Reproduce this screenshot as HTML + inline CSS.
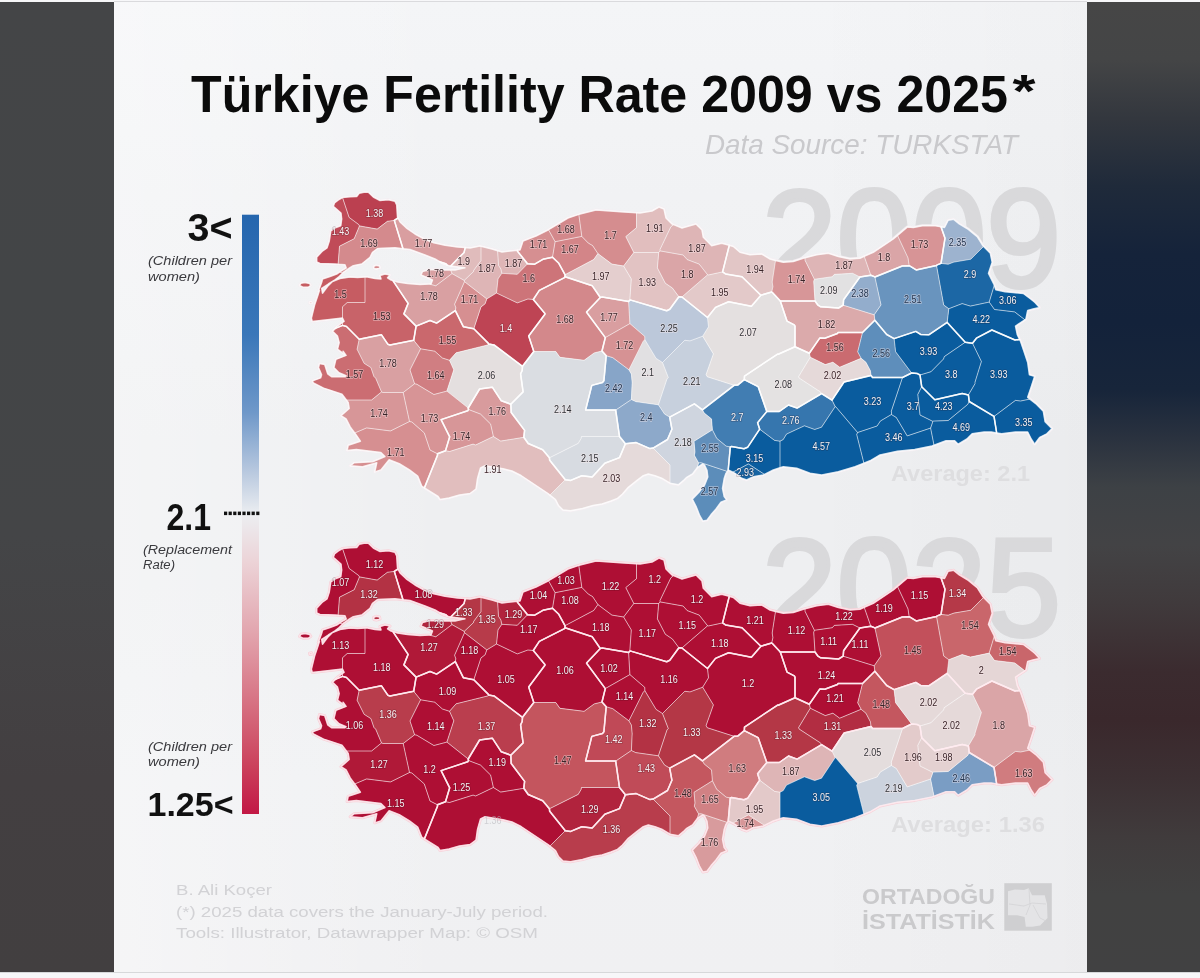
<!DOCTYPE html>
<html lang="en"><head><meta charset="utf-8">
<title>Türkiye Fertility Rate 2009 vs 2025</title>
<style>
html,body{margin:0;padding:0}
body{width:1200px;height:978px;position:relative;overflow:hidden;background:#f7f7f9;font-family:"Liberation Sans",Arial,sans-serif}
#left{position:absolute;left:0;top:2px;width:114px;height:970px;background:linear-gradient(to bottom,#444547 0%,#434547 30%,#444547 55%,#433f41 80%,#423f40 100%)}
#right{position:absolute;left:1087px;top:2px;width:113px;height:970px;background:linear-gradient(to bottom,#464646 0%,#444546 6%,#33373e 12%,#1f2a3a 19%,#15233a 26%,#13223a 33%,#17253a 40%,#2a323f 45%,#3d4145 50%,#434345 56%,#403a3c 62%,#3b2b2f 69%,#3a282c 74%,#3c3033 80%,#403b3c 86%,#414141 92%,#414142 100%)}
#panel{position:absolute;left:114px;top:2px;width:973px;height:970px;background:linear-gradient(to bottom,#f4f5f7 0%,#f1f2f4 20%,#eeeff1 45%,#eeeff1 60%,#f0f1f3 80%,#f0f0f2 100%)}
#shade{position:absolute;left:114px;top:2px;width:973px;height:970px;background:linear-gradient(to right,rgba(255,255,255,0.35) 0%,rgba(255,255,255,0) 35%,rgba(0,0,0,0) 70%,rgba(0,0,0,0.015) 100%)}
#tl{position:absolute;left:114px;top:1px;width:973px;height:1px;background:#dadadd}
#bl{position:absolute;left:0;top:972px;width:1200px;height:1px;background:#d7d8da}
svg{position:absolute;left:0;top:0}
.lb{font-family:"Liberation Sans",Arial,sans-serif;font-size:10.6px;text-anchor:middle;stroke-width:1.7px;paint-order:stroke;stroke-linejoin:round}
.t{position:absolute;white-space:nowrap;line-height:1}
</style></head><body>
<div id="left"></div><div id="right"></div><div id="panel"></div><div id="shade"></div><div id="tl"></div><div id="bl"></div>
<svg width="1200" height="978" viewBox="0 0 1200 978">
<defs>
<linearGradient id="lg" x1="0" y1="0" x2="0" y2="1">
<stop offset="0.000" stop-color="#2566ae"/>
<stop offset="0.200" stop-color="#3a77b9"/>
<stop offset="0.330" stop-color="#6f98c9"/>
<stop offset="0.430" stop-color="#b9c9df"/>
<stop offset="0.500" stop-color="#eceef1"/>
<stop offset="0.580" stop-color="#ecd3d7"/>
<stop offset="0.700" stop-color="#e2a4ad"/>
<stop offset="0.820" stop-color="#d66f80"/>
<stop offset="0.920" stop-color="#cb415c"/>
<stop offset="1.000" stop-color="#c21845"/>
</linearGradient>
</defs>
<!-- watermark years -->
<text id="w1" x="1061" y="286.5" text-anchor="end" font-family="Liberation Sans, Arial, sans-serif" font-size="140" fill="#d9d9db" stroke="#d9d9db" stroke-width="4" textLength="299" lengthAdjust="spacingAndGlyphs">2009</text>
<text id="w2" x="1061" y="635.5" text-anchor="end" font-family="Liberation Sans, Arial, sans-serif" font-size="140" fill="#d9d9db" stroke="#d9d9db" stroke-width="4" textLength="299" lengthAdjust="spacingAndGlyphs">2025</text>
<text x="891" y="481" font-family="Liberation Sans, Arial, sans-serif" font-weight="bold" font-size="22" fill="#dedee0" textLength="139" lengthAdjust="spacingAndGlyphs">Average: 2.1</text>
<text x="891" y="832" font-family="Liberation Sans, Arial, sans-serif" font-weight="bold" font-size="22" fill="#dedee0" textLength="154" lengthAdjust="spacingAndGlyphs">Average: 1.36</text>
<g id="m2009">
<path d="M376.5 269.0 380.0 268.0 379.5 266.0 376.0 265.3 373.5 266.5 374.0 268.5ZM308.5 287.0 310.8 285.3 309.5 283.4 305.0 282.6 301.0 283.2 299.5 285.5 303.0 287.2ZM312.0 303.2 311.5 301.8 309.5 302.3 310.0 303.6ZM314.6 305.0 311.4 318.1 312.2 321.4 327.7 319.7 342.4 318.1 344.1 321.4 337.5 326.3 332.6 331.2 337.5 336.1 339.2 342.6 337.5 349.2 344.1 354.1 343.1 351.3 346.1 355.4 335.9 359.4 333.9 367.6 339.0 372.7 346.1 375.8 345.1 376.8 331.8 376.8 327.7 373.8 324.7 364.6 319.5 363.5 318.5 367.6 321.6 374.8 320.6 377.9 312.4 380.9 313.4 383.0 323.6 388.1 329.8 390.1 342.0 394.2 348.2 402.4 349.2 408.5 341.0 415.7 346.1 418.8 350.2 426.9 356.3 435.1 360.4 441.2 348.2 445.3 347.1 450.5 356.3 449.4 380.9 452.5 385.0 456.6 372.7 461.7 354.3 462.7 350.2 465.8 362.5 466.8 376.8 462.7 374.8 471.9 380.9 469.9 389.1 459.7 399.3 463.7 409.5 469.9 417.7 476.0 421.8 486.2 430.0 491.4 438.1 496.5 440.0 499.5 449.0 498.0 459.5 495.0 470.0 493.5 476.0 489.0 477.5 478.5 480.5 468.0 485.0 465.7 494.0 467.3 503.0 468.7 512.0 471.0 521.0 475.5 530.0 481.5 539.0 487.5 548.0 493.5 555.5 499.5 558.5 505.5 563.0 510.0 570.5 510.7 582.5 508.5 593.0 505.5 602.0 504.0 611.0 501.0 617.5 498.4 622.5 494.0 628.3 487.3 636.7 480.7 643.3 475.7 648.3 474.0 655.0 475.7 661.7 478.2 670.0 483.2 678.3 484.8 683.3 480.7 686.7 477.3 692.5 474.0 697.5 467.3 702.5 464.0 704.5 465.0 707.0 470.4 707.8 477.0 704.5 485.2 698.8 492.5 692.3 499.1 696.4 507.2 699.6 515.4 702.9 521.1 707.0 520.3 711.1 514.6 716.0 508.9 720.9 502.3 726.6 499.9 724.2 496.6 722.5 488.4 724.2 478.6 725.8 473.7 728.3 470.0 735.0 473.3 741.7 478.3 746.7 480.0 753.3 476.7 763.3 475.0 773.3 470.0 783.3 466.7 796.7 468.3 810.0 473.3 821.7 475.0 838.3 471.7 855.0 466.7 870.0 460.8 880.0 455.0 897.4 451.2 914.7 449.4 932.1 445.9 946.0 440.7 954.7 440.7 958.2 444.2 966.9 439.0 972.1 433.8 984.2 432.0 991.2 432.0 1001.6 433.8 1015.5 432.0 1027.7 432.0 1031.2 439.0 1034.6 444.2 1039.8 437.3 1046.8 433.8 1052.0 428.6 1045.1 421.6 1043.3 411.2 1036.4 404.2 1027.7 397.3 1031.2 386.9 1034.6 376.4 1029.4 374.7 1027.7 362.5 1024.2 352.1 1020.7 341.7 1017.3 334.7 1015.5 326.1 1025.9 319.1 1027.7 310.4 1033.0 309.0 1039.5 307.5 1035.0 302.5 1030.7 299.0 1023.3 293.5 1005.0 291.7 995.8 289.8 994.0 284.3 988.5 273.3 992.2 262.3 990.3 253.2 983.0 245.8 977.5 237.0 968.3 229.3 959.2 223.8 953.7 219.3 948.2 220.2 944.5 227.5 935.3 225.7 922.5 225.7 913.3 227.5 907.5 227.0 893.3 239.0 883.3 245.7 873.3 252.3 860.0 258.2 850.0 259.0 838.3 256.5 828.3 253.2 816.7 254.8 803.3 258.2 793.3 261.5 783.3 262.3 770.0 259.0 761.7 254.0 750.0 254.8 740.0 252.3 733.3 246.5 721.7 243.2 711.7 245.7 703.3 237.3 702.0 230.0 696.0 224.0 682.0 228.0 672.0 224.0 666.0 218.0 664.0 209.0 659.0 207.0 652.0 211.0 640.0 213.0 624.0 212.0 610.0 211.0 596.0 210.0 580.0 214.0 568.0 218.0 558.0 224.0 548.0 230.0 536.0 236.0 523.0 241.0 520.0 250.0 502.0 252.0 492.0 249.0 480.0 246.0 470.0 248.0 457.5 247.0 445.0 245.2 433.8 242.8 425.0 239.5 415.0 234.0 406.2 227.8 400.0 222.0 397.5 217.0 396.7 204.8 395.0 201.3 388.3 199.8 380.0 200.5 373.3 197.0 368.3 192.3 364.0 192.3 359.2 193.2 356.7 196.5 350.0 196.8 342.5 197.5 339.0 199.5 334.5 203.0 333.3 206.3 337.0 209.5 341.0 213.0 341.7 219.0 340.8 225.7 336.0 227.5 330.8 231.0 329.3 241.0 327.0 248.0 322.0 251.5 316.7 257.3 316.7 262.0 320.0 263.5 335.0 264.0 345.0 264.8 346.2 268.0 341.7 270.7 336.7 274.0 330.0 276.5 322.5 279.0 321.7 282.3 319.2 289.0 318.3 291.5 319.5 290.3 317.9 295.2ZM335.0 279.8 339.2 276.5 343.3 272.3 349.2 268.2 353.3 265.7 361.7 264.0 370.0 257.3 372.5 252.3 377.5 248.5 395.0 247.8 410.0 249.5 425.0 255.0 435.0 259.0 442.5 263.5 450.0 266.0 465.0 267.8 455.0 270.0 442.5 270.0 430.0 269.5 422.5 271.5 421.0 275.0 427.5 277.8 432.5 280.0 431.0 284.0 420.0 284.5 407.5 283.5 397.5 282.0 391.0 280.0 387.5 277.8 390.0 275.0 385.0 274.0 380.0 275.5 381.0 279.0 375.0 278.5 367.5 277.0 357.5 277.5 350.0 277.0 340.0 278.5 332.5 281.5 327.5 286.5 322.5 293.2 321.7 288.4 328.3 284.0Z" fill="none" stroke="#f4eef2" stroke-width="3" stroke-linejoin="round"/>
<path d="M339.5 246.2 354.2 238.7 359.5 225.9 358.7 224.5 349.1 217.4 342.5 197.5 339.0 199.5 334.5 203.0 333.3 206.3 337.0 209.5 341.0 213.0 341.7 219.0 340.8 225.7 336.0 227.5 330.8 231.0 329.3 241.0 327.0 248.0 322.0 251.5 316.7 257.3 316.7 262.0 320.0 263.5 335.0 264.0 338.1 264.3Z" fill="#c04b58"/>
<path d="M398.0 218.0 397.5 217.0 396.7 204.8 395.0 201.3 388.3 199.8 380.0 200.5 373.3 197.0 368.3 192.3 364.0 192.3 359.2 193.2 356.7 196.5 350.0 196.8 342.5 197.5 349.1 217.4 358.7 224.5 359.5 225.9 377.2 229.1 387.4 221.3 394.3 220.4Z" fill="#bb4050"/>
<path d="M359.5 225.9 354.2 238.7 339.5 246.2 338.1 264.3 345.0 264.8 346.2 268.0 341.7 270.7 339.6 272.1 342.7 273.0 343.3 272.3 349.2 268.2 353.3 265.7 361.7 264.0 370.0 257.3 372.5 252.3 377.5 248.5 395.0 247.8 403.0 248.7 394.3 220.4 387.4 221.3 377.2 229.1ZM378.7 268.4 380.0 268.0 379.5 266.0 376.0 265.3 373.5 266.5 374.0 268.5 375.3 268.8Z" fill="#d48a8d"/>
<path d="M394.3 220.4 403.0 248.7 410.0 249.5 425.0 255.0 435.0 259.0 439.6 261.7 445.7 263.6 447.2 265.1 450.0 266.0 450.7 266.1 464.1 252.4 465.2 247.6 457.5 247.0 445.0 245.2 433.8 242.8 425.0 239.5 415.0 234.0 406.2 227.8 400.0 222.0 398.0 218.0Z" fill="#d99ea0"/>
<path d="M450.7 266.1 465.0 267.8 455.0 270.0 450.6 270.0 452.0 273.6 464.2 280.4 473.4 271.7 473.8 270.2 481.0 260.6 481.0 246.2 480.0 246.0 470.0 248.0 465.2 247.6 464.1 252.4Z" fill="#e0bcbc"/>
<path d="M481.0 260.6 473.8 270.2 473.4 271.7 464.2 280.4 464.5 281.7 486.8 298.9 496.5 293.0 498.0 278.9 501.8 273.3 500.9 269.0 498.5 265.3 497.6 250.7 492.0 249.0 481.0 246.2Z" fill="#deb5b6"/>
<path d="M498.5 265.3 500.9 269.0 501.8 273.3 517.3 274.3 527.5 263.8 517.5 251.2 517.3 250.3 502.0 252.0 497.6 250.7Z" fill="#deb5b6"/>
<path d="M517.5 251.2 527.5 263.8 534.7 264.2 542.9 259.3 552.5 257.2 555.1 241.7 548.5 229.7 548.0 230.0 536.0 236.0 523.0 241.0 520.0 250.0 517.3 250.3Z" fill="#d68f91"/>
<path d="M555.1 241.7 581.8 236.4 578.8 214.4 568.0 218.0 558.0 224.0 548.5 229.7Z" fill="#d3888b"/>
<path d="M558.8 263.3 565.0 274.7 593.7 259.5 597.9 253.6 597.9 253.6 592.6 245.6 588.3 243.1 581.8 236.4 555.1 241.7 552.5 257.2Z" fill="#d38588"/>
<path d="M588.3 243.1 592.6 245.6 597.9 253.6 597.9 253.6 611.9 264.1 623.6 266.0 633.8 252.5 625.8 236.6 636.5 227.7 636.5 212.8 624.0 212.0 610.0 211.0 596.0 210.0 580.0 214.0 578.8 214.4 581.8 236.4Z" fill="#d58d8f"/>
<path d="M636.5 227.7 625.8 236.6 633.8 252.5 658.7 252.5 660.0 250.9 660.0 249.5 670.8 226.9 673.6 224.6 672.0 224.0 666.0 218.0 664.0 209.0 659.0 207.0 652.0 211.0 640.0 213.0 636.5 212.8Z" fill="#e1bebe"/>
<path d="M670.8 226.9 660.0 249.5 660.0 250.9 683.1 255.0 687.2 259.6 699.2 264.1 707.6 274.8 708.3 275.0 722.6 271.9 729.3 245.3 721.7 243.2 711.7 245.7 703.3 237.3 702.0 230.0 696.0 224.0 682.0 228.0 673.6 224.6Z" fill="#deb5b6"/>
<path d="M722.6 271.9 725.5 273.9 742.0 276.8 760.9 295.2 771.7 292.0 772.9 286.7 772.2 282.0 775.5 260.4 770.0 259.0 761.7 254.0 750.0 254.8 740.0 252.3 733.3 246.5 729.3 245.3Z" fill="#e2c6c6"/>
<path d="M771.7 292.0 772.4 292.5 780.3 301.0 815.0 301.0 813.7 281.3 814.4 279.3 805.0 260.3 805.0 257.8 803.3 258.2 793.3 261.5 783.3 262.3 775.5 260.4 772.2 282.0 772.9 286.7Z" fill="#d79698"/>
<path d="M805.0 260.3 814.4 279.3 832.3 276.7 834.3 274.4 852.5 273.3 859.9 277.0 870.8 275.2 864.2 256.3 860.0 258.2 850.0 259.0 838.3 256.5 828.3 253.2 816.7 254.8 805.0 257.8Z" fill="#deb5b6"/>
<path d="M870.8 275.2 874.3 276.6 874.9 277.0 902.3 266.0 909.2 265.7 908.0 257.9 897.5 235.5 893.3 239.0 883.3 245.7 873.3 252.3 864.2 256.3Z" fill="#daa5a7"/>
<path d="M908.0 257.9 909.2 265.7 916.2 269.9 936.5 265.4 937.2 264.9 941.0 263.4 945.0 238.2 941.0 226.8 935.3 225.7 922.5 225.7 913.3 227.5 907.5 227.0 897.5 235.5Z" fill="#d79496"/>
<path d="M945.0 238.2 941.0 263.4 948.2 264.2 953.9 262.1 970.8 259.2 983.6 246.4 983.0 245.8 977.5 237.0 968.3 229.3 959.2 223.8 953.7 219.3 948.2 220.2 944.5 227.5 941.0 226.8Z" fill="#9db3cf"/>
<path d="M953.9 262.1 948.2 264.2 941.0 263.4 937.2 264.9 936.5 265.4 943.7 305.0 948.8 308.7 962.2 303.6 970.4 306.1 989.2 302.1 994.3 285.1 994.0 284.3 988.5 273.3 992.2 262.3 990.3 253.2 983.6 246.4 970.8 259.2Z" fill="#1c67a5"/>
<path d="M989.2 302.1 994.5 309.5 1014.7 311.9 1024.9 319.8 1025.9 319.1 1027.7 310.4 1033.0 309.0 1039.5 307.5 1035.0 302.5 1030.7 299.0 1023.3 293.5 1005.0 291.7 995.8 289.8 994.3 285.1Z" fill="#0a5c9e"/>
<path d="M1015.0 340.0 1019.6 339.4 1017.3 334.7 1015.5 326.1 1024.9 319.8 1014.7 311.9 994.5 309.5 989.2 302.1 970.4 306.1 962.2 303.6 948.8 308.7 947.2 322.4 965.2 342.3 972.5 343.3 976.4 338.2 991.9 330.0Z" fill="#0a5c9e"/>
<path d="M916.2 269.9 909.2 265.7 902.3 266.0 874.9 277.0 881.0 304.9 874.2 314.8 874.8 320.2 886.7 334.5 894.1 338.6 915.8 331.4 920.6 334.4 929.1 334.7 947.2 322.4 948.8 308.7 943.7 305.0 936.5 265.4Z" fill="#6994be"/>
<path d="M843.2 305.2 874.2 314.8 881.0 304.9 874.9 277.0 874.3 276.6 870.8 275.2 859.9 277.0 843.6 299.8Z" fill="#93adcc"/>
<path d="M852.5 273.3 834.3 274.4 832.3 276.7 814.4 279.3 813.7 281.3 815.0 301.0 818.0 305.2 820.7 306.8 838.6 308.0 843.2 305.2 843.6 299.8 859.9 277.0Z" fill="#e2e1e2"/>
<path d="M795.0 326.1 795.0 346.7 809.3 353.2 819.9 337.9 824.8 338.2 837.4 333.5 838.1 332.5 862.5 332.5 874.8 320.2 874.2 314.8 843.2 305.2 838.6 308.0 820.7 306.8 818.0 305.2 815.0 301.0 780.3 301.0 787.0 321.1 794.3 324.9Z" fill="#dbaaab"/>
<path d="M838.1 332.5 837.4 333.5 824.8 338.2 819.9 337.9 809.3 353.2 810.3 357.2 825.3 364.6 832.9 362.2 839.7 367.2 861.1 358.3 857.7 351.8 862.5 332.5Z" fill="#ca6b70"/>
<path d="M857.7 351.8 861.1 358.3 865.9 362.2 870.4 370.8 871.0 375.4 872.5 377.5 902.5 377.5 911.6 373.0 895.6 351.7 894.1 338.6 886.7 334.5 874.8 320.2 862.5 332.5Z" fill="#5e8ebb"/>
<path d="M947.2 322.4 929.1 334.7 920.6 334.4 915.8 331.4 894.1 338.6 895.6 351.7 911.6 373.0 917.4 373.6 920.0 375.0 931.0 371.7 943.5 359.0 944.3 356.6 965.2 342.3Z" fill="#0a5c9e"/>
<path d="M931.0 371.7 920.0 375.0 921.7 386.7 934.8 399.8 962.2 393.4 968.4 394.9 975.0 383.7 975.0 382.2 981.4 361.5 972.5 343.3 965.2 342.3 944.3 356.6 943.5 359.0Z" fill="#0a5c9e"/>
<path d="M975.0 382.2 975.0 383.7 968.4 394.9 969.2 401.5 994.0 416.4 1015.4 400.4 1020.6 401.0 1029.9 399.1 1027.7 397.3 1031.2 386.9 1034.6 376.4 1029.4 374.7 1027.7 362.5 1024.2 352.1 1020.7 341.7 1019.6 339.4 1015.0 340.0 991.9 330.0 976.4 338.2 972.5 343.3 981.4 361.5Z" fill="#0a5c9e"/>
<path d="M1020.6 401.0 1015.4 400.4 994.0 416.4 996.7 433.0 1001.6 433.8 1015.5 432.0 1027.7 432.0 1031.2 439.0 1034.6 444.2 1039.8 437.3 1046.8 433.8 1052.0 428.6 1045.1 421.6 1043.3 411.2 1036.4 404.2 1029.9 399.1Z" fill="#0a5c9e"/>
<path d="M933.3 421.1 932.9 421.4 930.6 428.1 934.0 445.2 946.0 440.7 954.7 440.7 958.2 444.2 966.9 439.0 972.1 433.8 984.2 432.0 991.2 432.0 996.7 433.0 994.0 416.4 969.2 401.5 967.7 404.4 948.2 420.5Z" fill="#0a5c9e"/>
<path d="M920.0 415.0 932.9 421.4 933.3 421.1 948.2 420.5 967.7 404.4 969.2 401.5 968.4 394.9 962.2 393.4 934.8 399.8 921.7 386.7 917.8 394.4Z" fill="#0a5c9e"/>
<path d="M891.3 411.2 891.6 413.0 891.4 414.5 896.3 417.5 907.2 435.9 930.6 428.1 932.9 421.4 920.0 415.0 917.8 394.4 921.7 386.7 920.0 375.0 917.4 373.6 911.6 373.0 902.5 377.5Z" fill="#0a5c9e"/>
<path d="M891.4 414.5 880.4 421.0 877.1 426.0 857.6 432.5 856.7 434.5 863.9 463.2 870.0 460.8 880.0 455.0 897.4 451.2 914.7 449.4 932.1 445.9 934.0 445.2 930.6 428.1 907.2 435.9 896.3 417.5Z" fill="#0a5c9e"/>
<path d="M857.6 432.5 877.1 426.0 880.4 421.0 891.4 414.5 891.6 413.0 891.3 411.2 902.5 377.5 872.5 377.5 871.0 375.4 844.0 382.1 832.0 400.1 835.2 406.6 835.8 406.8Z" fill="#0a5c9e"/>
<path d="M870.4 370.8 865.9 362.2 861.1 358.3 839.7 367.2 832.9 362.2 825.3 364.6 810.3 357.2 798.6 376.6 799.2 378.1 820.6 392.0 821.6 393.7 832.0 400.1 844.0 382.1 871.0 375.4Z" fill="#e5d9d9"/>
<path d="M809.3 353.2 795.0 346.7 778.2 354.3 777.6 354.1 744.5 376.1 744.3 379.7 758.1 386.6 766.8 411.5 779.3 411.5 788.5 405.0 797.1 408.1 821.6 393.7 820.6 392.0 799.2 378.1 798.6 376.6 810.3 357.2Z" fill="#e4e2e2"/>
<path d="M821.5 427.2 835.2 406.6 832.0 400.1 821.6 393.7 797.1 408.1 788.5 405.0 779.3 411.5 766.8 411.5 757.6 422.7 759.7 429.2 774.6 440.4 780.0 441.2 783.2 439.6 786.5 434.1 804.4 425.8 814.7 429.5Z" fill="#3676ae"/>
<path d="M835.8 406.8 835.2 406.6 821.5 427.2 814.7 429.5 804.4 425.8 786.5 434.1 783.2 439.6 780.0 441.2 780.0 467.8 783.3 466.7 796.7 468.3 810.0 473.3 821.7 475.0 838.3 471.7 855.0 466.7 863.9 463.2 856.7 434.5 857.6 432.5Z" fill="#0a5c9e"/>
<path d="M747.6 447.3 744.0 448.8 731.5 446.5 730.3 447.0 728.2 470.2 728.3 470.0 732.8 472.2 748.4 463.9 764.5 474.4 773.3 470.0 780.0 467.8 780.0 441.2 774.6 440.4 759.7 429.2Z" fill="#0a5c9e"/>
<path d="M748.4 463.9 732.8 472.2 735.0 473.3 741.7 478.3 746.7 480.0 753.3 476.7 763.3 475.0 764.5 474.4Z" fill="#1764a3"/>
<path d="M701.0 462.7 698.6 462.9 697.2 467.7 697.5 467.3 702.5 464.0 704.5 465.0 707.0 470.4 707.8 477.0 704.5 485.2 698.8 492.5 692.3 499.1 696.4 507.2 699.6 515.4 702.9 521.1 707.0 520.3 711.1 514.6 716.0 508.9 720.9 502.3 726.6 499.9 724.2 496.6 722.5 488.4 724.2 478.6 725.8 473.7 727.3 471.4Z" fill="#5c8dba"/>
<path d="M694.3 455.2 698.6 462.9 701.0 462.7 727.3 471.4 728.2 470.2 730.3 447.0 726.1 446.1 716.7 438.3 712.4 429.8 694.0 441.3 695.0 452.0Z" fill="#618fbb"/>
<path d="M758.1 386.6 744.3 379.7 737.7 385.1 734.1 385.3 702.4 409.8 704.1 412.9 711.5 418.9 712.4 429.8 716.7 438.3 726.1 446.1 730.3 447.0 731.5 446.5 744.0 448.8 747.6 447.3 759.7 429.2 757.6 422.7 766.8 411.5Z" fill="#417db2"/>
<path d="M711.5 418.9 704.1 412.9 702.4 409.8 694.4 403.8 669.7 417.1 671.9 429.2 667.5 439.5 653.1 448.1 670.0 465.0 670.0 483.2 678.3 484.8 683.3 480.7 686.7 477.3 692.5 474.0 697.2 467.7 698.6 462.9 694.3 455.2 695.0 452.0 694.0 441.3 712.4 429.8Z" fill="#cfd5df"/>
<path d="M670.0 465.0 653.1 448.1 650.0 448.6 636.2 442.6 625.4 443.8 619.5 457.6 604.8 463.2 592.2 477.0 581.8 475.7 570.7 480.4 565.3 479.7 549.9 495.1 555.5 499.5 558.5 505.5 563.0 510.0 570.5 510.7 582.5 508.5 593.0 505.5 602.0 504.0 611.0 501.0 617.5 498.4 622.5 494.0 628.3 487.3 636.7 480.7 643.3 475.7 648.3 474.0 655.0 475.7 661.7 478.2 670.0 483.2Z" fill="#e5dada"/>
<path d="M625.4 443.8 619.5 436.5 581.5 436.5 581.1 438.5 578.2 443.4 549.4 457.8 549.7 460.3 565.3 479.7 570.7 480.4 581.8 475.7 592.2 477.0 604.8 463.2 619.5 457.6Z" fill="#d7dbe1"/>
<path d="M635.7 401.6 631.4 399.5 615.7 410.1 619.5 436.5 625.4 443.8 636.2 442.6 650.0 448.6 653.1 448.1 667.5 439.5 671.9 429.2 669.7 417.1 664.6 414.1 658.4 404.8Z" fill="#8da9ca"/>
<path d="M602.5 382.5 591.8 385.4 585.6 410.0 615.5 410.0 615.7 410.1 631.4 399.5 632.1 383.5 632.2 383.2 631.4 374.1 628.9 369.8 612.8 357.7 606.2 355.7 603.9 380.7Z" fill="#87a5c8"/>
<path d="M632.2 383.2 632.1 383.5 631.4 399.5 635.7 401.6 658.4 404.8 667.0 378.9 668.3 377.6 662.5 362.5 656.1 358.4 644.8 339.6 643.1 341.4 628.9 369.8 631.4 374.1Z" fill="#e1e0e2"/>
<path d="M684.5 340.5 662.5 362.5 668.3 377.6 667.0 378.9 658.4 404.8 664.6 414.1 669.7 417.1 694.4 403.8 702.4 409.8 734.1 385.3 707.2 376.7 706.1 374.5 713.4 353.9 702.7 336.2 690.0 340.9 685.0 340.3Z" fill="#c7d0dd"/>
<path d="M772.4 292.5 771.7 292.0 760.9 295.2 751.4 306.3 728.6 301.7 715.5 307.4 707.5 317.5 708.5 326.8 702.7 336.2 713.4 353.9 706.1 374.5 707.2 376.7 734.1 385.3 737.7 385.1 744.3 379.7 744.5 376.1 777.6 354.1 778.2 354.3 795.0 346.7 795.0 326.1 794.3 324.9 787.0 321.1 780.3 301.0Z" fill="#e4e0e0"/>
<path d="M751.4 306.3 760.9 295.2 742.0 276.8 725.5 273.9 722.6 271.9 708.3 275.0 707.6 274.8 681.9 297.0 707.5 317.5 715.5 307.4 728.6 301.7Z" fill="#e3c9c9"/>
<path d="M657.4 267.9 665.3 283.2 672.4 288.0 678.9 296.8 681.9 297.0 707.6 274.8 699.2 264.1 687.2 259.6 683.1 255.0 660.0 250.9 658.7 252.5Z" fill="#daa5a7"/>
<path d="M631.3 278.9 629.8 300.2 630.8 300.1 666.7 310.7 669.8 309.2 678.9 296.8 672.4 288.0 665.3 283.2 657.4 267.9 658.7 252.5 633.8 252.5 623.6 266.0Z" fill="#e2c3c3"/>
<path d="M644.8 336.4 644.8 339.6 656.1 358.4 662.5 362.5 684.5 340.5 685.0 340.3 690.0 340.9 702.7 336.2 708.5 326.8 707.5 317.5 681.9 297.0 678.9 296.8 669.8 309.2 666.7 310.7 630.8 300.1 629.8 300.2 628.6 301.4 629.9 323.6Z" fill="#bcc8da"/>
<path d="M612.8 357.7 628.9 369.8 643.1 341.4 644.8 339.6 644.8 336.4 629.9 323.6 605.3 337.6 602.0 351.0 606.2 355.7Z" fill="#d69294"/>
<path d="M586.6 312.2 605.3 337.6 629.9 323.6 628.6 301.4 602.2 297.1 600.3 297.5 586.6 312.0Z" fill="#d99ea0"/>
<path d="M592.3 285.8 600.3 297.5 602.2 297.1 628.6 301.4 629.8 300.2 631.3 278.9 623.6 266.0 611.9 264.1 597.9 253.6 593.7 259.5 565.0 274.7 565.0 276.7Z" fill="#e4cece"/>
<path d="M533.3 299.5 544.9 313.4 544.9 314.2 528.7 336.0 533.8 351.5 555.8 351.5 559.9 357.3 584.1 360.3 594.2 352.9 602.0 351.0 605.3 337.6 586.6 312.2 586.6 312.0 600.3 297.5 592.3 285.8 565.0 276.7 564.5 277.7 539.3 290.4Z" fill="#d3888b"/>
<path d="M522.5 366.3 522.2 370.5 520.6 373.9 523.1 391.9 510.8 404.2 511.2 412.5 524.6 430.4 523.8 437.3 528.2 443.5 542.7 449.7 549.4 457.8 578.2 443.4 581.1 438.5 581.5 436.5 619.5 436.5 615.7 410.1 615.5 410.0 585.6 410.0 591.8 385.4 602.5 382.5 603.9 380.7 606.2 355.7 602.0 351.0 594.2 352.9 584.1 360.3 559.9 357.3 555.8 351.5 533.8 351.5Z" fill="#dadde2"/>
<path d="M527.5 263.8 517.3 274.3 501.8 273.3 498.0 278.9 496.5 293.0 517.3 302.9 527.9 299.0 533.3 299.5 539.3 290.4 564.5 277.7 565.0 276.7 565.0 274.7 558.8 263.3 552.5 257.2 542.9 259.3 534.7 264.2Z" fill="#cd7479"/>
<path d="M481.0 306.9 473.8 328.8 488.4 343.4 488.6 344.0 494.0 344.9 522.5 366.3 533.8 351.5 528.7 336.0 544.9 314.2 544.9 313.4 533.3 299.5 527.9 299.0 517.3 302.9 496.5 293.0 486.8 298.9 485.1 303.8Z" fill="#be4454"/>
<path d="M455.3 310.6 463.3 326.7 473.8 328.8 481.0 306.9 485.1 303.8 486.8 298.9 464.5 281.7 454.6 304.2 455.8 307.7Z" fill="#d68f91"/>
<path d="M408.1 303.4 403.9 313.9 416.1 326.1 430.0 320.5 436.6 323.1 455.3 310.6 455.8 307.7 454.6 304.2 464.5 281.7 464.2 280.4 452.0 273.6 435.8 285.8 429.5 284.1 420.0 284.5 407.5 283.5 397.5 282.0 392.9 280.6Z" fill="#d9a0a2"/>
<path d="M435.8 285.8 452.0 273.6 450.6 270.0 442.5 270.0 430.0 269.5 422.5 271.5 421.0 275.0 427.5 277.8 432.5 280.0 431.0 284.0 429.5 284.1ZM445.7 263.6 439.6 261.7 442.5 263.5 447.2 265.1Z" fill="#d9a0a2"/>
<path d="M347.2 302.5 342.5 306.8 342.5 318.2 344.1 321.4 342.5 322.5 342.5 325.4 346.5 326.5 359.2 339.2 381.4 334.7 381.5 334.8 387.8 344.2 390.0 345.0 413.7 340.3 416.1 326.1 403.9 313.9 408.1 303.4 392.9 280.6 391.0 280.0 387.5 277.8 390.0 275.0 385.0 274.0 380.0 275.5 381.0 279.0 375.0 278.5 367.5 277.0 365.0 277.1 365.0 302.5ZM375.3 268.8 376.5 269.0 378.7 268.4Z" fill="#c86369"/>
<path d="M339.6 272.1 336.7 274.0 330.0 276.5 322.5 279.0 321.7 282.3 319.2 289.0 318.3 291.5 319.5 290.3 317.9 295.2 314.6 305.0 311.4 318.1 312.2 321.4 327.7 319.7 342.4 318.1 342.5 318.2 342.5 306.8 347.2 302.5 365.0 302.5 365.0 277.1 357.5 277.5 350.0 277.0 340.0 278.5 332.5 281.5 327.5 286.5 322.5 293.2 321.7 288.4 328.3 284.0 335.0 279.8 339.2 276.5 342.7 273.0ZM342.5 325.4 342.5 322.5 337.5 326.3 335.4 328.4ZM310.8 285.3 309.5 283.4 305.0 282.6 301.0 283.2 299.5 285.5 303.0 287.2 308.5 287.0ZM311.5 301.8 309.5 302.3 310.0 303.6 312.0 303.2Z" fill="#c65c62"/>
<path d="M436.6 323.1 430.0 320.5 416.1 326.1 413.7 340.3 420.6 348.8 434.8 351.2 442.4 358.0 449.5 360.3 456.1 352.8 487.9 344.9 488.6 344.0 488.4 343.4 473.8 328.8 463.3 326.7 455.3 310.6Z" fill="#ca686d"/>
<path d="M373.9 376.4 375.7 378.2 381.5 391.9 382.9 392.5 403.2 392.5 414.6 383.8 410.0 370.0 420.6 348.8 413.7 340.3 390.0 345.0 387.8 344.2 381.5 334.8 381.4 334.7 359.2 339.2 357.1 349.3 364.1 363.3 370.9 367.6Z" fill="#d9a0a2"/>
<path d="M359.2 339.2 346.5 326.5 342.5 325.4 335.4 328.4 332.6 331.2 337.5 336.1 339.2 342.6 337.5 349.2 344.1 354.1 343.1 351.3 346.1 355.4 335.9 359.4 333.9 367.6 339.0 372.7 346.1 375.8 345.1 376.8 331.8 376.8 327.7 373.8 324.7 364.6 319.5 363.5 318.5 367.6 321.6 374.8 320.6 377.9 312.4 380.9 313.4 383.0 323.6 388.1 329.8 390.1 342.0 394.2 346.4 400.0 371.6 400.0 381.5 391.9 375.7 378.2 373.9 376.4 370.9 367.6 364.1 363.3 357.1 349.3Z" fill="#cb6d72"/>
<path d="M416.8 384.2 433.9 394.5 446.9 391.1 453.8 369.8 449.5 360.3 442.4 358.0 434.8 351.2 420.6 348.8 410.0 370.0 414.6 383.8Z" fill="#d07e82"/>
<path d="M446.9 391.1 468.2 408.0 479.6 389.0 492.3 387.2 501.3 400.8 510.8 404.2 523.1 391.9 520.6 373.9 522.2 370.5 522.5 366.3 494.0 344.9 488.6 344.0 487.9 344.9 456.1 352.8 449.5 360.3 453.8 369.8Z" fill="#e4dfdf"/>
<path d="M391.0 430.7 409.5 421.5 403.2 392.5 382.9 392.5 381.5 391.9 371.6 400.0 346.4 400.0 348.2 402.4 349.2 408.5 341.0 415.7 346.1 418.8 350.2 426.9 354.7 433.0 366.6 427.9 390.9 431.0Z" fill="#d79698"/>
<path d="M424.3 432.9 430.0 450.0 437.5 453.8 445.5 450.7 449.7 436.8 441.1 419.6 467.7 410.8 468.5 409.5 468.2 408.0 446.9 391.1 433.9 394.5 416.8 384.2 414.6 383.8 403.2 392.5 409.5 421.5 411.9 422.0Z" fill="#d79496"/>
<path d="M480.5 414.1 490.6 424.1 493.4 436.5 500.7 441.1 523.8 437.3 524.6 430.4 511.2 412.5 510.8 404.2 501.3 400.8 492.3 387.2 479.6 389.0 468.2 408.0 468.5 409.5Z" fill="#d89b9d"/>
<path d="M445.5 450.7 449.5 451.5 473.1 444.1 475.6 445.0 493.4 436.5 490.6 424.1 480.5 414.1 468.5 409.5 467.7 410.8 441.1 419.6 449.7 436.8Z" fill="#d79698"/>
<path d="M354.7 433.0 356.3 435.1 360.4 441.2 348.2 445.3 347.1 450.5 356.3 449.4 380.9 452.5 385.0 456.6 372.7 461.7 354.3 462.7 350.2 465.8 362.5 466.8 376.8 462.7 374.8 471.9 380.9 469.9 389.1 459.7 399.3 463.7 409.5 469.9 417.7 476.0 421.8 486.2 424.4 487.9 437.5 455.2 437.5 453.8 430.0 450.0 424.3 432.9 411.9 422.0 409.5 421.5 391.0 430.7 390.9 431.0 366.6 427.9Z" fill="#d68f91"/>
<path d="M542.7 449.7 528.2 443.5 523.8 437.3 500.7 441.1 493.4 436.5 475.6 445.0 473.1 444.1 449.5 451.5 445.5 450.7 437.5 453.8 437.5 455.2 424.4 487.9 430.0 491.4 438.1 496.5 440.0 499.5 449.0 498.0 459.5 495.0 470.0 493.5 476.0 489.0 477.5 478.5 480.5 468.0 485.0 465.7 494.0 467.3 503.0 468.7 512.0 471.0 521.0 475.5 530.0 481.5 539.0 487.5 548.0 493.5 549.9 495.1 565.3 479.7 549.7 460.3 549.4 457.8Z" fill="#e1bebe"/>
<path d="M339.5 246.2 354.2 238.7 359.5 225.9 358.7 224.5 349.1 217.4 342.5 197.5 339.0 199.5 334.5 203.0 333.3 206.3 337.0 209.5 341.0 213.0 341.7 219.0 340.8 225.7 336.0 227.5 330.8 231.0 329.3 241.0 327.0 248.0 322.0 251.5 316.7 257.3 316.7 262.0 320.0 263.5 335.0 264.0 338.1 264.3Z" fill="none" stroke="rgba(255,255,255,0.45)" stroke-width="0.7" stroke-linejoin="round"/>
<path d="M398.0 218.0 397.5 217.0 396.7 204.8 395.0 201.3 388.3 199.8 380.0 200.5 373.3 197.0 368.3 192.3 364.0 192.3 359.2 193.2 356.7 196.5 350.0 196.8 342.5 197.5 349.1 217.4 358.7 224.5 359.5 225.9 377.2 229.1 387.4 221.3 394.3 220.4Z" fill="none" stroke="rgba(255,255,255,0.45)" stroke-width="0.7" stroke-linejoin="round"/>
<path d="M359.5 225.9 354.2 238.7 339.5 246.2 338.1 264.3 345.0 264.8 346.2 268.0 341.7 270.7 339.6 272.1 342.7 273.0 343.3 272.3 349.2 268.2 353.3 265.7 361.7 264.0 370.0 257.3 372.5 252.3 377.5 248.5 395.0 247.8 403.0 248.7 394.3 220.4 387.4 221.3 377.2 229.1ZM378.7 268.4 380.0 268.0 379.5 266.0 376.0 265.3 373.5 266.5 374.0 268.5 375.3 268.8Z" fill="none" stroke="rgba(255,255,255,0.45)" stroke-width="0.7" stroke-linejoin="round"/>
<path d="M394.3 220.4 403.0 248.7 410.0 249.5 425.0 255.0 435.0 259.0 439.6 261.7 445.7 263.6 447.2 265.1 450.0 266.0 450.7 266.1 464.1 252.4 465.2 247.6 457.5 247.0 445.0 245.2 433.8 242.8 425.0 239.5 415.0 234.0 406.2 227.8 400.0 222.0 398.0 218.0Z" fill="none" stroke="rgba(255,255,255,0.45)" stroke-width="0.7" stroke-linejoin="round"/>
<path d="M450.7 266.1 465.0 267.8 455.0 270.0 450.6 270.0 452.0 273.6 464.2 280.4 473.4 271.7 473.8 270.2 481.0 260.6 481.0 246.2 480.0 246.0 470.0 248.0 465.2 247.6 464.1 252.4Z" fill="none" stroke="rgba(255,255,255,0.45)" stroke-width="0.7" stroke-linejoin="round"/>
<path d="M481.0 260.6 473.8 270.2 473.4 271.7 464.2 280.4 464.5 281.7 486.8 298.9 496.5 293.0 498.0 278.9 501.8 273.3 500.9 269.0 498.5 265.3 497.6 250.7 492.0 249.0 481.0 246.2Z" fill="none" stroke="rgba(255,255,255,0.45)" stroke-width="0.7" stroke-linejoin="round"/>
<path d="M498.5 265.3 500.9 269.0 501.8 273.3 517.3 274.3 527.5 263.8 517.5 251.2 517.3 250.3 502.0 252.0 497.6 250.7Z" fill="none" stroke="rgba(255,255,255,0.45)" stroke-width="0.7" stroke-linejoin="round"/>
<path d="M517.5 251.2 527.5 263.8 534.7 264.2 542.9 259.3 552.5 257.2 555.1 241.7 548.5 229.7 548.0 230.0 536.0 236.0 523.0 241.0 520.0 250.0 517.3 250.3Z" fill="none" stroke="rgba(255,255,255,0.45)" stroke-width="0.7" stroke-linejoin="round"/>
<path d="M555.1 241.7 581.8 236.4 578.8 214.4 568.0 218.0 558.0 224.0 548.5 229.7Z" fill="none" stroke="rgba(255,255,255,0.45)" stroke-width="0.7" stroke-linejoin="round"/>
<path d="M558.8 263.3 565.0 274.7 593.7 259.5 597.9 253.6 597.9 253.6 592.6 245.6 588.3 243.1 581.8 236.4 555.1 241.7 552.5 257.2Z" fill="none" stroke="rgba(255,255,255,0.45)" stroke-width="0.7" stroke-linejoin="round"/>
<path d="M588.3 243.1 592.6 245.6 597.9 253.6 597.9 253.6 611.9 264.1 623.6 266.0 633.8 252.5 625.8 236.6 636.5 227.7 636.5 212.8 624.0 212.0 610.0 211.0 596.0 210.0 580.0 214.0 578.8 214.4 581.8 236.4Z" fill="none" stroke="rgba(255,255,255,0.45)" stroke-width="0.7" stroke-linejoin="round"/>
<path d="M636.5 227.7 625.8 236.6 633.8 252.5 658.7 252.5 660.0 250.9 660.0 249.5 670.8 226.9 673.6 224.6 672.0 224.0 666.0 218.0 664.0 209.0 659.0 207.0 652.0 211.0 640.0 213.0 636.5 212.8Z" fill="none" stroke="rgba(255,255,255,0.45)" stroke-width="0.7" stroke-linejoin="round"/>
<path d="M670.8 226.9 660.0 249.5 660.0 250.9 683.1 255.0 687.2 259.6 699.2 264.1 707.6 274.8 708.3 275.0 722.6 271.9 729.3 245.3 721.7 243.2 711.7 245.7 703.3 237.3 702.0 230.0 696.0 224.0 682.0 228.0 673.6 224.6Z" fill="none" stroke="rgba(255,255,255,0.45)" stroke-width="0.7" stroke-linejoin="round"/>
<path d="M722.6 271.9 725.5 273.9 742.0 276.8 760.9 295.2 771.7 292.0 772.9 286.7 772.2 282.0 775.5 260.4 770.0 259.0 761.7 254.0 750.0 254.8 740.0 252.3 733.3 246.5 729.3 245.3Z" fill="none" stroke="rgba(255,255,255,0.45)" stroke-width="0.7" stroke-linejoin="round"/>
<path d="M771.7 292.0 772.4 292.5 780.3 301.0 815.0 301.0 813.7 281.3 814.4 279.3 805.0 260.3 805.0 257.8 803.3 258.2 793.3 261.5 783.3 262.3 775.5 260.4 772.2 282.0 772.9 286.7Z" fill="none" stroke="rgba(255,255,255,0.45)" stroke-width="0.7" stroke-linejoin="round"/>
<path d="M805.0 260.3 814.4 279.3 832.3 276.7 834.3 274.4 852.5 273.3 859.9 277.0 870.8 275.2 864.2 256.3 860.0 258.2 850.0 259.0 838.3 256.5 828.3 253.2 816.7 254.8 805.0 257.8Z" fill="none" stroke="rgba(255,255,255,0.45)" stroke-width="0.7" stroke-linejoin="round"/>
<path d="M870.8 275.2 874.3 276.6 874.9 277.0 902.3 266.0 909.2 265.7 908.0 257.9 897.5 235.5 893.3 239.0 883.3 245.7 873.3 252.3 864.2 256.3Z" fill="none" stroke="rgba(255,255,255,0.45)" stroke-width="0.7" stroke-linejoin="round"/>
<path d="M908.0 257.9 909.2 265.7 916.2 269.9 936.5 265.4 937.2 264.9 941.0 263.4 945.0 238.2 941.0 226.8 935.3 225.7 922.5 225.7 913.3 227.5 907.5 227.0 897.5 235.5Z" fill="none" stroke="rgba(255,255,255,0.45)" stroke-width="0.7" stroke-linejoin="round"/>
<path d="M945.0 238.2 941.0 263.4 948.2 264.2 953.9 262.1 970.8 259.2 983.6 246.4 983.0 245.8 977.5 237.0 968.3 229.3 959.2 223.8 953.7 219.3 948.2 220.2 944.5 227.5 941.0 226.8Z" fill="none" stroke="rgba(255,255,255,0.45)" stroke-width="0.7" stroke-linejoin="round"/>
<path d="M953.9 262.1 948.2 264.2 941.0 263.4 937.2 264.9 936.5 265.4 943.7 305.0 948.8 308.7 962.2 303.6 970.4 306.1 989.2 302.1 994.3 285.1 994.0 284.3 988.5 273.3 992.2 262.3 990.3 253.2 983.6 246.4 970.8 259.2Z" fill="none" stroke="rgba(255,255,255,0.45)" stroke-width="0.7" stroke-linejoin="round"/>
<path d="M989.2 302.1 994.5 309.5 1014.7 311.9 1024.9 319.8 1025.9 319.1 1027.7 310.4 1033.0 309.0 1039.5 307.5 1035.0 302.5 1030.7 299.0 1023.3 293.5 1005.0 291.7 995.8 289.8 994.3 285.1Z" fill="none" stroke="rgba(255,255,255,0.45)" stroke-width="0.7" stroke-linejoin="round"/>
<path d="M1015.0 340.0 1019.6 339.4 1017.3 334.7 1015.5 326.1 1024.9 319.8 1014.7 311.9 994.5 309.5 989.2 302.1 970.4 306.1 962.2 303.6 948.8 308.7 947.2 322.4 965.2 342.3 972.5 343.3 976.4 338.2 991.9 330.0Z" fill="none" stroke="rgba(255,255,255,0.45)" stroke-width="0.7" stroke-linejoin="round"/>
<path d="M916.2 269.9 909.2 265.7 902.3 266.0 874.9 277.0 881.0 304.9 874.2 314.8 874.8 320.2 886.7 334.5 894.1 338.6 915.8 331.4 920.6 334.4 929.1 334.7 947.2 322.4 948.8 308.7 943.7 305.0 936.5 265.4Z" fill="none" stroke="rgba(255,255,255,0.45)" stroke-width="0.7" stroke-linejoin="round"/>
<path d="M843.2 305.2 874.2 314.8 881.0 304.9 874.9 277.0 874.3 276.6 870.8 275.2 859.9 277.0 843.6 299.8Z" fill="none" stroke="rgba(255,255,255,0.45)" stroke-width="0.7" stroke-linejoin="round"/>
<path d="M852.5 273.3 834.3 274.4 832.3 276.7 814.4 279.3 813.7 281.3 815.0 301.0 818.0 305.2 820.7 306.8 838.6 308.0 843.2 305.2 843.6 299.8 859.9 277.0Z" fill="none" stroke="rgba(255,255,255,0.45)" stroke-width="0.7" stroke-linejoin="round"/>
<path d="M795.0 326.1 795.0 346.7 809.3 353.2 819.9 337.9 824.8 338.2 837.4 333.5 838.1 332.5 862.5 332.5 874.8 320.2 874.2 314.8 843.2 305.2 838.6 308.0 820.7 306.8 818.0 305.2 815.0 301.0 780.3 301.0 787.0 321.1 794.3 324.9Z" fill="none" stroke="rgba(255,255,255,0.45)" stroke-width="0.7" stroke-linejoin="round"/>
<path d="M838.1 332.5 837.4 333.5 824.8 338.2 819.9 337.9 809.3 353.2 810.3 357.2 825.3 364.6 832.9 362.2 839.7 367.2 861.1 358.3 857.7 351.8 862.5 332.5Z" fill="none" stroke="rgba(255,255,255,0.45)" stroke-width="0.7" stroke-linejoin="round"/>
<path d="M857.7 351.8 861.1 358.3 865.9 362.2 870.4 370.8 871.0 375.4 872.5 377.5 902.5 377.5 911.6 373.0 895.6 351.7 894.1 338.6 886.7 334.5 874.8 320.2 862.5 332.5Z" fill="none" stroke="rgba(255,255,255,0.45)" stroke-width="0.7" stroke-linejoin="round"/>
<path d="M947.2 322.4 929.1 334.7 920.6 334.4 915.8 331.4 894.1 338.6 895.6 351.7 911.6 373.0 917.4 373.6 920.0 375.0 931.0 371.7 943.5 359.0 944.3 356.6 965.2 342.3Z" fill="none" stroke="rgba(255,255,255,0.45)" stroke-width="0.7" stroke-linejoin="round"/>
<path d="M931.0 371.7 920.0 375.0 921.7 386.7 934.8 399.8 962.2 393.4 968.4 394.9 975.0 383.7 975.0 382.2 981.4 361.5 972.5 343.3 965.2 342.3 944.3 356.6 943.5 359.0Z" fill="none" stroke="rgba(255,255,255,0.45)" stroke-width="0.7" stroke-linejoin="round"/>
<path d="M975.0 382.2 975.0 383.7 968.4 394.9 969.2 401.5 994.0 416.4 1015.4 400.4 1020.6 401.0 1029.9 399.1 1027.7 397.3 1031.2 386.9 1034.6 376.4 1029.4 374.7 1027.7 362.5 1024.2 352.1 1020.7 341.7 1019.6 339.4 1015.0 340.0 991.9 330.0 976.4 338.2 972.5 343.3 981.4 361.5Z" fill="none" stroke="rgba(255,255,255,0.45)" stroke-width="0.7" stroke-linejoin="round"/>
<path d="M1020.6 401.0 1015.4 400.4 994.0 416.4 996.7 433.0 1001.6 433.8 1015.5 432.0 1027.7 432.0 1031.2 439.0 1034.6 444.2 1039.8 437.3 1046.8 433.8 1052.0 428.6 1045.1 421.6 1043.3 411.2 1036.4 404.2 1029.9 399.1Z" fill="none" stroke="rgba(255,255,255,0.45)" stroke-width="0.7" stroke-linejoin="round"/>
<path d="M933.3 421.1 932.9 421.4 930.6 428.1 934.0 445.2 946.0 440.7 954.7 440.7 958.2 444.2 966.9 439.0 972.1 433.8 984.2 432.0 991.2 432.0 996.7 433.0 994.0 416.4 969.2 401.5 967.7 404.4 948.2 420.5Z" fill="none" stroke="rgba(255,255,255,0.45)" stroke-width="0.7" stroke-linejoin="round"/>
<path d="M920.0 415.0 932.9 421.4 933.3 421.1 948.2 420.5 967.7 404.4 969.2 401.5 968.4 394.9 962.2 393.4 934.8 399.8 921.7 386.7 917.8 394.4Z" fill="none" stroke="rgba(255,255,255,0.45)" stroke-width="0.7" stroke-linejoin="round"/>
<path d="M891.3 411.2 891.6 413.0 891.4 414.5 896.3 417.5 907.2 435.9 930.6 428.1 932.9 421.4 920.0 415.0 917.8 394.4 921.7 386.7 920.0 375.0 917.4 373.6 911.6 373.0 902.5 377.5Z" fill="none" stroke="rgba(255,255,255,0.45)" stroke-width="0.7" stroke-linejoin="round"/>
<path d="M891.4 414.5 880.4 421.0 877.1 426.0 857.6 432.5 856.7 434.5 863.9 463.2 870.0 460.8 880.0 455.0 897.4 451.2 914.7 449.4 932.1 445.9 934.0 445.2 930.6 428.1 907.2 435.9 896.3 417.5Z" fill="none" stroke="rgba(255,255,255,0.45)" stroke-width="0.7" stroke-linejoin="round"/>
<path d="M857.6 432.5 877.1 426.0 880.4 421.0 891.4 414.5 891.6 413.0 891.3 411.2 902.5 377.5 872.5 377.5 871.0 375.4 844.0 382.1 832.0 400.1 835.2 406.6 835.8 406.8Z" fill="none" stroke="rgba(255,255,255,0.45)" stroke-width="0.7" stroke-linejoin="round"/>
<path d="M870.4 370.8 865.9 362.2 861.1 358.3 839.7 367.2 832.9 362.2 825.3 364.6 810.3 357.2 798.6 376.6 799.2 378.1 820.6 392.0 821.6 393.7 832.0 400.1 844.0 382.1 871.0 375.4Z" fill="none" stroke="rgba(255,255,255,0.45)" stroke-width="0.7" stroke-linejoin="round"/>
<path d="M809.3 353.2 795.0 346.7 778.2 354.3 777.6 354.1 744.5 376.1 744.3 379.7 758.1 386.6 766.8 411.5 779.3 411.5 788.5 405.0 797.1 408.1 821.6 393.7 820.6 392.0 799.2 378.1 798.6 376.6 810.3 357.2Z" fill="none" stroke="rgba(255,255,255,0.45)" stroke-width="0.7" stroke-linejoin="round"/>
<path d="M821.5 427.2 835.2 406.6 832.0 400.1 821.6 393.7 797.1 408.1 788.5 405.0 779.3 411.5 766.8 411.5 757.6 422.7 759.7 429.2 774.6 440.4 780.0 441.2 783.2 439.6 786.5 434.1 804.4 425.8 814.7 429.5Z" fill="none" stroke="rgba(255,255,255,0.45)" stroke-width="0.7" stroke-linejoin="round"/>
<path d="M835.8 406.8 835.2 406.6 821.5 427.2 814.7 429.5 804.4 425.8 786.5 434.1 783.2 439.6 780.0 441.2 780.0 467.8 783.3 466.7 796.7 468.3 810.0 473.3 821.7 475.0 838.3 471.7 855.0 466.7 863.9 463.2 856.7 434.5 857.6 432.5Z" fill="none" stroke="rgba(255,255,255,0.45)" stroke-width="0.7" stroke-linejoin="round"/>
<path d="M747.6 447.3 744.0 448.8 731.5 446.5 730.3 447.0 728.2 470.2 728.3 470.0 732.8 472.2 748.4 463.9 764.5 474.4 773.3 470.0 780.0 467.8 780.0 441.2 774.6 440.4 759.7 429.2Z" fill="none" stroke="rgba(255,255,255,0.45)" stroke-width="0.7" stroke-linejoin="round"/>
<path d="M748.4 463.9 732.8 472.2 735.0 473.3 741.7 478.3 746.7 480.0 753.3 476.7 763.3 475.0 764.5 474.4Z" fill="none" stroke="rgba(255,255,255,0.45)" stroke-width="0.7" stroke-linejoin="round"/>
<path d="M701.0 462.7 698.6 462.9 697.2 467.7 697.5 467.3 702.5 464.0 704.5 465.0 707.0 470.4 707.8 477.0 704.5 485.2 698.8 492.5 692.3 499.1 696.4 507.2 699.6 515.4 702.9 521.1 707.0 520.3 711.1 514.6 716.0 508.9 720.9 502.3 726.6 499.9 724.2 496.6 722.5 488.4 724.2 478.6 725.8 473.7 727.3 471.4Z" fill="none" stroke="rgba(255,255,255,0.45)" stroke-width="0.7" stroke-linejoin="round"/>
<path d="M694.3 455.2 698.6 462.9 701.0 462.7 727.3 471.4 728.2 470.2 730.3 447.0 726.1 446.1 716.7 438.3 712.4 429.8 694.0 441.3 695.0 452.0Z" fill="none" stroke="rgba(255,255,255,0.45)" stroke-width="0.7" stroke-linejoin="round"/>
<path d="M758.1 386.6 744.3 379.7 737.7 385.1 734.1 385.3 702.4 409.8 704.1 412.9 711.5 418.9 712.4 429.8 716.7 438.3 726.1 446.1 730.3 447.0 731.5 446.5 744.0 448.8 747.6 447.3 759.7 429.2 757.6 422.7 766.8 411.5Z" fill="none" stroke="rgba(255,255,255,0.45)" stroke-width="0.7" stroke-linejoin="round"/>
<path d="M711.5 418.9 704.1 412.9 702.4 409.8 694.4 403.8 669.7 417.1 671.9 429.2 667.5 439.5 653.1 448.1 670.0 465.0 670.0 483.2 678.3 484.8 683.3 480.7 686.7 477.3 692.5 474.0 697.2 467.7 698.6 462.9 694.3 455.2 695.0 452.0 694.0 441.3 712.4 429.8Z" fill="none" stroke="rgba(255,255,255,0.45)" stroke-width="0.7" stroke-linejoin="round"/>
<path d="M670.0 465.0 653.1 448.1 650.0 448.6 636.2 442.6 625.4 443.8 619.5 457.6 604.8 463.2 592.2 477.0 581.8 475.7 570.7 480.4 565.3 479.7 549.9 495.1 555.5 499.5 558.5 505.5 563.0 510.0 570.5 510.7 582.5 508.5 593.0 505.5 602.0 504.0 611.0 501.0 617.5 498.4 622.5 494.0 628.3 487.3 636.7 480.7 643.3 475.7 648.3 474.0 655.0 475.7 661.7 478.2 670.0 483.2Z" fill="none" stroke="rgba(255,255,255,0.45)" stroke-width="0.7" stroke-linejoin="round"/>
<path d="M625.4 443.8 619.5 436.5 581.5 436.5 581.1 438.5 578.2 443.4 549.4 457.8 549.7 460.3 565.3 479.7 570.7 480.4 581.8 475.7 592.2 477.0 604.8 463.2 619.5 457.6Z" fill="none" stroke="rgba(255,255,255,0.45)" stroke-width="0.7" stroke-linejoin="round"/>
<path d="M635.7 401.6 631.4 399.5 615.7 410.1 619.5 436.5 625.4 443.8 636.2 442.6 650.0 448.6 653.1 448.1 667.5 439.5 671.9 429.2 669.7 417.1 664.6 414.1 658.4 404.8Z" fill="none" stroke="rgba(255,255,255,0.45)" stroke-width="0.7" stroke-linejoin="round"/>
<path d="M602.5 382.5 591.8 385.4 585.6 410.0 615.5 410.0 615.7 410.1 631.4 399.5 632.1 383.5 632.2 383.2 631.4 374.1 628.9 369.8 612.8 357.7 606.2 355.7 603.9 380.7Z" fill="none" stroke="rgba(255,255,255,0.45)" stroke-width="0.7" stroke-linejoin="round"/>
<path d="M632.2 383.2 632.1 383.5 631.4 399.5 635.7 401.6 658.4 404.8 667.0 378.9 668.3 377.6 662.5 362.5 656.1 358.4 644.8 339.6 643.1 341.4 628.9 369.8 631.4 374.1Z" fill="none" stroke="rgba(255,255,255,0.45)" stroke-width="0.7" stroke-linejoin="round"/>
<path d="M684.5 340.5 662.5 362.5 668.3 377.6 667.0 378.9 658.4 404.8 664.6 414.1 669.7 417.1 694.4 403.8 702.4 409.8 734.1 385.3 707.2 376.7 706.1 374.5 713.4 353.9 702.7 336.2 690.0 340.9 685.0 340.3Z" fill="none" stroke="rgba(255,255,255,0.45)" stroke-width="0.7" stroke-linejoin="round"/>
<path d="M772.4 292.5 771.7 292.0 760.9 295.2 751.4 306.3 728.6 301.7 715.5 307.4 707.5 317.5 708.5 326.8 702.7 336.2 713.4 353.9 706.1 374.5 707.2 376.7 734.1 385.3 737.7 385.1 744.3 379.7 744.5 376.1 777.6 354.1 778.2 354.3 795.0 346.7 795.0 326.1 794.3 324.9 787.0 321.1 780.3 301.0Z" fill="none" stroke="rgba(255,255,255,0.45)" stroke-width="0.7" stroke-linejoin="round"/>
<path d="M751.4 306.3 760.9 295.2 742.0 276.8 725.5 273.9 722.6 271.9 708.3 275.0 707.6 274.8 681.9 297.0 707.5 317.5 715.5 307.4 728.6 301.7Z" fill="none" stroke="rgba(255,255,255,0.45)" stroke-width="0.7" stroke-linejoin="round"/>
<path d="M657.4 267.9 665.3 283.2 672.4 288.0 678.9 296.8 681.9 297.0 707.6 274.8 699.2 264.1 687.2 259.6 683.1 255.0 660.0 250.9 658.7 252.5Z" fill="none" stroke="rgba(255,255,255,0.45)" stroke-width="0.7" stroke-linejoin="round"/>
<path d="M631.3 278.9 629.8 300.2 630.8 300.1 666.7 310.7 669.8 309.2 678.9 296.8 672.4 288.0 665.3 283.2 657.4 267.9 658.7 252.5 633.8 252.5 623.6 266.0Z" fill="none" stroke="rgba(255,255,255,0.45)" stroke-width="0.7" stroke-linejoin="round"/>
<path d="M644.8 336.4 644.8 339.6 656.1 358.4 662.5 362.5 684.5 340.5 685.0 340.3 690.0 340.9 702.7 336.2 708.5 326.8 707.5 317.5 681.9 297.0 678.9 296.8 669.8 309.2 666.7 310.7 630.8 300.1 629.8 300.2 628.6 301.4 629.9 323.6Z" fill="none" stroke="rgba(255,255,255,0.45)" stroke-width="0.7" stroke-linejoin="round"/>
<path d="M612.8 357.7 628.9 369.8 643.1 341.4 644.8 339.6 644.8 336.4 629.9 323.6 605.3 337.6 602.0 351.0 606.2 355.7Z" fill="none" stroke="rgba(255,255,255,0.45)" stroke-width="0.7" stroke-linejoin="round"/>
<path d="M586.6 312.2 605.3 337.6 629.9 323.6 628.6 301.4 602.2 297.1 600.3 297.5 586.6 312.0Z" fill="none" stroke="rgba(255,255,255,0.45)" stroke-width="0.7" stroke-linejoin="round"/>
<path d="M592.3 285.8 600.3 297.5 602.2 297.1 628.6 301.4 629.8 300.2 631.3 278.9 623.6 266.0 611.9 264.1 597.9 253.6 593.7 259.5 565.0 274.7 565.0 276.7Z" fill="none" stroke="rgba(255,255,255,0.45)" stroke-width="0.7" stroke-linejoin="round"/>
<path d="M533.3 299.5 544.9 313.4 544.9 314.2 528.7 336.0 533.8 351.5 555.8 351.5 559.9 357.3 584.1 360.3 594.2 352.9 602.0 351.0 605.3 337.6 586.6 312.2 586.6 312.0 600.3 297.5 592.3 285.8 565.0 276.7 564.5 277.7 539.3 290.4Z" fill="none" stroke="rgba(255,255,255,0.45)" stroke-width="0.7" stroke-linejoin="round"/>
<path d="M522.5 366.3 522.2 370.5 520.6 373.9 523.1 391.9 510.8 404.2 511.2 412.5 524.6 430.4 523.8 437.3 528.2 443.5 542.7 449.7 549.4 457.8 578.2 443.4 581.1 438.5 581.5 436.5 619.5 436.5 615.7 410.1 615.5 410.0 585.6 410.0 591.8 385.4 602.5 382.5 603.9 380.7 606.2 355.7 602.0 351.0 594.2 352.9 584.1 360.3 559.9 357.3 555.8 351.5 533.8 351.5Z" fill="none" stroke="rgba(255,255,255,0.45)" stroke-width="0.7" stroke-linejoin="round"/>
<path d="M527.5 263.8 517.3 274.3 501.8 273.3 498.0 278.9 496.5 293.0 517.3 302.9 527.9 299.0 533.3 299.5 539.3 290.4 564.5 277.7 565.0 276.7 565.0 274.7 558.8 263.3 552.5 257.2 542.9 259.3 534.7 264.2Z" fill="none" stroke="rgba(255,255,255,0.45)" stroke-width="0.7" stroke-linejoin="round"/>
<path d="M481.0 306.9 473.8 328.8 488.4 343.4 488.6 344.0 494.0 344.9 522.5 366.3 533.8 351.5 528.7 336.0 544.9 314.2 544.9 313.4 533.3 299.5 527.9 299.0 517.3 302.9 496.5 293.0 486.8 298.9 485.1 303.8Z" fill="none" stroke="rgba(255,255,255,0.45)" stroke-width="0.7" stroke-linejoin="round"/>
<path d="M455.3 310.6 463.3 326.7 473.8 328.8 481.0 306.9 485.1 303.8 486.8 298.9 464.5 281.7 454.6 304.2 455.8 307.7Z" fill="none" stroke="rgba(255,255,255,0.45)" stroke-width="0.7" stroke-linejoin="round"/>
<path d="M408.1 303.4 403.9 313.9 416.1 326.1 430.0 320.5 436.6 323.1 455.3 310.6 455.8 307.7 454.6 304.2 464.5 281.7 464.2 280.4 452.0 273.6 435.8 285.8 429.5 284.1 420.0 284.5 407.5 283.5 397.5 282.0 392.9 280.6Z" fill="none" stroke="rgba(255,255,255,0.45)" stroke-width="0.7" stroke-linejoin="round"/>
<path d="M435.8 285.8 452.0 273.6 450.6 270.0 442.5 270.0 430.0 269.5 422.5 271.5 421.0 275.0 427.5 277.8 432.5 280.0 431.0 284.0 429.5 284.1ZM445.7 263.6 439.6 261.7 442.5 263.5 447.2 265.1Z" fill="none" stroke="rgba(255,255,255,0.45)" stroke-width="0.7" stroke-linejoin="round"/>
<path d="M347.2 302.5 342.5 306.8 342.5 318.2 344.1 321.4 342.5 322.5 342.5 325.4 346.5 326.5 359.2 339.2 381.4 334.7 381.5 334.8 387.8 344.2 390.0 345.0 413.7 340.3 416.1 326.1 403.9 313.9 408.1 303.4 392.9 280.6 391.0 280.0 387.5 277.8 390.0 275.0 385.0 274.0 380.0 275.5 381.0 279.0 375.0 278.5 367.5 277.0 365.0 277.1 365.0 302.5ZM375.3 268.8 376.5 269.0 378.7 268.4Z" fill="none" stroke="rgba(255,255,255,0.45)" stroke-width="0.7" stroke-linejoin="round"/>
<path d="M339.6 272.1 336.7 274.0 330.0 276.5 322.5 279.0 321.7 282.3 319.2 289.0 318.3 291.5 319.5 290.3 317.9 295.2 314.6 305.0 311.4 318.1 312.2 321.4 327.7 319.7 342.4 318.1 342.5 318.2 342.5 306.8 347.2 302.5 365.0 302.5 365.0 277.1 357.5 277.5 350.0 277.0 340.0 278.5 332.5 281.5 327.5 286.5 322.5 293.2 321.7 288.4 328.3 284.0 335.0 279.8 339.2 276.5 342.7 273.0ZM342.5 325.4 342.5 322.5 337.5 326.3 335.4 328.4ZM310.8 285.3 309.5 283.4 305.0 282.6 301.0 283.2 299.5 285.5 303.0 287.2 308.5 287.0ZM311.5 301.8 309.5 302.3 310.0 303.6 312.0 303.2Z" fill="none" stroke="rgba(255,255,255,0.45)" stroke-width="0.7" stroke-linejoin="round"/>
<path d="M436.6 323.1 430.0 320.5 416.1 326.1 413.7 340.3 420.6 348.8 434.8 351.2 442.4 358.0 449.5 360.3 456.1 352.8 487.9 344.9 488.6 344.0 488.4 343.4 473.8 328.8 463.3 326.7 455.3 310.6Z" fill="none" stroke="rgba(255,255,255,0.45)" stroke-width="0.7" stroke-linejoin="round"/>
<path d="M373.9 376.4 375.7 378.2 381.5 391.9 382.9 392.5 403.2 392.5 414.6 383.8 410.0 370.0 420.6 348.8 413.7 340.3 390.0 345.0 387.8 344.2 381.5 334.8 381.4 334.7 359.2 339.2 357.1 349.3 364.1 363.3 370.9 367.6Z" fill="none" stroke="rgba(255,255,255,0.45)" stroke-width="0.7" stroke-linejoin="round"/>
<path d="M359.2 339.2 346.5 326.5 342.5 325.4 335.4 328.4 332.6 331.2 337.5 336.1 339.2 342.6 337.5 349.2 344.1 354.1 343.1 351.3 346.1 355.4 335.9 359.4 333.9 367.6 339.0 372.7 346.1 375.8 345.1 376.8 331.8 376.8 327.7 373.8 324.7 364.6 319.5 363.5 318.5 367.6 321.6 374.8 320.6 377.9 312.4 380.9 313.4 383.0 323.6 388.1 329.8 390.1 342.0 394.2 346.4 400.0 371.6 400.0 381.5 391.9 375.7 378.2 373.9 376.4 370.9 367.6 364.1 363.3 357.1 349.3Z" fill="none" stroke="rgba(255,255,255,0.45)" stroke-width="0.7" stroke-linejoin="round"/>
<path d="M416.8 384.2 433.9 394.5 446.9 391.1 453.8 369.8 449.5 360.3 442.4 358.0 434.8 351.2 420.6 348.8 410.0 370.0 414.6 383.8Z" fill="none" stroke="rgba(255,255,255,0.45)" stroke-width="0.7" stroke-linejoin="round"/>
<path d="M446.9 391.1 468.2 408.0 479.6 389.0 492.3 387.2 501.3 400.8 510.8 404.2 523.1 391.9 520.6 373.9 522.2 370.5 522.5 366.3 494.0 344.9 488.6 344.0 487.9 344.9 456.1 352.8 449.5 360.3 453.8 369.8Z" fill="none" stroke="rgba(255,255,255,0.45)" stroke-width="0.7" stroke-linejoin="round"/>
<path d="M391.0 430.7 409.5 421.5 403.2 392.5 382.9 392.5 381.5 391.9 371.6 400.0 346.4 400.0 348.2 402.4 349.2 408.5 341.0 415.7 346.1 418.8 350.2 426.9 354.7 433.0 366.6 427.9 390.9 431.0Z" fill="none" stroke="rgba(255,255,255,0.45)" stroke-width="0.7" stroke-linejoin="round"/>
<path d="M424.3 432.9 430.0 450.0 437.5 453.8 445.5 450.7 449.7 436.8 441.1 419.6 467.7 410.8 468.5 409.5 468.2 408.0 446.9 391.1 433.9 394.5 416.8 384.2 414.6 383.8 403.2 392.5 409.5 421.5 411.9 422.0Z" fill="none" stroke="rgba(255,255,255,0.45)" stroke-width="0.7" stroke-linejoin="round"/>
<path d="M480.5 414.1 490.6 424.1 493.4 436.5 500.7 441.1 523.8 437.3 524.6 430.4 511.2 412.5 510.8 404.2 501.3 400.8 492.3 387.2 479.6 389.0 468.2 408.0 468.5 409.5Z" fill="none" stroke="rgba(255,255,255,0.45)" stroke-width="0.7" stroke-linejoin="round"/>
<path d="M445.5 450.7 449.5 451.5 473.1 444.1 475.6 445.0 493.4 436.5 490.6 424.1 480.5 414.1 468.5 409.5 467.7 410.8 441.1 419.6 449.7 436.8Z" fill="none" stroke="rgba(255,255,255,0.45)" stroke-width="0.7" stroke-linejoin="round"/>
<path d="M354.7 433.0 356.3 435.1 360.4 441.2 348.2 445.3 347.1 450.5 356.3 449.4 380.9 452.5 385.0 456.6 372.7 461.7 354.3 462.7 350.2 465.8 362.5 466.8 376.8 462.7 374.8 471.9 380.9 469.9 389.1 459.7 399.3 463.7 409.5 469.9 417.7 476.0 421.8 486.2 424.4 487.9 437.5 455.2 437.5 453.8 430.0 450.0 424.3 432.9 411.9 422.0 409.5 421.5 391.0 430.7 390.9 431.0 366.6 427.9Z" fill="none" stroke="rgba(255,255,255,0.45)" stroke-width="0.7" stroke-linejoin="round"/>
<path d="M542.7 449.7 528.2 443.5 523.8 437.3 500.7 441.1 493.4 436.5 475.6 445.0 473.1 444.1 449.5 451.5 445.5 450.7 437.5 453.8 437.5 455.2 424.4 487.9 430.0 491.4 438.1 496.5 440.0 499.5 449.0 498.0 459.5 495.0 470.0 493.5 476.0 489.0 477.5 478.5 480.5 468.0 485.0 465.7 494.0 467.3 503.0 468.7 512.0 471.0 521.0 475.5 530.0 481.5 539.0 487.5 548.0 493.5 549.9 495.1 565.3 479.7 549.7 460.3 549.4 457.8Z" fill="none" stroke="rgba(255,255,255,0.45)" stroke-width="0.7" stroke-linejoin="round"/>
<path d="M394.3 220.4 403.0 248.7 410.0 249.5 425.0 255.0 435.0 259.0 439.6 261.7 445.7 263.6 447.2 265.1 450.0 266.0 450.7 266.1 464.1 252.4 465.2 247.6 457.5 247.0 445.0 245.2 433.8 242.8 425.0 239.5 415.0 234.0 406.2 227.8 400.0 222.0 398.0 218.0Z" fill="none" stroke="rgba(255,255,255,0.75)" stroke-width="1.5" stroke-linejoin="round"/>
<path d="M395.0 201.3 388.3 199.8 380.0 200.5 373.3 197.0 368.3 192.3 364.0 192.3 359.2 193.2 356.7 196.5 350.0 196.8 342.5 197.5 339.0 199.5 334.5 203.0 333.3 206.3 337.0 209.5 341.0 213.0 341.7 219.0 340.8 225.7 336.0 227.5 330.8 231.0 329.3 241.0 327.0 248.0 322.0 251.5 316.7 257.3 316.7 262.0 320.0 263.5 335.0 264.0 338.1 264.3 345.0 264.8 346.2 268.0 341.7 270.7 339.6 272.1 336.7 274.0 330.0 276.5 322.5 279.0 321.7 282.3 319.2 289.0 318.3 291.5 319.5 290.3 317.9 295.2 314.6 305.0 311.4 318.1 312.2 321.4 327.7 319.7 342.4 318.1 342.5 318.2 344.1 321.4 342.5 322.5 337.5 326.3 335.4 328.4 342.5 325.4 346.5 326.5 359.2 339.2 381.4 334.7 381.5 334.8 387.8 344.2 390.0 345.0 413.7 340.3 416.1 326.1 403.9 313.9 408.1 303.4 392.9 280.6 391.0 280.0 387.5 277.8 390.0 275.0 385.0 274.0 380.0 275.5 381.0 279.0 375.0 278.5 367.5 277.0 365.0 277.1 357.5 277.5 350.0 277.0 340.0 278.5 332.5 281.5 327.5 286.5 322.5 293.2 321.7 288.4 328.3 284.0 335.0 279.8 339.2 276.5 342.7 273.0 343.3 272.3 349.2 268.2 353.3 265.7 361.7 264.0 370.0 257.3 372.5 252.3 377.5 248.5 395.0 247.8 403.0 248.7 394.3 220.4 398.0 218.0 397.5 217.0 396.7 204.8ZM373.5 266.5 374.0 268.5 375.3 268.8 376.5 269.0 378.7 268.4 380.0 268.0 379.5 266.0 376.0 265.3ZM301.0 283.2 299.5 285.5 303.0 287.2 308.5 287.0 310.8 285.3 309.5 283.4 305.0 282.6ZM312.0 303.2 311.5 301.8 309.5 302.3 310.0 303.6Z" fill="none" stroke="rgba(255,255,255,0.75)" stroke-width="1.5" stroke-linejoin="round"/>
<path d="M413.7 340.3 390.0 345.0 387.8 344.2 381.5 334.8 381.4 334.7 359.2 339.2 346.5 326.5 342.5 325.4 335.4 328.4 332.6 331.2 337.5 336.1 339.2 342.6 337.5 349.2 344.1 354.1 343.1 351.3 346.1 355.4 335.9 359.4 333.9 367.6 339.0 372.7 346.1 375.8 345.1 376.8 331.8 376.8 327.7 373.8 324.7 364.6 319.5 363.5 318.5 367.6 321.6 374.8 320.6 377.9 312.4 380.9 313.4 383.0 323.6 388.1 329.8 390.1 342.0 394.2 346.4 400.0 348.2 402.4 349.2 408.5 341.0 415.7 346.1 418.8 350.2 426.9 354.7 433.0 356.3 435.1 360.4 441.2 348.2 445.3 347.1 450.5 356.3 449.4 380.9 452.5 385.0 456.6 372.7 461.7 354.3 462.7 350.2 465.8 362.5 466.8 376.8 462.7 374.8 471.9 380.9 469.9 389.1 459.7 399.3 463.7 409.5 469.9 417.7 476.0 421.8 486.2 424.4 487.9 437.5 455.2 437.5 453.8 445.5 450.7 449.7 436.8 441.1 419.6 467.7 410.8 468.5 409.5 468.2 408.0 479.6 389.0 492.3 387.2 501.3 400.8 510.8 404.2 523.1 391.9 520.6 373.9 522.2 370.5 522.5 366.3 494.0 344.9 488.6 344.0 488.4 343.4 473.8 328.8 463.3 326.7 455.3 310.6 436.6 323.1 430.0 320.5 416.1 326.1Z" fill="none" stroke="rgba(255,255,255,0.75)" stroke-width="1.5" stroke-linejoin="round"/>
<path d="M517.5 251.2 517.3 250.3 502.0 252.0 497.6 250.7 492.0 249.0 481.0 246.2 480.0 246.0 470.0 248.0 465.2 247.6 464.1 252.4 450.7 266.1 465.0 267.8 455.0 270.0 450.6 270.0 442.5 270.0 430.0 269.5 422.5 271.5 421.0 275.0 427.5 277.8 432.5 280.0 431.0 284.0 429.5 284.1 420.0 284.5 407.5 283.5 397.5 282.0 392.9 280.6 408.1 303.4 403.9 313.9 416.1 326.1 430.0 320.5 436.6 323.1 455.3 310.6 463.3 326.7 473.8 328.8 488.4 343.4 488.6 344.0 494.0 344.9 522.5 366.3 533.8 351.5 528.7 336.0 544.9 314.2 544.9 313.4 533.3 299.5 539.3 290.4 564.5 277.7 565.0 276.7 565.0 274.7 558.8 263.3 552.5 257.2 542.9 259.3 534.7 264.2 527.5 263.8ZM447.2 265.1 445.7 263.6 439.6 261.7 442.5 263.5Z" fill="none" stroke="rgba(255,255,255,0.75)" stroke-width="1.5" stroke-linejoin="round"/>
<path d="M544.9 313.4 544.9 314.2 528.7 336.0 533.8 351.5 522.5 366.3 522.2 370.5 520.6 373.9 523.1 391.9 510.8 404.2 511.2 412.5 524.6 430.4 523.8 437.3 528.2 443.5 542.7 449.7 549.4 457.8 549.7 460.3 565.3 479.7 570.7 480.4 581.8 475.7 592.2 477.0 604.8 463.2 619.5 457.6 625.4 443.8 619.5 436.5 615.7 410.1 615.5 410.0 585.6 410.0 591.8 385.4 602.5 382.5 603.9 380.7 606.2 355.7 602.0 351.0 605.3 337.6 586.6 312.2 586.6 312.0 600.3 297.5 592.3 285.8 565.0 276.7 564.5 277.7 539.3 290.4 533.3 299.5Z" fill="none" stroke="rgba(255,255,255,0.75)" stroke-width="1.5" stroke-linejoin="round"/>
<path d="M524.6 430.4 511.2 412.5 510.8 404.2 501.3 400.8 492.3 387.2 479.6 389.0 468.2 408.0 468.5 409.5 467.7 410.8 441.1 419.6 449.7 436.8 445.5 450.7 437.5 453.8 437.5 455.2 424.4 487.9 430.0 491.4 438.1 496.5 440.0 499.5 449.0 498.0 459.5 495.0 470.0 493.5 476.0 489.0 477.5 478.5 480.5 468.0 485.0 465.7 494.0 467.3 503.0 468.7 512.0 471.0 521.0 475.5 530.0 481.5 539.0 487.5 548.0 493.5 549.9 495.1 555.5 499.5 558.5 505.5 563.0 510.0 570.5 510.7 582.5 508.5 593.0 505.5 602.0 504.0 611.0 501.0 617.5 498.4 622.5 494.0 628.3 487.3 636.7 480.7 643.3 475.7 648.3 474.0 655.0 475.7 661.7 478.2 670.0 483.2 678.3 484.8 683.3 480.7 686.7 477.3 692.5 474.0 697.2 467.7 697.5 467.3 702.5 464.0 704.5 465.0 707.0 470.4 707.8 477.0 704.5 485.2 698.8 492.5 692.3 499.1 696.4 507.2 699.6 515.4 702.9 521.1 707.0 520.3 711.1 514.6 716.0 508.9 720.9 502.3 726.6 499.9 724.2 496.6 722.5 488.4 724.2 478.6 725.8 473.7 727.3 471.4 728.2 470.2 730.3 447.0 731.5 446.5 744.0 448.8 747.6 447.3 759.7 429.2 757.6 422.7 766.8 411.5 758.1 386.6 744.3 379.7 737.7 385.1 734.1 385.3 702.4 409.8 694.4 403.8 669.7 417.1 671.9 429.2 667.5 439.5 653.1 448.1 650.0 448.6 636.2 442.6 625.4 443.8 619.5 457.6 604.8 463.2 592.2 477.0 581.8 475.7 570.7 480.4 565.3 479.7 549.7 460.3 549.4 457.8 542.7 449.7 528.2 443.5 523.8 437.3Z" fill="none" stroke="rgba(255,255,255,0.75)" stroke-width="1.5" stroke-linejoin="round"/>
<path d="M737.7 385.1 744.3 379.7 744.5 376.1 777.6 354.1 778.2 354.3 795.0 346.7 795.0 326.1 794.3 324.9 787.0 321.1 780.3 301.0 772.4 292.5 771.7 292.0 760.9 295.2 751.4 306.3 728.6 301.7 715.5 307.4 707.5 317.5 681.9 297.0 678.9 296.8 669.8 309.2 666.7 310.7 630.8 300.1 629.8 300.2 628.6 301.4 602.2 297.1 600.3 297.5 586.6 312.0 586.6 312.2 605.3 337.6 602.0 351.0 606.2 355.7 603.9 380.7 602.5 382.5 591.8 385.4 585.6 410.0 615.5 410.0 615.7 410.1 619.5 436.5 625.4 443.8 636.2 442.6 650.0 448.6 653.1 448.1 667.5 439.5 671.9 429.2 669.7 417.1 694.4 403.8 702.4 409.8 734.1 385.3Z" fill="none" stroke="rgba(255,255,255,0.75)" stroke-width="1.5" stroke-linejoin="round"/>
<path d="M558.0 224.0 548.5 229.7 548.0 230.0 536.0 236.0 523.0 241.0 520.0 250.0 517.3 250.3 517.5 251.2 527.5 263.8 534.7 264.2 542.9 259.3 552.5 257.2 558.8 263.3 565.0 274.7 565.0 276.7 592.3 285.8 600.3 297.5 602.2 297.1 628.6 301.4 629.8 300.2 630.8 300.1 666.7 310.7 669.8 309.2 678.9 296.8 681.9 297.0 707.5 317.5 715.5 307.4 728.6 301.7 751.4 306.3 760.9 295.2 742.0 276.8 725.5 273.9 722.6 271.9 729.3 245.3 721.7 243.2 711.7 245.7 703.3 237.3 702.0 230.0 696.0 224.0 682.0 228.0 673.6 224.6 672.0 224.0 666.0 218.0 664.0 209.0 659.0 207.0 652.0 211.0 640.0 213.0 636.5 212.8 624.0 212.0 610.0 211.0 596.0 210.0 580.0 214.0 578.8 214.4 568.0 218.0Z" fill="none" stroke="rgba(255,255,255,0.75)" stroke-width="1.5" stroke-linejoin="round"/>
<path d="M936.5 265.4 937.2 264.9 941.0 263.4 945.0 238.2 941.0 226.8 935.3 225.7 922.5 225.7 913.3 227.5 907.5 227.0 897.5 235.5 893.3 239.0 883.3 245.7 873.3 252.3 864.2 256.3 860.0 258.2 850.0 259.0 838.3 256.5 828.3 253.2 816.7 254.8 805.0 257.8 803.3 258.2 793.3 261.5 783.3 262.3 775.5 260.4 770.0 259.0 761.7 254.0 750.0 254.8 740.0 252.3 733.3 246.5 729.3 245.3 722.6 271.9 725.5 273.9 742.0 276.8 760.9 295.2 771.7 292.0 772.4 292.5 780.3 301.0 815.0 301.0 818.0 305.2 820.7 306.8 838.6 308.0 843.2 305.2 843.6 299.8 859.9 277.0 870.8 275.2 874.3 276.6 874.9 277.0 902.3 266.0 909.2 265.7 916.2 269.9Z" fill="none" stroke="rgba(255,255,255,0.75)" stroke-width="1.5" stroke-linejoin="round"/>
<path d="M937.2 264.9 936.5 265.4 916.2 269.9 909.2 265.7 902.3 266.0 874.9 277.0 874.3 276.6 870.8 275.2 859.9 277.0 843.6 299.8 843.2 305.2 838.6 308.0 820.7 306.8 818.0 305.2 815.0 301.0 780.3 301.0 787.0 321.1 794.3 324.9 795.0 326.1 795.0 346.7 809.3 353.2 819.9 337.9 824.8 338.2 837.4 333.5 838.1 332.5 862.5 332.5 874.8 320.2 886.7 334.5 894.1 338.6 915.8 331.4 920.6 334.4 929.1 334.7 947.2 322.4 965.2 342.3 972.5 343.3 976.4 338.2 991.9 330.0 1015.0 340.0 1019.6 339.4 1017.3 334.7 1015.5 326.1 1024.9 319.8 1025.9 319.1 1027.7 310.4 1033.0 309.0 1039.5 307.5 1035.0 302.5 1030.7 299.0 1023.3 293.5 1005.0 291.7 995.8 289.8 994.3 285.1 994.0 284.3 988.5 273.3 992.2 262.3 990.3 253.2 983.6 246.4 983.0 245.8 977.5 237.0 968.3 229.3 959.2 223.8 953.7 219.3 948.2 220.2 944.5 227.5 941.0 226.8 945.0 238.2 941.0 263.4Z" fill="none" stroke="rgba(255,255,255,0.75)" stroke-width="1.5" stroke-linejoin="round"/>
<path d="M915.8 331.4 894.1 338.6 886.7 334.5 874.8 320.2 862.5 332.5 838.1 332.5 837.4 333.5 824.8 338.2 819.9 337.9 809.3 353.2 795.0 346.7 778.2 354.3 777.6 354.1 744.5 376.1 744.3 379.7 758.1 386.6 766.8 411.5 779.3 411.5 788.5 405.0 797.1 408.1 821.6 393.7 832.0 400.1 844.0 382.1 871.0 375.4 872.5 377.5 902.5 377.5 911.6 373.0 917.4 373.6 920.0 375.0 921.7 386.7 934.8 399.8 962.2 393.4 968.4 394.9 969.2 401.5 994.0 416.4 996.7 433.0 1001.6 433.8 1015.5 432.0 1027.7 432.0 1031.2 439.0 1034.6 444.2 1039.8 437.3 1046.8 433.8 1052.0 428.6 1045.1 421.6 1043.3 411.2 1036.4 404.2 1029.9 399.1 1027.7 397.3 1031.2 386.9 1034.6 376.4 1029.4 374.7 1027.7 362.5 1024.2 352.1 1020.7 341.7 1019.6 339.4 1015.0 340.0 991.9 330.0 976.4 338.2 972.5 343.3 965.2 342.3 947.2 322.4 929.1 334.7 920.6 334.4Z" fill="none" stroke="rgba(255,255,255,0.75)" stroke-width="1.5" stroke-linejoin="round"/>
<path d="M968.4 394.9 962.2 393.4 934.8 399.8 921.7 386.7 920.0 375.0 917.4 373.6 911.6 373.0 902.5 377.5 872.5 377.5 871.0 375.4 844.0 382.1 832.0 400.1 821.6 393.7 797.1 408.1 788.5 405.0 779.3 411.5 766.8 411.5 757.6 422.7 759.7 429.2 747.6 447.3 744.0 448.8 731.5 446.5 730.3 447.0 728.2 470.2 728.3 470.0 732.8 472.2 735.0 473.3 741.7 478.3 746.7 480.0 753.3 476.7 763.3 475.0 764.5 474.4 773.3 470.0 780.0 467.8 783.3 466.7 796.7 468.3 810.0 473.3 821.7 475.0 838.3 471.7 855.0 466.7 863.9 463.2 870.0 460.8 880.0 455.0 897.4 451.2 914.7 449.4 932.1 445.9 934.0 445.2 946.0 440.7 954.7 440.7 958.2 444.2 966.9 439.0 972.1 433.8 984.2 432.0 991.2 432.0 996.7 433.0 994.0 416.4 969.2 401.5Z" fill="none" stroke="rgba(255,255,255,0.75)" stroke-width="1.5" stroke-linejoin="round"/>
<text transform="translate(340.5 235.3) scale(0.85 1)" class="lb" fill="#f4f1f3" stroke="rgba(40,10,20,0.22)">1.43</text>
<text transform="translate(374.5 216.8) scale(0.85 1)" class="lb" fill="#f4f1f3" stroke="rgba(40,10,20,0.22)">1.38</text>
<text transform="translate(369.0 247.1) scale(0.85 1)" class="lb" fill="#3a2529" stroke="rgba(255,240,242,0.45)">1.69</text>
<text transform="translate(423.6 247.1) scale(0.85 1)" class="lb" fill="#3a2529" stroke="rgba(255,240,242,0.45)">1.77</text>
<text transform="translate(463.7 265.3) scale(0.85 1)" class="lb" fill="#3a2529" stroke="rgba(255,240,242,0.45)">1.9</text>
<text transform="translate(487.0 272.0) scale(0.85 1)" class="lb" fill="#3a2529" stroke="rgba(255,240,242,0.45)">1.87</text>
<text transform="translate(513.5 266.8) scale(0.85 1)" class="lb" fill="#3a2529" stroke="rgba(255,240,242,0.45)">1.87</text>
<text transform="translate(538.5 247.8) scale(0.85 1)" class="lb" fill="#3a2529" stroke="rgba(255,240,242,0.45)">1.71</text>
<text transform="translate(566.0 232.8) scale(0.85 1)" class="lb" fill="#3a2529" stroke="rgba(255,240,242,0.45)">1.68</text>
<text transform="translate(570.0 253.0) scale(0.85 1)" class="lb" fill="#3a2529" stroke="rgba(255,240,242,0.45)">1.67</text>
<text transform="translate(610.4 238.8) scale(0.85 1)" class="lb" fill="#3a2529" stroke="rgba(255,240,242,0.45)">1.7</text>
<text transform="translate(654.8 231.8) scale(0.85 1)" class="lb" fill="#3a2529" stroke="rgba(255,240,242,0.45)">1.91</text>
<text transform="translate(697.0 252.3) scale(0.85 1)" class="lb" fill="#3a2529" stroke="rgba(255,240,242,0.45)">1.87</text>
<text transform="translate(755.0 273.3) scale(0.85 1)" class="lb" fill="#3a2529" stroke="rgba(255,240,242,0.45)">1.94</text>
<text transform="translate(796.5 282.8) scale(0.85 1)" class="lb" fill="#3a2529" stroke="rgba(255,240,242,0.45)">1.74</text>
<text transform="translate(844.0 269.3) scale(0.85 1)" class="lb" fill="#3a2529" stroke="rgba(255,240,242,0.45)">1.87</text>
<text transform="translate(884.0 261.1) scale(0.85 1)" class="lb" fill="#3a2529" stroke="rgba(255,240,242,0.45)">1.8</text>
<text transform="translate(919.5 247.8) scale(0.85 1)" class="lb" fill="#3a2529" stroke="rgba(255,240,242,0.45)">1.73</text>
<text transform="translate(957.4 245.8) scale(0.85 1)" class="lb" fill="#243650" stroke="rgba(255,240,242,0.45)">2.35</text>
<text transform="translate(970.0 278.3) scale(0.85 1)" class="lb" fill="#f4f1f3" stroke="rgba(40,10,20,0.22)">2.9</text>
<text transform="translate(1007.7 303.6) scale(0.85 1)" class="lb" fill="#f4f1f3" stroke="rgba(40,10,20,0.22)">3.06</text>
<text transform="translate(981.2 322.8) scale(0.85 1)" class="lb" fill="#f4f1f3" stroke="rgba(40,10,20,0.22)">4.22</text>
<text transform="translate(912.8 302.8) scale(0.85 1)" class="lb" fill="#243650" stroke="rgba(255,240,242,0.45)">2.51</text>
<text transform="translate(860.0 296.5) scale(0.85 1)" class="lb" fill="#243650" stroke="rgba(255,240,242,0.45)">2.38</text>
<text transform="translate(828.7 293.8) scale(0.85 1)" class="lb" fill="#303236" stroke="rgba(255,240,242,0.45)">2.09</text>
<text transform="translate(826.5 328.3) scale(0.85 1)" class="lb" fill="#3a2529" stroke="rgba(255,240,242,0.45)">1.82</text>
<text transform="translate(835.0 351.3) scale(0.85 1)" class="lb" fill="#3a2529" stroke="rgba(255,240,242,0.45)">1.56</text>
<text transform="translate(881.3 357.3) scale(0.85 1)" class="lb" fill="#243650" stroke="rgba(255,240,242,0.45)">2.56</text>
<text transform="translate(928.5 355.3) scale(0.85 1)" class="lb" fill="#f4f1f3" stroke="rgba(40,10,20,0.22)">3.93</text>
<text transform="translate(951.3 377.6) scale(0.85 1)" class="lb" fill="#f4f1f3" stroke="rgba(40,10,20,0.22)">3.8</text>
<text transform="translate(998.8 377.6) scale(0.85 1)" class="lb" fill="#f4f1f3" stroke="rgba(40,10,20,0.22)">3.93</text>
<text transform="translate(1023.8 426.3) scale(0.85 1)" class="lb" fill="#f4f1f3" stroke="rgba(40,10,20,0.22)">3.35</text>
<text transform="translate(961.3 431.3) scale(0.85 1)" class="lb" fill="#f4f1f3" stroke="rgba(40,10,20,0.22)">4.69</text>
<text transform="translate(943.8 410.1) scale(0.85 1)" class="lb" fill="#f4f1f3" stroke="rgba(40,10,20,0.22)">4.23</text>
<text transform="translate(913.0 410.1) scale(0.85 1)" class="lb" fill="#f4f1f3" stroke="rgba(40,10,20,0.22)">3.7</text>
<text transform="translate(893.8 441.3) scale(0.85 1)" class="lb" fill="#f4f1f3" stroke="rgba(40,10,20,0.22)">3.46</text>
<text transform="translate(872.5 405.1) scale(0.85 1)" class="lb" fill="#f4f1f3" stroke="rgba(40,10,20,0.22)">3.23</text>
<text transform="translate(832.5 378.8) scale(0.85 1)" class="lb" fill="#3a2529" stroke="rgba(255,240,242,0.45)">2.02</text>
<text transform="translate(783.3 387.8) scale(0.85 1)" class="lb" fill="#303236" stroke="rgba(255,240,242,0.45)">2.08</text>
<text transform="translate(790.7 423.8) scale(0.85 1)" class="lb" fill="#f4f1f3" stroke="rgba(40,10,20,0.22)">2.76</text>
<text transform="translate(821.3 450.1) scale(0.85 1)" class="lb" fill="#f4f1f3" stroke="rgba(40,10,20,0.22)">4.57</text>
<text transform="translate(754.5 461.6) scale(0.85 1)" class="lb" fill="#f4f1f3" stroke="rgba(40,10,20,0.22)">3.15</text>
<text transform="translate(745.3 475.7) scale(0.85 1)" class="lb" fill="#f4f1f3" stroke="rgba(40,10,20,0.22)">2.93</text>
<text transform="translate(709.5 495.3) scale(0.85 1)" class="lb" fill="#243650" stroke="rgba(255,240,242,0.45)">2.57</text>
<text transform="translate(710.1 451.9) scale(0.85 1)" class="lb" fill="#243650" stroke="rgba(255,240,242,0.45)">2.55</text>
<text transform="translate(737.2 420.5) scale(0.85 1)" class="lb" fill="#f4f1f3" stroke="rgba(40,10,20,0.22)">2.7</text>
<text transform="translate(683.0 445.8) scale(0.85 1)" class="lb" fill="#303236" stroke="rgba(255,240,242,0.45)">2.18</text>
<text transform="translate(611.5 481.6) scale(0.85 1)" class="lb" fill="#3a2529" stroke="rgba(255,240,242,0.45)">2.03</text>
<text transform="translate(589.8 461.6) scale(0.85 1)" class="lb" fill="#303236" stroke="rgba(255,240,242,0.45)">2.15</text>
<text transform="translate(646.2 420.5) scale(0.85 1)" class="lb" fill="#243650" stroke="rgba(255,240,242,0.45)">2.4</text>
<text transform="translate(613.7 392.3) scale(0.85 1)" class="lb" fill="#243650" stroke="rgba(255,240,242,0.45)">2.42</text>
<text transform="translate(647.8 376.1) scale(0.85 1)" class="lb" fill="#303236" stroke="rgba(255,240,242,0.45)">2.1</text>
<text transform="translate(691.7 384.7) scale(0.85 1)" class="lb" fill="#303236" stroke="rgba(255,240,242,0.45)">2.21</text>
<text transform="translate(748.0 335.8) scale(0.85 1)" class="lb" fill="#303236" stroke="rgba(255,240,242,0.45)">2.07</text>
<text transform="translate(719.8 295.5) scale(0.85 1)" class="lb" fill="#3a2529" stroke="rgba(255,240,242,0.45)">1.95</text>
<text transform="translate(687.3 278.2) scale(0.85 1)" class="lb" fill="#3a2529" stroke="rgba(255,240,242,0.45)">1.8</text>
<text transform="translate(647.3 286.1) scale(0.85 1)" class="lb" fill="#3a2529" stroke="rgba(255,240,242,0.45)">1.93</text>
<text transform="translate(669.0 331.6) scale(0.85 1)" class="lb" fill="#303236" stroke="rgba(255,240,242,0.45)">2.25</text>
<text transform="translate(624.5 348.6) scale(0.85 1)" class="lb" fill="#3a2529" stroke="rgba(255,240,242,0.45)">1.72</text>
<text transform="translate(608.9 321.2) scale(0.85 1)" class="lb" fill="#3a2529" stroke="rgba(255,240,242,0.45)">1.77</text>
<text transform="translate(600.7 279.6) scale(0.85 1)" class="lb" fill="#3a2529" stroke="rgba(255,240,242,0.45)">1.97</text>
<text transform="translate(565.0 323.4) scale(0.85 1)" class="lb" fill="#3a2529" stroke="rgba(255,240,242,0.45)">1.68</text>
<text transform="translate(562.8 412.9) scale(0.85 1)" class="lb" fill="#303236" stroke="rgba(255,240,242,0.45)">2.14</text>
<text transform="translate(528.7 281.6) scale(0.85 1)" class="lb" fill="#3a2529" stroke="rgba(255,240,242,0.45)">1.6</text>
<text transform="translate(506.0 331.5) scale(0.85 1)" class="lb" fill="#f4f1f3" stroke="rgba(40,10,20,0.22)">1.4</text>
<text transform="translate(469.5 303.3) scale(0.85 1)" class="lb" fill="#3a2529" stroke="rgba(255,240,242,0.45)">1.71</text>
<text transform="translate(428.9 300.4) scale(0.85 1)" class="lb" fill="#3a2529" stroke="rgba(255,240,242,0.45)">1.78</text>
<text transform="translate(435.2 276.7) scale(0.85 1)" class="lb" fill="#3a2529" stroke="rgba(255,240,242,0.45)">1.78</text>
<text transform="translate(381.8 319.5) scale(0.85 1)" class="lb" fill="#3a2529" stroke="rgba(255,240,242,0.45)">1.53</text>
<text transform="translate(340.6 297.8) scale(0.85 1)" class="lb" fill="#3a2529" stroke="rgba(255,240,242,0.45)">1.5</text>
<text transform="translate(447.4 343.7) scale(0.85 1)" class="lb" fill="#3a2529" stroke="rgba(255,240,242,0.45)">1.55</text>
<text transform="translate(387.9 366.7) scale(0.85 1)" class="lb" fill="#3a2529" stroke="rgba(255,240,242,0.45)">1.78</text>
<text transform="translate(354.6 378.0) scale(0.85 1)" class="lb" fill="#3a2529" stroke="rgba(255,240,242,0.45)">1.57</text>
<text transform="translate(435.8 379.4) scale(0.85 1)" class="lb" fill="#3a2529" stroke="rgba(255,240,242,0.45)">1.64</text>
<text transform="translate(486.6 379.4) scale(0.85 1)" class="lb" fill="#303236" stroke="rgba(255,240,242,0.45)">2.06</text>
<text transform="translate(379.0 417.2) scale(0.85 1)" class="lb" fill="#3a2529" stroke="rgba(255,240,242,0.45)">1.74</text>
<text transform="translate(429.5 421.6) scale(0.85 1)" class="lb" fill="#3a2529" stroke="rgba(255,240,242,0.45)">1.73</text>
<text transform="translate(497.3 415.2) scale(0.85 1)" class="lb" fill="#3a2529" stroke="rgba(255,240,242,0.45)">1.76</text>
<text transform="translate(461.5 440.2) scale(0.85 1)" class="lb" fill="#3a2529" stroke="rgba(255,240,242,0.45)">1.74</text>
<text transform="translate(395.7 456.2) scale(0.85 1)" class="lb" fill="#3a2529" stroke="rgba(255,240,242,0.45)">1.71</text>
<text transform="translate(492.8 472.5) scale(0.85 1)" class="lb" fill="#3a2529" stroke="rgba(255,240,242,0.45)">1.91</text>
</g>
<g id="m2025">
<path d="M376.5 620.0 380.0 619.0 379.5 617.0 376.0 616.3 373.5 617.5 374.0 619.5ZM308.5 638.0 310.8 636.3 309.5 634.4 305.0 633.6 301.0 634.2 299.5 636.5 303.0 638.2ZM312.0 654.2 311.5 652.8 309.5 653.3 310.0 654.6ZM314.6 656.0 311.4 669.1 312.2 672.4 327.7 670.7 342.4 669.1 344.1 672.4 337.5 677.3 332.6 682.2 337.5 687.1 339.2 693.6 337.5 700.2 344.1 705.1 343.1 702.3 346.1 706.4 335.9 710.4 333.9 718.6 339.0 723.7 346.1 726.8 345.1 727.8 331.8 727.8 327.7 724.8 324.7 715.6 319.5 714.5 318.5 718.6 321.6 725.8 320.6 728.9 312.4 731.9 313.4 734.0 323.6 739.1 329.8 741.1 342.0 745.2 348.2 753.4 349.2 759.5 341.0 766.7 346.1 769.8 350.2 777.9 356.3 786.1 360.4 792.2 348.2 796.3 347.1 801.5 356.3 800.4 380.9 803.5 385.0 807.6 372.7 812.7 354.3 813.7 350.2 816.8 362.5 817.8 376.8 813.7 374.8 822.9 380.9 820.9 389.1 810.7 399.3 814.7 409.5 820.9 417.7 827.0 421.8 837.2 430.0 842.4 438.1 847.5 440.0 850.5 449.0 849.0 459.5 846.0 470.0 844.5 476.0 840.0 477.5 829.5 480.5 819.0 485.0 816.7 494.0 818.3 503.0 819.7 512.0 822.0 521.0 826.5 530.0 832.5 539.0 838.5 548.0 844.5 555.5 850.5 558.5 856.5 563.0 861.0 570.5 861.7 582.5 859.5 593.0 856.5 602.0 855.0 611.0 852.0 617.5 849.4 622.5 845.0 628.3 838.3 636.7 831.7 643.3 826.7 648.3 825.0 655.0 826.7 661.7 829.2 670.0 834.2 678.3 835.8 683.3 831.7 686.7 828.3 692.5 825.0 697.5 818.3 702.5 815.0 704.5 816.0 707.0 821.4 707.8 828.0 704.5 836.2 698.8 843.5 692.3 850.1 696.4 858.2 699.6 866.4 702.9 872.1 707.0 871.3 711.1 865.6 716.0 859.9 720.9 853.3 726.6 850.9 724.2 847.6 722.5 839.4 724.2 829.6 725.8 824.7 728.3 821.0 735.0 824.3 741.7 829.3 746.7 831.0 753.3 827.7 763.3 826.0 773.3 821.0 783.3 817.7 796.7 819.3 810.0 824.3 821.7 826.0 838.3 822.7 855.0 817.7 870.0 811.8 880.0 806.0 897.4 802.2 914.7 800.4 932.1 796.9 946.0 791.7 954.7 791.7 958.2 795.2 966.9 790.0 972.1 784.8 984.2 783.0 991.2 783.0 1001.6 784.8 1015.5 783.0 1027.7 783.0 1031.2 790.0 1034.6 795.2 1039.8 788.3 1046.8 784.8 1052.0 779.6 1045.1 772.6 1043.3 762.2 1036.4 755.2 1027.7 748.3 1031.2 737.9 1034.6 727.4 1029.4 725.7 1027.7 713.5 1024.2 703.1 1020.7 692.7 1017.3 685.7 1015.5 677.1 1025.9 670.1 1027.7 661.4 1033.0 660.0 1039.5 658.5 1035.0 653.5 1030.7 650.0 1023.3 644.5 1005.0 642.7 995.8 640.8 994.0 635.3 988.5 624.3 992.2 613.3 990.3 604.2 983.0 596.8 977.5 588.0 968.3 580.3 959.2 574.8 953.7 570.3 948.2 571.2 944.5 578.5 935.3 576.7 922.5 576.7 913.3 578.5 907.5 578.0 893.3 590.0 883.3 596.7 873.3 603.3 860.0 609.2 850.0 610.0 838.3 607.5 828.3 604.2 816.7 605.8 803.3 609.2 793.3 612.5 783.3 613.3 770.0 610.0 761.7 605.0 750.0 605.8 740.0 603.3 733.3 597.5 721.7 594.2 711.7 596.7 703.3 588.3 702.0 581.0 696.0 575.0 682.0 579.0 672.0 575.0 666.0 569.0 664.0 560.0 659.0 558.0 652.0 562.0 640.0 564.0 624.0 563.0 610.0 562.0 596.0 561.0 580.0 565.0 568.0 569.0 558.0 575.0 548.0 581.0 536.0 587.0 523.0 592.0 520.0 601.0 502.0 603.0 492.0 600.0 480.0 597.0 470.0 599.0 457.5 598.0 445.0 596.2 433.8 593.8 425.0 590.5 415.0 585.0 406.2 578.8 400.0 573.0 397.5 568.0 396.7 555.8 395.0 552.3 388.3 550.8 380.0 551.5 373.3 548.0 368.3 543.3 364.0 543.3 359.2 544.2 356.7 547.5 350.0 547.8 342.5 548.5 339.0 550.5 334.5 554.0 333.3 557.3 337.0 560.5 341.0 564.0 341.7 570.0 340.8 576.7 336.0 578.5 330.8 582.0 329.3 592.0 327.0 599.0 322.0 602.5 316.7 608.3 316.7 613.0 320.0 614.5 335.0 615.0 345.0 615.8 346.2 619.0 341.7 621.7 336.7 625.0 330.0 627.5 322.5 630.0 321.7 633.3 319.2 640.0 318.3 642.5 319.5 641.3 317.9 646.2ZM335.0 630.8 339.2 627.5 343.3 623.3 349.2 619.2 353.3 616.7 361.7 615.0 370.0 608.3 372.5 603.3 377.5 599.5 395.0 598.8 410.0 600.5 425.0 606.0 435.0 610.0 442.5 614.5 450.0 617.0 465.0 618.8 455.0 621.0 442.5 621.0 430.0 620.5 422.5 622.5 421.0 626.0 427.5 628.8 432.5 631.0 431.0 635.0 420.0 635.5 407.5 634.5 397.5 633.0 391.0 631.0 387.5 628.8 390.0 626.0 385.0 625.0 380.0 626.5 381.0 630.0 375.0 629.5 367.5 628.0 357.5 628.5 350.0 628.0 340.0 629.5 332.5 632.5 327.5 637.5 322.5 644.2 321.7 639.4 328.3 635.0Z" fill="none" stroke="#f7d3da" stroke-width="3" stroke-linejoin="round"/>
<path d="M339.5 597.2 354.2 589.7 359.5 576.9 358.7 575.5 349.1 568.4 342.5 548.5 339.0 550.5 334.5 554.0 333.3 557.3 337.0 560.5 341.0 564.0 341.7 570.0 340.8 576.7 336.0 578.5 330.8 582.0 329.3 592.0 327.0 599.0 322.0 602.5 316.7 608.3 316.7 613.0 320.0 614.5 335.0 615.0 338.1 615.3Z" fill="#ae0f34"/>
<path d="M398.0 569.0 397.5 568.0 396.7 555.8 395.0 552.3 388.3 550.8 380.0 551.5 373.3 548.0 368.3 543.3 364.0 543.3 359.2 544.2 356.7 547.5 350.0 547.8 342.5 548.5 349.1 568.4 358.7 575.5 359.5 576.9 377.2 580.1 387.4 572.3 394.3 571.4Z" fill="#ae0f34"/>
<path d="M359.5 576.9 354.2 589.7 339.5 597.2 338.1 615.3 345.0 615.8 346.2 619.0 341.7 621.7 339.6 623.1 342.7 624.0 343.3 623.3 349.2 619.2 353.3 616.7 361.7 615.0 370.0 608.3 372.5 603.3 377.5 599.5 395.0 598.8 403.0 599.7 394.3 571.4 387.4 572.3 377.2 580.1ZM378.7 619.4 380.0 619.0 379.5 617.0 376.0 616.3 373.5 617.5 374.0 619.5 375.3 619.8Z" fill="#b33244"/>
<path d="M394.3 571.4 403.0 599.7 410.0 600.5 425.0 606.0 435.0 610.0 439.6 612.7 445.7 614.6 447.2 616.1 450.0 617.0 450.7 617.1 464.1 603.4 465.2 598.6 457.5 598.0 445.0 596.2 433.8 593.8 425.0 590.5 415.0 585.0 406.2 578.8 400.0 573.0 398.0 569.0Z" fill="#ae0f34"/>
<path d="M450.7 617.1 465.0 618.8 455.0 621.0 450.6 621.0 452.0 624.6 464.2 631.4 473.4 622.7 473.8 621.2 481.0 611.6 481.0 597.2 480.0 597.0 470.0 599.0 465.2 598.6 464.1 603.4Z" fill="#b43746"/>
<path d="M481.0 611.6 473.8 621.2 473.4 622.7 464.2 631.4 464.5 632.7 486.8 649.9 496.5 644.0 498.0 629.9 501.8 624.3 500.9 620.0 498.5 616.3 497.6 601.7 492.0 600.0 481.0 597.2Z" fill="#b73b4a"/>
<path d="M498.5 616.3 500.9 620.0 501.8 624.3 517.3 625.3 527.5 614.8 517.5 602.2 517.3 601.3 502.0 603.0 497.6 601.7Z" fill="#b1233d"/>
<path d="M517.5 602.2 527.5 614.8 534.7 615.2 542.9 610.3 552.5 608.2 555.1 592.7 548.5 580.7 548.0 581.0 536.0 587.0 523.0 592.0 520.0 601.0 517.3 601.3Z" fill="#ae0f34"/>
<path d="M555.1 592.7 581.8 587.4 578.8 565.4 568.0 569.0 558.0 575.0 548.5 580.7Z" fill="#ae0f34"/>
<path d="M558.8 614.3 565.0 625.7 593.7 610.5 597.9 604.6 597.9 604.6 592.6 596.6 588.3 594.1 581.8 587.4 555.1 592.7 552.5 608.2Z" fill="#ae0f34"/>
<path d="M588.3 594.1 592.6 596.6 597.9 604.6 597.9 604.6 611.9 615.1 623.6 617.0 633.8 603.5 625.8 587.6 636.5 578.7 636.5 563.8 624.0 563.0 610.0 562.0 596.0 561.0 580.0 565.0 578.8 565.4 581.8 587.4Z" fill="#ae0f34"/>
<path d="M636.5 578.7 625.8 587.6 633.8 603.5 658.7 603.5 660.0 601.9 660.0 600.5 670.8 577.9 673.6 575.6 672.0 575.0 666.0 569.0 664.0 560.0 659.0 558.0 652.0 562.0 640.0 564.0 636.5 563.8Z" fill="#ae0f34"/>
<path d="M670.8 577.9 660.0 600.5 660.0 601.9 683.1 606.0 687.2 610.6 699.2 615.1 707.6 625.8 708.3 626.0 722.6 622.9 729.3 596.3 721.7 594.2 711.7 596.7 703.3 588.3 702.0 581.0 696.0 575.0 682.0 579.0 673.6 575.6Z" fill="#ae0f34"/>
<path d="M722.6 622.9 725.5 624.9 742.0 627.8 760.9 646.2 771.7 643.0 772.9 637.7 772.2 633.0 775.5 611.4 770.0 610.0 761.7 605.0 750.0 605.8 740.0 603.3 733.3 597.5 729.3 596.3Z" fill="#ae0f34"/>
<path d="M771.7 643.0 772.4 643.5 780.3 652.0 815.0 652.0 813.7 632.3 814.4 630.3 805.0 611.3 805.0 608.8 803.3 609.2 793.3 612.5 783.3 613.3 775.5 611.4 772.2 633.0 772.9 637.7Z" fill="#ae0f34"/>
<path d="M805.0 611.3 814.4 630.3 832.3 627.7 834.3 625.4 852.5 624.3 859.9 628.0 870.8 626.2 864.2 607.3 860.0 609.2 850.0 610.0 838.3 607.5 828.3 604.2 816.7 605.8 805.0 608.8Z" fill="#ae0f34"/>
<path d="M870.8 626.2 874.3 627.6 874.9 628.0 902.3 617.0 909.2 616.7 908.0 608.9 897.5 586.5 893.3 590.0 883.3 596.7 873.3 603.3 864.2 607.3Z" fill="#ae0f34"/>
<path d="M908.0 608.9 909.2 616.7 916.2 620.9 936.5 616.4 937.2 615.9 941.0 614.4 945.0 589.2 941.0 577.8 935.3 576.7 922.5 576.7 913.3 578.5 907.5 578.0 897.5 586.5Z" fill="#ae0f34"/>
<path d="M945.0 589.2 941.0 614.4 948.2 615.2 953.9 613.1 970.8 610.2 983.6 597.4 983.0 596.8 977.5 588.0 968.3 580.3 959.2 574.8 953.7 570.3 948.2 571.2 944.5 578.5 941.0 577.8Z" fill="#b53948"/>
<path d="M953.9 613.1 948.2 615.2 941.0 614.4 937.2 615.9 936.5 616.4 943.7 656.0 948.8 659.7 962.2 654.6 970.4 657.1 989.2 653.1 994.3 636.1 994.0 635.3 988.5 624.3 992.2 613.3 990.3 604.2 983.6 597.4 970.8 610.2Z" fill="#c9666b"/>
<path d="M989.2 653.1 994.5 660.5 1014.7 662.9 1024.9 670.8 1025.9 670.1 1027.7 661.4 1033.0 660.0 1039.5 658.5 1035.0 653.5 1030.7 650.0 1023.3 644.5 1005.0 642.7 995.8 640.8 994.3 636.1Z" fill="#c9666b"/>
<path d="M1015.0 691.0 1019.6 690.4 1017.3 685.7 1015.5 677.1 1024.9 670.8 1014.7 662.9 994.5 660.5 989.2 653.1 970.4 657.1 962.2 654.6 948.8 659.7 947.2 673.4 965.2 693.3 972.5 694.3 976.4 689.2 991.9 681.0Z" fill="#e5d6d6"/>
<path d="M916.2 620.9 909.2 616.7 902.3 617.0 874.9 628.0 881.0 655.9 874.2 665.8 874.8 671.2 886.7 685.5 894.1 689.6 915.8 682.4 920.6 685.4 929.1 685.7 947.2 673.4 948.8 659.7 943.7 656.0 936.5 616.4Z" fill="#c2505b"/>
<path d="M843.2 656.2 874.2 665.8 881.0 655.9 874.9 628.0 874.3 627.6 870.8 626.2 859.9 628.0 843.6 650.8Z" fill="#ae0f34"/>
<path d="M852.5 624.3 834.3 625.4 832.3 627.7 814.4 630.3 813.7 632.3 815.0 652.0 818.0 656.2 820.7 657.8 838.6 659.0 843.2 656.2 843.6 650.8 859.9 628.0Z" fill="#ae0f34"/>
<path d="M795.0 677.1 795.0 697.7 809.3 704.2 819.9 688.9 824.8 689.2 837.4 684.5 838.1 683.5 862.5 683.5 874.8 671.2 874.2 665.8 843.2 656.2 838.6 659.0 820.7 657.8 818.0 656.2 815.0 652.0 780.3 652.0 787.0 672.1 794.3 675.9Z" fill="#ae0f34"/>
<path d="M838.1 683.5 837.4 684.5 824.8 689.2 819.9 688.9 809.3 704.2 810.3 708.2 825.3 715.6 832.9 713.2 839.7 718.2 861.1 709.3 857.7 702.8 862.5 683.5Z" fill="#ae0f34"/>
<path d="M857.7 702.8 861.1 709.3 865.9 713.2 870.4 721.8 871.0 726.4 872.5 728.5 902.5 728.5 911.6 724.0 895.6 702.7 894.1 689.6 886.7 685.5 874.8 671.2 862.5 683.5Z" fill="#c4575f"/>
<path d="M947.2 673.4 929.1 685.7 920.6 685.4 915.8 682.4 894.1 689.6 895.6 702.7 911.6 724.0 917.4 724.6 920.0 726.0 931.0 722.7 943.5 710.0 944.3 707.6 965.2 693.3Z" fill="#e5d9d9"/>
<path d="M931.0 722.7 920.0 726.0 921.7 737.7 934.8 750.8 962.2 744.4 968.4 745.9 975.0 734.7 975.0 733.2 981.4 712.5 972.5 694.3 965.2 693.3 944.3 707.6 943.5 710.0Z" fill="#e5d9d9"/>
<path d="M975.0 733.2 975.0 734.7 968.4 745.9 969.2 752.5 994.0 767.4 1015.4 751.4 1020.6 752.0 1029.9 750.1 1027.7 748.3 1031.2 737.9 1034.6 727.4 1029.4 725.7 1027.7 713.5 1024.2 703.1 1020.7 692.7 1019.6 690.4 1015.0 691.0 991.9 681.0 976.4 689.2 972.5 694.3 981.4 712.5Z" fill="#daa5a7"/>
<path d="M1020.6 752.0 1015.4 751.4 994.0 767.4 996.7 784.0 1001.6 784.8 1015.5 783.0 1027.7 783.0 1031.2 790.0 1034.6 795.2 1039.8 788.3 1046.8 784.8 1052.0 779.6 1045.1 772.6 1043.3 762.2 1036.4 755.2 1029.9 750.1Z" fill="#d07c7f"/>
<path d="M933.3 772.1 932.9 772.4 930.6 779.1 934.0 796.2 946.0 791.7 954.7 791.7 958.2 795.2 966.9 790.0 972.1 784.8 984.2 783.0 991.2 783.0 996.7 784.0 994.0 767.4 969.2 752.5 967.7 755.4 948.2 771.5Z" fill="#7a9dc4"/>
<path d="M920.0 766.0 932.9 772.4 933.3 772.1 948.2 771.5 967.7 755.4 969.2 752.5 968.4 745.9 962.2 744.4 934.8 750.8 921.7 737.7 917.8 745.4Z" fill="#e4d1d1"/>
<path d="M891.3 762.2 891.6 764.0 891.4 765.5 896.3 768.5 907.2 786.9 930.6 779.1 932.9 772.4 920.0 766.0 917.8 745.4 921.7 737.7 920.0 726.0 917.4 724.6 911.6 724.0 902.5 728.5Z" fill="#e3cbcb"/>
<path d="M891.4 765.5 880.4 772.0 877.1 777.0 857.6 783.5 856.7 785.5 863.9 814.2 870.0 811.8 880.0 806.0 897.4 802.2 914.7 800.4 932.1 796.9 934.0 796.2 930.6 779.1 907.2 786.9 896.3 768.5Z" fill="#ccd3de"/>
<path d="M857.6 783.5 877.1 777.0 880.4 772.0 891.4 765.5 891.6 764.0 891.3 762.2 902.5 728.5 872.5 728.5 871.0 726.4 844.0 733.1 832.0 751.1 835.2 757.6 835.8 757.8Z" fill="#e4dddd"/>
<path d="M870.4 721.8 865.9 713.2 861.1 709.3 839.7 718.2 832.9 713.2 825.3 715.6 810.3 708.2 798.6 727.6 799.2 729.1 820.6 743.0 821.6 744.7 832.0 751.1 844.0 733.1 871.0 726.4Z" fill="#b22d42"/>
<path d="M809.3 704.2 795.0 697.7 778.2 705.3 777.6 705.1 744.5 727.1 744.3 730.7 758.1 737.6 766.8 762.5 779.3 762.5 788.5 756.0 797.1 759.1 821.6 744.7 820.6 743.0 799.2 729.1 798.6 727.6 810.3 708.2Z" fill="#b43746"/>
<path d="M821.5 778.2 835.2 757.6 832.0 751.1 821.6 744.7 797.1 759.1 788.5 756.0 779.3 762.5 766.8 762.5 757.6 773.7 759.7 780.2 774.6 791.4 780.0 792.2 783.2 790.6 786.5 785.1 804.4 776.8 814.7 780.5Z" fill="#deb5b6"/>
<path d="M835.8 757.8 835.2 757.6 821.5 778.2 814.7 780.5 804.4 776.8 786.5 785.1 783.2 790.6 780.0 792.2 780.0 818.8 783.3 817.7 796.7 819.3 810.0 824.3 821.7 826.0 838.3 822.7 855.0 817.7 863.9 814.2 856.7 785.5 857.6 783.5Z" fill="#0a5c9e"/>
<path d="M747.6 798.3 744.0 799.8 731.5 797.5 730.3 798.0 728.2 821.2 728.3 821.0 732.8 823.2 748.4 814.9 764.5 825.4 773.3 821.0 780.0 818.8 780.0 792.2 774.6 791.4 759.7 780.2Z" fill="#e3c9c9"/>
<path d="M748.4 814.9 732.8 823.2 735.0 824.3 741.7 829.3 746.7 831.0 753.3 827.7 763.3 826.0 764.5 825.4Z" fill="#d79698"/>
<path d="M701.0 813.7 698.6 813.9 697.2 818.7 697.5 818.3 702.5 815.0 704.5 816.0 707.0 821.4 707.8 828.0 704.5 836.2 698.8 843.5 692.3 850.1 696.4 858.2 699.6 866.4 702.9 872.1 707.0 871.3 711.1 865.6 716.0 859.9 720.9 853.3 726.6 850.9 724.2 847.6 722.5 839.4 724.2 829.6 725.8 824.7 727.3 822.4Z" fill="#d89b9d"/>
<path d="M694.3 806.2 698.6 813.9 701.0 813.7 727.3 822.4 728.2 821.2 730.3 798.0 726.1 797.1 716.7 789.3 712.4 780.8 694.0 792.3 695.0 803.0Z" fill="#d18184"/>
<path d="M758.1 737.6 744.3 730.7 737.7 736.1 734.1 736.3 702.4 760.8 704.1 763.9 711.5 769.9 712.4 780.8 716.7 789.3 726.1 797.1 730.3 798.0 731.5 797.5 744.0 799.8 747.6 798.3 759.7 780.2 757.6 773.7 766.8 762.5Z" fill="#d07c7f"/>
<path d="M711.5 769.9 704.1 763.9 702.4 760.8 694.4 754.8 669.7 768.1 671.9 780.2 667.5 790.5 653.1 799.1 670.0 816.0 670.0 834.2 678.3 835.8 683.3 831.7 686.7 828.3 692.5 825.0 697.2 818.7 698.6 813.9 694.3 806.2 695.0 803.0 694.0 792.3 712.4 780.8Z" fill="#c4575f"/>
<path d="M670.0 816.0 653.1 799.1 650.0 799.6 636.2 793.6 625.4 794.8 619.5 808.6 604.8 814.2 592.2 828.0 581.8 826.7 570.7 831.4 565.3 830.7 549.9 846.1 555.5 850.5 558.5 856.5 563.0 861.0 570.5 861.7 582.5 859.5 593.0 856.5 602.0 855.0 611.0 852.0 617.5 849.4 622.5 845.0 628.3 838.3 636.7 831.7 643.3 826.7 648.3 825.0 655.0 826.7 661.7 829.2 670.0 834.2Z" fill="#b83d4c"/>
<path d="M625.4 794.8 619.5 787.5 581.5 787.5 581.1 789.5 578.2 794.4 549.4 808.8 549.7 811.3 565.3 830.7 570.7 831.4 581.8 826.7 592.2 828.0 604.8 814.2 619.5 808.6Z" fill="#b1233d"/>
<path d="M635.7 752.6 631.4 750.5 615.7 761.1 619.5 787.5 625.4 794.8 636.2 793.6 650.0 799.6 653.1 799.1 667.5 790.5 671.9 780.2 669.7 768.1 664.6 765.1 658.4 755.8Z" fill="#c04b58"/>
<path d="M602.5 733.5 591.8 736.4 585.6 761.0 615.5 761.0 615.7 761.1 631.4 750.5 632.1 734.5 632.2 734.2 631.4 725.1 628.9 720.8 612.8 708.7 606.2 706.7 603.9 731.7Z" fill="#c04957"/>
<path d="M632.2 734.2 632.1 734.5 631.4 750.5 635.7 752.6 658.4 755.8 667.0 729.9 668.3 728.6 662.5 713.5 656.1 709.4 644.8 690.6 643.1 692.4 628.9 720.8 631.4 725.1Z" fill="#b33244"/>
<path d="M684.5 691.5 662.5 713.5 668.3 728.6 667.0 729.9 658.4 755.8 664.6 765.1 669.7 768.1 694.4 754.8 702.4 760.8 734.1 736.3 707.2 727.7 706.1 725.5 713.4 704.9 702.7 687.2 690.0 691.9 685.0 691.3Z" fill="#b43746"/>
<path d="M772.4 643.5 771.7 643.0 760.9 646.2 751.4 657.3 728.6 652.7 715.5 658.4 707.5 668.5 708.5 677.8 702.7 687.2 713.4 704.9 706.1 725.5 707.2 727.7 734.1 736.3 737.7 736.1 744.3 730.7 744.5 727.1 777.6 705.1 778.2 705.3 795.0 697.7 795.0 677.1 794.3 675.9 787.0 672.1 780.3 652.0Z" fill="#ae0f34"/>
<path d="M751.4 657.3 760.9 646.2 742.0 627.8 725.5 624.9 722.6 622.9 708.3 626.0 707.6 625.8 681.9 648.0 707.5 668.5 715.5 658.4 728.6 652.7Z" fill="#ae0f34"/>
<path d="M657.4 618.9 665.3 634.2 672.4 639.0 678.9 647.8 681.9 648.0 707.6 625.8 699.2 615.1 687.2 610.6 683.1 606.0 660.0 601.9 658.7 603.5Z" fill="#ae0f34"/>
<path d="M631.3 629.9 629.8 651.2 630.8 651.1 666.7 661.7 669.8 660.2 678.9 647.8 672.4 639.0 665.3 634.2 657.4 618.9 658.7 603.5 633.8 603.5 623.6 617.0Z" fill="#ae0f34"/>
<path d="M644.8 687.4 644.8 690.6 656.1 709.4 662.5 713.5 684.5 691.5 685.0 691.3 690.0 691.9 702.7 687.2 708.5 677.8 707.5 668.5 681.9 648.0 678.9 647.8 669.8 660.2 666.7 661.7 630.8 651.1 629.8 651.2 628.6 652.4 629.9 674.6Z" fill="#ae0f34"/>
<path d="M612.8 708.7 628.9 720.8 643.1 692.4 644.8 690.6 644.8 687.4 629.9 674.6 605.3 688.6 602.0 702.0 606.2 706.7Z" fill="#ae0f34"/>
<path d="M586.6 663.2 605.3 688.6 629.9 674.6 628.6 652.4 602.2 648.1 600.3 648.5 586.6 663.0Z" fill="#ae0f34"/>
<path d="M592.3 636.8 600.3 648.5 602.2 648.1 628.6 652.4 629.8 651.2 631.3 629.9 623.6 617.0 611.9 615.1 597.9 604.6 593.7 610.5 565.0 625.7 565.0 627.7Z" fill="#ae0f34"/>
<path d="M533.3 650.5 544.9 664.4 544.9 665.2 528.7 687.0 533.8 702.5 555.8 702.5 559.9 708.3 584.1 711.3 594.2 703.9 602.0 702.0 605.3 688.6 586.6 663.2 586.6 663.0 600.3 648.5 592.3 636.8 565.0 627.7 564.5 628.7 539.3 641.4Z" fill="#ae0f34"/>
<path d="M522.5 717.3 522.2 721.5 520.6 724.9 523.1 742.9 510.8 755.2 511.2 763.5 524.6 781.4 523.8 788.3 528.2 794.5 542.7 800.7 549.4 808.8 578.2 794.4 581.1 789.5 581.5 787.5 619.5 787.5 615.7 761.1 615.5 761.0 585.6 761.0 591.8 736.4 602.5 733.5 603.9 731.7 606.2 706.7 602.0 702.0 594.2 703.9 584.1 711.3 559.9 708.3 555.8 702.5 533.8 702.5Z" fill="#c4555e"/>
<path d="M527.5 614.8 517.3 625.3 501.8 624.3 498.0 629.9 496.5 644.0 517.3 653.9 527.9 650.0 533.3 650.5 539.3 641.4 564.5 628.7 565.0 627.7 565.0 625.7 558.8 614.3 552.5 608.2 542.9 610.3 534.7 615.2Z" fill="#ae0f34"/>
<path d="M481.0 657.9 473.8 679.8 488.4 694.4 488.6 695.0 494.0 695.9 522.5 717.3 533.8 702.5 528.7 687.0 544.9 665.2 544.9 664.4 533.3 650.5 527.9 650.0 517.3 653.9 496.5 644.0 486.8 649.9 485.1 654.8Z" fill="#ae0f34"/>
<path d="M455.3 661.6 463.3 677.7 473.8 679.8 481.0 657.9 485.1 654.8 486.8 649.9 464.5 632.7 454.6 655.2 455.8 658.7Z" fill="#ae0f34"/>
<path d="M408.1 654.4 403.9 664.9 416.1 677.1 430.0 671.5 436.6 674.1 455.3 661.6 455.8 658.7 454.6 655.2 464.5 632.7 464.2 631.4 452.0 624.6 435.8 636.8 429.5 635.1 420.0 635.5 407.5 634.5 397.5 633.0 392.9 631.6Z" fill="#b01938"/>
<path d="M435.8 636.8 452.0 624.6 450.6 621.0 442.5 621.0 430.0 620.5 422.5 622.5 421.0 626.0 427.5 628.8 432.5 631.0 431.0 635.0 429.5 635.1ZM445.7 614.6 439.6 612.7 442.5 614.5 447.2 616.1Z" fill="#b1233d"/>
<path d="M347.2 653.5 342.5 657.8 342.5 669.2 344.1 672.4 342.5 673.5 342.5 676.4 346.5 677.5 359.2 690.2 381.4 685.7 381.5 685.8 387.8 695.2 390.0 696.0 413.7 691.3 416.1 677.1 403.9 664.9 408.1 654.4 392.9 631.6 391.0 631.0 387.5 628.8 390.0 626.0 385.0 625.0 380.0 626.5 381.0 630.0 375.0 629.5 367.5 628.0 365.0 628.1 365.0 653.5ZM375.3 619.8 376.5 620.0 378.7 619.4Z" fill="#ae0f34"/>
<path d="M339.6 623.1 336.7 625.0 330.0 627.5 322.5 630.0 321.7 633.3 319.2 640.0 318.3 642.5 319.5 641.3 317.9 646.2 314.6 656.0 311.4 669.1 312.2 672.4 327.7 670.7 342.4 669.1 342.5 669.2 342.5 657.8 347.2 653.5 365.0 653.5 365.0 628.1 357.5 628.5 350.0 628.0 340.0 629.5 332.5 632.5 327.5 637.5 322.5 644.2 321.7 639.4 328.3 635.0 335.0 630.8 339.2 627.5 342.7 624.0ZM342.5 676.4 342.5 673.5 337.5 677.3 335.4 679.4ZM310.8 636.3 309.5 634.4 305.0 633.6 301.0 634.2 299.5 636.5 303.0 638.2 308.5 638.0ZM311.5 652.8 309.5 653.3 310.0 654.6 312.0 654.2Z" fill="#ae0f34"/>
<path d="M436.6 674.1 430.0 671.5 416.1 677.1 413.7 691.3 420.6 699.8 434.8 702.2 442.4 709.0 449.5 711.3 456.1 703.8 487.9 695.9 488.6 695.0 488.4 694.4 473.8 679.8 463.3 677.7 455.3 661.6Z" fill="#ae0f34"/>
<path d="M373.9 727.4 375.7 729.2 381.5 742.9 382.9 743.5 403.2 743.5 414.6 734.8 410.0 721.0 420.6 699.8 413.7 691.3 390.0 696.0 387.8 695.2 381.5 685.8 381.4 685.7 359.2 690.2 357.1 700.3 364.1 714.3 370.9 718.6Z" fill="#b83d4c"/>
<path d="M359.2 690.2 346.5 677.5 342.5 676.4 335.4 679.4 332.6 682.2 337.5 687.1 339.2 693.6 337.5 700.2 344.1 705.1 343.1 702.3 346.1 706.4 335.9 710.4 333.9 718.6 339.0 723.7 346.1 726.8 345.1 727.8 331.8 727.8 327.7 724.8 324.7 715.6 319.5 714.5 318.5 718.6 321.6 725.8 320.6 728.9 312.4 731.9 313.4 734.0 323.6 739.1 329.8 741.1 342.0 745.2 346.4 751.0 371.6 751.0 381.5 742.9 375.7 729.2 373.9 727.4 370.9 718.6 364.1 714.3 357.1 700.3Z" fill="#ae0f34"/>
<path d="M416.8 735.2 433.9 745.5 446.9 742.1 453.8 720.8 449.5 711.3 442.4 709.0 434.8 702.2 420.6 699.8 410.0 721.0 414.6 734.8Z" fill="#ae0f34"/>
<path d="M446.9 742.1 468.2 759.0 479.6 740.0 492.3 738.2 501.3 751.8 510.8 755.2 523.1 742.9 520.6 724.9 522.2 721.5 522.5 717.3 494.0 695.9 488.6 695.0 487.9 695.9 456.1 703.8 449.5 711.3 453.8 720.8Z" fill="#ba3e4e"/>
<path d="M391.0 781.7 409.5 772.5 403.2 743.5 382.9 743.5 381.5 742.9 371.6 751.0 346.4 751.0 348.2 753.4 349.2 759.5 341.0 766.7 346.1 769.8 350.2 777.9 354.7 784.0 366.6 778.9 390.9 782.0Z" fill="#b01938"/>
<path d="M424.3 783.9 430.0 801.0 437.5 804.8 445.5 801.7 449.7 787.8 441.1 770.6 467.7 761.8 468.5 760.5 468.2 759.0 446.9 742.1 433.9 745.5 416.8 735.2 414.6 734.8 403.2 743.5 409.5 772.5 411.9 773.0Z" fill="#ae0f34"/>
<path d="M480.5 765.1 490.6 775.1 493.4 787.5 500.7 792.1 523.8 788.3 524.6 781.4 511.2 763.5 510.8 755.2 501.3 751.8 492.3 738.2 479.6 740.0 468.2 759.0 468.5 760.5Z" fill="#ae0f34"/>
<path d="M445.5 801.7 449.5 802.5 473.1 795.1 475.6 796.0 493.4 787.5 490.6 775.1 480.5 765.1 468.5 760.5 467.7 761.8 441.1 770.6 449.7 787.8Z" fill="#ae0f34"/>
<path d="M354.7 784.0 356.3 786.1 360.4 792.2 348.2 796.3 347.1 801.5 356.3 800.4 380.9 803.5 385.0 807.6 372.7 812.7 354.3 813.7 350.2 816.8 362.5 817.8 376.8 813.7 374.8 822.9 380.9 820.9 389.1 810.7 399.3 814.7 409.5 820.9 417.7 827.0 421.8 837.2 424.4 838.9 437.5 806.2 437.5 804.8 430.0 801.0 424.3 783.9 411.9 773.0 409.5 772.5 391.0 781.7 390.9 782.0 366.6 778.9Z" fill="#ae0f34"/>
<path d="M542.7 800.7 528.2 794.5 523.8 788.3 500.7 792.1 493.4 787.5 475.6 796.0 473.1 795.1 449.5 802.5 445.5 801.7 437.5 804.8 437.5 806.2 424.4 838.9 430.0 842.4 438.1 847.5 440.0 850.5 449.0 849.0 459.5 846.0 470.0 844.5 476.0 840.0 477.5 829.5 480.5 819.0 485.0 816.7 494.0 818.3 503.0 819.7 512.0 822.0 521.0 826.5 530.0 832.5 539.0 838.5 548.0 844.5 549.9 846.1 565.3 830.7 549.7 811.3 549.4 808.8Z" fill="#ae0f34"/>
<path d="M339.5 597.2 354.2 589.7 359.5 576.9 358.7 575.5 349.1 568.4 342.5 548.5 339.0 550.5 334.5 554.0 333.3 557.3 337.0 560.5 341.0 564.0 341.7 570.0 340.8 576.7 336.0 578.5 330.8 582.0 329.3 592.0 327.0 599.0 322.0 602.5 316.7 608.3 316.7 613.0 320.0 614.5 335.0 615.0 338.1 615.3Z" fill="none" stroke="rgba(255,255,255,0.45)" stroke-width="0.7" stroke-linejoin="round"/>
<path d="M398.0 569.0 397.5 568.0 396.7 555.8 395.0 552.3 388.3 550.8 380.0 551.5 373.3 548.0 368.3 543.3 364.0 543.3 359.2 544.2 356.7 547.5 350.0 547.8 342.5 548.5 349.1 568.4 358.7 575.5 359.5 576.9 377.2 580.1 387.4 572.3 394.3 571.4Z" fill="none" stroke="rgba(255,255,255,0.45)" stroke-width="0.7" stroke-linejoin="round"/>
<path d="M359.5 576.9 354.2 589.7 339.5 597.2 338.1 615.3 345.0 615.8 346.2 619.0 341.7 621.7 339.6 623.1 342.7 624.0 343.3 623.3 349.2 619.2 353.3 616.7 361.7 615.0 370.0 608.3 372.5 603.3 377.5 599.5 395.0 598.8 403.0 599.7 394.3 571.4 387.4 572.3 377.2 580.1ZM378.7 619.4 380.0 619.0 379.5 617.0 376.0 616.3 373.5 617.5 374.0 619.5 375.3 619.8Z" fill="none" stroke="rgba(255,255,255,0.45)" stroke-width="0.7" stroke-linejoin="round"/>
<path d="M394.3 571.4 403.0 599.7 410.0 600.5 425.0 606.0 435.0 610.0 439.6 612.7 445.7 614.6 447.2 616.1 450.0 617.0 450.7 617.1 464.1 603.4 465.2 598.6 457.5 598.0 445.0 596.2 433.8 593.8 425.0 590.5 415.0 585.0 406.2 578.8 400.0 573.0 398.0 569.0Z" fill="none" stroke="rgba(255,255,255,0.45)" stroke-width="0.7" stroke-linejoin="round"/>
<path d="M450.7 617.1 465.0 618.8 455.0 621.0 450.6 621.0 452.0 624.6 464.2 631.4 473.4 622.7 473.8 621.2 481.0 611.6 481.0 597.2 480.0 597.0 470.0 599.0 465.2 598.6 464.1 603.4Z" fill="none" stroke="rgba(255,255,255,0.45)" stroke-width="0.7" stroke-linejoin="round"/>
<path d="M481.0 611.6 473.8 621.2 473.4 622.7 464.2 631.4 464.5 632.7 486.8 649.9 496.5 644.0 498.0 629.9 501.8 624.3 500.9 620.0 498.5 616.3 497.6 601.7 492.0 600.0 481.0 597.2Z" fill="none" stroke="rgba(255,255,255,0.45)" stroke-width="0.7" stroke-linejoin="round"/>
<path d="M498.5 616.3 500.9 620.0 501.8 624.3 517.3 625.3 527.5 614.8 517.5 602.2 517.3 601.3 502.0 603.0 497.6 601.7Z" fill="none" stroke="rgba(255,255,255,0.45)" stroke-width="0.7" stroke-linejoin="round"/>
<path d="M517.5 602.2 527.5 614.8 534.7 615.2 542.9 610.3 552.5 608.2 555.1 592.7 548.5 580.7 548.0 581.0 536.0 587.0 523.0 592.0 520.0 601.0 517.3 601.3Z" fill="none" stroke="rgba(255,255,255,0.45)" stroke-width="0.7" stroke-linejoin="round"/>
<path d="M555.1 592.7 581.8 587.4 578.8 565.4 568.0 569.0 558.0 575.0 548.5 580.7Z" fill="none" stroke="rgba(255,255,255,0.45)" stroke-width="0.7" stroke-linejoin="round"/>
<path d="M558.8 614.3 565.0 625.7 593.7 610.5 597.9 604.6 597.9 604.6 592.6 596.6 588.3 594.1 581.8 587.4 555.1 592.7 552.5 608.2Z" fill="none" stroke="rgba(255,255,255,0.45)" stroke-width="0.7" stroke-linejoin="round"/>
<path d="M588.3 594.1 592.6 596.6 597.9 604.6 597.9 604.6 611.9 615.1 623.6 617.0 633.8 603.5 625.8 587.6 636.5 578.7 636.5 563.8 624.0 563.0 610.0 562.0 596.0 561.0 580.0 565.0 578.8 565.4 581.8 587.4Z" fill="none" stroke="rgba(255,255,255,0.45)" stroke-width="0.7" stroke-linejoin="round"/>
<path d="M636.5 578.7 625.8 587.6 633.8 603.5 658.7 603.5 660.0 601.9 660.0 600.5 670.8 577.9 673.6 575.6 672.0 575.0 666.0 569.0 664.0 560.0 659.0 558.0 652.0 562.0 640.0 564.0 636.5 563.8Z" fill="none" stroke="rgba(255,255,255,0.45)" stroke-width="0.7" stroke-linejoin="round"/>
<path d="M670.8 577.9 660.0 600.5 660.0 601.9 683.1 606.0 687.2 610.6 699.2 615.1 707.6 625.8 708.3 626.0 722.6 622.9 729.3 596.3 721.7 594.2 711.7 596.7 703.3 588.3 702.0 581.0 696.0 575.0 682.0 579.0 673.6 575.6Z" fill="none" stroke="rgba(255,255,255,0.45)" stroke-width="0.7" stroke-linejoin="round"/>
<path d="M722.6 622.9 725.5 624.9 742.0 627.8 760.9 646.2 771.7 643.0 772.9 637.7 772.2 633.0 775.5 611.4 770.0 610.0 761.7 605.0 750.0 605.8 740.0 603.3 733.3 597.5 729.3 596.3Z" fill="none" stroke="rgba(255,255,255,0.45)" stroke-width="0.7" stroke-linejoin="round"/>
<path d="M771.7 643.0 772.4 643.5 780.3 652.0 815.0 652.0 813.7 632.3 814.4 630.3 805.0 611.3 805.0 608.8 803.3 609.2 793.3 612.5 783.3 613.3 775.5 611.4 772.2 633.0 772.9 637.7Z" fill="none" stroke="rgba(255,255,255,0.45)" stroke-width="0.7" stroke-linejoin="round"/>
<path d="M805.0 611.3 814.4 630.3 832.3 627.7 834.3 625.4 852.5 624.3 859.9 628.0 870.8 626.2 864.2 607.3 860.0 609.2 850.0 610.0 838.3 607.5 828.3 604.2 816.7 605.8 805.0 608.8Z" fill="none" stroke="rgba(255,255,255,0.45)" stroke-width="0.7" stroke-linejoin="round"/>
<path d="M870.8 626.2 874.3 627.6 874.9 628.0 902.3 617.0 909.2 616.7 908.0 608.9 897.5 586.5 893.3 590.0 883.3 596.7 873.3 603.3 864.2 607.3Z" fill="none" stroke="rgba(255,255,255,0.45)" stroke-width="0.7" stroke-linejoin="round"/>
<path d="M908.0 608.9 909.2 616.7 916.2 620.9 936.5 616.4 937.2 615.9 941.0 614.4 945.0 589.2 941.0 577.8 935.3 576.7 922.5 576.7 913.3 578.5 907.5 578.0 897.5 586.5Z" fill="none" stroke="rgba(255,255,255,0.45)" stroke-width="0.7" stroke-linejoin="round"/>
<path d="M945.0 589.2 941.0 614.4 948.2 615.2 953.9 613.1 970.8 610.2 983.6 597.4 983.0 596.8 977.5 588.0 968.3 580.3 959.2 574.8 953.7 570.3 948.2 571.2 944.5 578.5 941.0 577.8Z" fill="none" stroke="rgba(255,255,255,0.45)" stroke-width="0.7" stroke-linejoin="round"/>
<path d="M953.9 613.1 948.2 615.2 941.0 614.4 937.2 615.9 936.5 616.4 943.7 656.0 948.8 659.7 962.2 654.6 970.4 657.1 989.2 653.1 994.3 636.1 994.0 635.3 988.5 624.3 992.2 613.3 990.3 604.2 983.6 597.4 970.8 610.2Z" fill="none" stroke="rgba(255,255,255,0.45)" stroke-width="0.7" stroke-linejoin="round"/>
<path d="M989.2 653.1 994.5 660.5 1014.7 662.9 1024.9 670.8 1025.9 670.1 1027.7 661.4 1033.0 660.0 1039.5 658.5 1035.0 653.5 1030.7 650.0 1023.3 644.5 1005.0 642.7 995.8 640.8 994.3 636.1Z" fill="none" stroke="rgba(255,255,255,0.45)" stroke-width="0.7" stroke-linejoin="round"/>
<path d="M1015.0 691.0 1019.6 690.4 1017.3 685.7 1015.5 677.1 1024.9 670.8 1014.7 662.9 994.5 660.5 989.2 653.1 970.4 657.1 962.2 654.6 948.8 659.7 947.2 673.4 965.2 693.3 972.5 694.3 976.4 689.2 991.9 681.0Z" fill="none" stroke="rgba(255,255,255,0.45)" stroke-width="0.7" stroke-linejoin="round"/>
<path d="M916.2 620.9 909.2 616.7 902.3 617.0 874.9 628.0 881.0 655.9 874.2 665.8 874.8 671.2 886.7 685.5 894.1 689.6 915.8 682.4 920.6 685.4 929.1 685.7 947.2 673.4 948.8 659.7 943.7 656.0 936.5 616.4Z" fill="none" stroke="rgba(255,255,255,0.45)" stroke-width="0.7" stroke-linejoin="round"/>
<path d="M843.2 656.2 874.2 665.8 881.0 655.9 874.9 628.0 874.3 627.6 870.8 626.2 859.9 628.0 843.6 650.8Z" fill="none" stroke="rgba(255,255,255,0.45)" stroke-width="0.7" stroke-linejoin="round"/>
<path d="M852.5 624.3 834.3 625.4 832.3 627.7 814.4 630.3 813.7 632.3 815.0 652.0 818.0 656.2 820.7 657.8 838.6 659.0 843.2 656.2 843.6 650.8 859.9 628.0Z" fill="none" stroke="rgba(255,255,255,0.45)" stroke-width="0.7" stroke-linejoin="round"/>
<path d="M795.0 677.1 795.0 697.7 809.3 704.2 819.9 688.9 824.8 689.2 837.4 684.5 838.1 683.5 862.5 683.5 874.8 671.2 874.2 665.8 843.2 656.2 838.6 659.0 820.7 657.8 818.0 656.2 815.0 652.0 780.3 652.0 787.0 672.1 794.3 675.9Z" fill="none" stroke="rgba(255,255,255,0.45)" stroke-width="0.7" stroke-linejoin="round"/>
<path d="M838.1 683.5 837.4 684.5 824.8 689.2 819.9 688.9 809.3 704.2 810.3 708.2 825.3 715.6 832.9 713.2 839.7 718.2 861.1 709.3 857.7 702.8 862.5 683.5Z" fill="none" stroke="rgba(255,255,255,0.45)" stroke-width="0.7" stroke-linejoin="round"/>
<path d="M857.7 702.8 861.1 709.3 865.9 713.2 870.4 721.8 871.0 726.4 872.5 728.5 902.5 728.5 911.6 724.0 895.6 702.7 894.1 689.6 886.7 685.5 874.8 671.2 862.5 683.5Z" fill="none" stroke="rgba(255,255,255,0.45)" stroke-width="0.7" stroke-linejoin="round"/>
<path d="M947.2 673.4 929.1 685.7 920.6 685.4 915.8 682.4 894.1 689.6 895.6 702.7 911.6 724.0 917.4 724.6 920.0 726.0 931.0 722.7 943.5 710.0 944.3 707.6 965.2 693.3Z" fill="none" stroke="rgba(255,255,255,0.45)" stroke-width="0.7" stroke-linejoin="round"/>
<path d="M931.0 722.7 920.0 726.0 921.7 737.7 934.8 750.8 962.2 744.4 968.4 745.9 975.0 734.7 975.0 733.2 981.4 712.5 972.5 694.3 965.2 693.3 944.3 707.6 943.5 710.0Z" fill="none" stroke="rgba(255,255,255,0.45)" stroke-width="0.7" stroke-linejoin="round"/>
<path d="M975.0 733.2 975.0 734.7 968.4 745.9 969.2 752.5 994.0 767.4 1015.4 751.4 1020.6 752.0 1029.9 750.1 1027.7 748.3 1031.2 737.9 1034.6 727.4 1029.4 725.7 1027.7 713.5 1024.2 703.1 1020.7 692.7 1019.6 690.4 1015.0 691.0 991.9 681.0 976.4 689.2 972.5 694.3 981.4 712.5Z" fill="none" stroke="rgba(255,255,255,0.45)" stroke-width="0.7" stroke-linejoin="round"/>
<path d="M1020.6 752.0 1015.4 751.4 994.0 767.4 996.7 784.0 1001.6 784.8 1015.5 783.0 1027.7 783.0 1031.2 790.0 1034.6 795.2 1039.8 788.3 1046.8 784.8 1052.0 779.6 1045.1 772.6 1043.3 762.2 1036.4 755.2 1029.9 750.1Z" fill="none" stroke="rgba(255,255,255,0.45)" stroke-width="0.7" stroke-linejoin="round"/>
<path d="M933.3 772.1 932.9 772.4 930.6 779.1 934.0 796.2 946.0 791.7 954.7 791.7 958.2 795.2 966.9 790.0 972.1 784.8 984.2 783.0 991.2 783.0 996.7 784.0 994.0 767.4 969.2 752.5 967.7 755.4 948.2 771.5Z" fill="none" stroke="rgba(255,255,255,0.45)" stroke-width="0.7" stroke-linejoin="round"/>
<path d="M920.0 766.0 932.9 772.4 933.3 772.1 948.2 771.5 967.7 755.4 969.2 752.5 968.4 745.9 962.2 744.4 934.8 750.8 921.7 737.7 917.8 745.4Z" fill="none" stroke="rgba(255,255,255,0.45)" stroke-width="0.7" stroke-linejoin="round"/>
<path d="M891.3 762.2 891.6 764.0 891.4 765.5 896.3 768.5 907.2 786.9 930.6 779.1 932.9 772.4 920.0 766.0 917.8 745.4 921.7 737.7 920.0 726.0 917.4 724.6 911.6 724.0 902.5 728.5Z" fill="none" stroke="rgba(255,255,255,0.45)" stroke-width="0.7" stroke-linejoin="round"/>
<path d="M891.4 765.5 880.4 772.0 877.1 777.0 857.6 783.5 856.7 785.5 863.9 814.2 870.0 811.8 880.0 806.0 897.4 802.2 914.7 800.4 932.1 796.9 934.0 796.2 930.6 779.1 907.2 786.9 896.3 768.5Z" fill="none" stroke="rgba(255,255,255,0.45)" stroke-width="0.7" stroke-linejoin="round"/>
<path d="M857.6 783.5 877.1 777.0 880.4 772.0 891.4 765.5 891.6 764.0 891.3 762.2 902.5 728.5 872.5 728.5 871.0 726.4 844.0 733.1 832.0 751.1 835.2 757.6 835.8 757.8Z" fill="none" stroke="rgba(255,255,255,0.45)" stroke-width="0.7" stroke-linejoin="round"/>
<path d="M870.4 721.8 865.9 713.2 861.1 709.3 839.7 718.2 832.9 713.2 825.3 715.6 810.3 708.2 798.6 727.6 799.2 729.1 820.6 743.0 821.6 744.7 832.0 751.1 844.0 733.1 871.0 726.4Z" fill="none" stroke="rgba(255,255,255,0.45)" stroke-width="0.7" stroke-linejoin="round"/>
<path d="M809.3 704.2 795.0 697.7 778.2 705.3 777.6 705.1 744.5 727.1 744.3 730.7 758.1 737.6 766.8 762.5 779.3 762.5 788.5 756.0 797.1 759.1 821.6 744.7 820.6 743.0 799.2 729.1 798.6 727.6 810.3 708.2Z" fill="none" stroke="rgba(255,255,255,0.45)" stroke-width="0.7" stroke-linejoin="round"/>
<path d="M821.5 778.2 835.2 757.6 832.0 751.1 821.6 744.7 797.1 759.1 788.5 756.0 779.3 762.5 766.8 762.5 757.6 773.7 759.7 780.2 774.6 791.4 780.0 792.2 783.2 790.6 786.5 785.1 804.4 776.8 814.7 780.5Z" fill="none" stroke="rgba(255,255,255,0.45)" stroke-width="0.7" stroke-linejoin="round"/>
<path d="M835.8 757.8 835.2 757.6 821.5 778.2 814.7 780.5 804.4 776.8 786.5 785.1 783.2 790.6 780.0 792.2 780.0 818.8 783.3 817.7 796.7 819.3 810.0 824.3 821.7 826.0 838.3 822.7 855.0 817.7 863.9 814.2 856.7 785.5 857.6 783.5Z" fill="none" stroke="rgba(255,255,255,0.45)" stroke-width="0.7" stroke-linejoin="round"/>
<path d="M747.6 798.3 744.0 799.8 731.5 797.5 730.3 798.0 728.2 821.2 728.3 821.0 732.8 823.2 748.4 814.9 764.5 825.4 773.3 821.0 780.0 818.8 780.0 792.2 774.6 791.4 759.7 780.2Z" fill="none" stroke="rgba(255,255,255,0.45)" stroke-width="0.7" stroke-linejoin="round"/>
<path d="M748.4 814.9 732.8 823.2 735.0 824.3 741.7 829.3 746.7 831.0 753.3 827.7 763.3 826.0 764.5 825.4Z" fill="none" stroke="rgba(255,255,255,0.45)" stroke-width="0.7" stroke-linejoin="round"/>
<path d="M701.0 813.7 698.6 813.9 697.2 818.7 697.5 818.3 702.5 815.0 704.5 816.0 707.0 821.4 707.8 828.0 704.5 836.2 698.8 843.5 692.3 850.1 696.4 858.2 699.6 866.4 702.9 872.1 707.0 871.3 711.1 865.6 716.0 859.9 720.9 853.3 726.6 850.9 724.2 847.6 722.5 839.4 724.2 829.6 725.8 824.7 727.3 822.4Z" fill="none" stroke="rgba(255,255,255,0.45)" stroke-width="0.7" stroke-linejoin="round"/>
<path d="M694.3 806.2 698.6 813.9 701.0 813.7 727.3 822.4 728.2 821.2 730.3 798.0 726.1 797.1 716.7 789.3 712.4 780.8 694.0 792.3 695.0 803.0Z" fill="none" stroke="rgba(255,255,255,0.45)" stroke-width="0.7" stroke-linejoin="round"/>
<path d="M758.1 737.6 744.3 730.7 737.7 736.1 734.1 736.3 702.4 760.8 704.1 763.9 711.5 769.9 712.4 780.8 716.7 789.3 726.1 797.1 730.3 798.0 731.5 797.5 744.0 799.8 747.6 798.3 759.7 780.2 757.6 773.7 766.8 762.5Z" fill="none" stroke="rgba(255,255,255,0.45)" stroke-width="0.7" stroke-linejoin="round"/>
<path d="M711.5 769.9 704.1 763.9 702.4 760.8 694.4 754.8 669.7 768.1 671.9 780.2 667.5 790.5 653.1 799.1 670.0 816.0 670.0 834.2 678.3 835.8 683.3 831.7 686.7 828.3 692.5 825.0 697.2 818.7 698.6 813.9 694.3 806.2 695.0 803.0 694.0 792.3 712.4 780.8Z" fill="none" stroke="rgba(255,255,255,0.45)" stroke-width="0.7" stroke-linejoin="round"/>
<path d="M670.0 816.0 653.1 799.1 650.0 799.6 636.2 793.6 625.4 794.8 619.5 808.6 604.8 814.2 592.2 828.0 581.8 826.7 570.7 831.4 565.3 830.7 549.9 846.1 555.5 850.5 558.5 856.5 563.0 861.0 570.5 861.7 582.5 859.5 593.0 856.5 602.0 855.0 611.0 852.0 617.5 849.4 622.5 845.0 628.3 838.3 636.7 831.7 643.3 826.7 648.3 825.0 655.0 826.7 661.7 829.2 670.0 834.2Z" fill="none" stroke="rgba(255,255,255,0.45)" stroke-width="0.7" stroke-linejoin="round"/>
<path d="M625.4 794.8 619.5 787.5 581.5 787.5 581.1 789.5 578.2 794.4 549.4 808.8 549.7 811.3 565.3 830.7 570.7 831.4 581.8 826.7 592.2 828.0 604.8 814.2 619.5 808.6Z" fill="none" stroke="rgba(255,255,255,0.45)" stroke-width="0.7" stroke-linejoin="round"/>
<path d="M635.7 752.6 631.4 750.5 615.7 761.1 619.5 787.5 625.4 794.8 636.2 793.6 650.0 799.6 653.1 799.1 667.5 790.5 671.9 780.2 669.7 768.1 664.6 765.1 658.4 755.8Z" fill="none" stroke="rgba(255,255,255,0.45)" stroke-width="0.7" stroke-linejoin="round"/>
<path d="M602.5 733.5 591.8 736.4 585.6 761.0 615.5 761.0 615.7 761.1 631.4 750.5 632.1 734.5 632.2 734.2 631.4 725.1 628.9 720.8 612.8 708.7 606.2 706.7 603.9 731.7Z" fill="none" stroke="rgba(255,255,255,0.45)" stroke-width="0.7" stroke-linejoin="round"/>
<path d="M632.2 734.2 632.1 734.5 631.4 750.5 635.7 752.6 658.4 755.8 667.0 729.9 668.3 728.6 662.5 713.5 656.1 709.4 644.8 690.6 643.1 692.4 628.9 720.8 631.4 725.1Z" fill="none" stroke="rgba(255,255,255,0.45)" stroke-width="0.7" stroke-linejoin="round"/>
<path d="M684.5 691.5 662.5 713.5 668.3 728.6 667.0 729.9 658.4 755.8 664.6 765.1 669.7 768.1 694.4 754.8 702.4 760.8 734.1 736.3 707.2 727.7 706.1 725.5 713.4 704.9 702.7 687.2 690.0 691.9 685.0 691.3Z" fill="none" stroke="rgba(255,255,255,0.45)" stroke-width="0.7" stroke-linejoin="round"/>
<path d="M772.4 643.5 771.7 643.0 760.9 646.2 751.4 657.3 728.6 652.7 715.5 658.4 707.5 668.5 708.5 677.8 702.7 687.2 713.4 704.9 706.1 725.5 707.2 727.7 734.1 736.3 737.7 736.1 744.3 730.7 744.5 727.1 777.6 705.1 778.2 705.3 795.0 697.7 795.0 677.1 794.3 675.9 787.0 672.1 780.3 652.0Z" fill="none" stroke="rgba(255,255,255,0.45)" stroke-width="0.7" stroke-linejoin="round"/>
<path d="M751.4 657.3 760.9 646.2 742.0 627.8 725.5 624.9 722.6 622.9 708.3 626.0 707.6 625.8 681.9 648.0 707.5 668.5 715.5 658.4 728.6 652.7Z" fill="none" stroke="rgba(255,255,255,0.45)" stroke-width="0.7" stroke-linejoin="round"/>
<path d="M657.4 618.9 665.3 634.2 672.4 639.0 678.9 647.8 681.9 648.0 707.6 625.8 699.2 615.1 687.2 610.6 683.1 606.0 660.0 601.9 658.7 603.5Z" fill="none" stroke="rgba(255,255,255,0.45)" stroke-width="0.7" stroke-linejoin="round"/>
<path d="M631.3 629.9 629.8 651.2 630.8 651.1 666.7 661.7 669.8 660.2 678.9 647.8 672.4 639.0 665.3 634.2 657.4 618.9 658.7 603.5 633.8 603.5 623.6 617.0Z" fill="none" stroke="rgba(255,255,255,0.45)" stroke-width="0.7" stroke-linejoin="round"/>
<path d="M644.8 687.4 644.8 690.6 656.1 709.4 662.5 713.5 684.5 691.5 685.0 691.3 690.0 691.9 702.7 687.2 708.5 677.8 707.5 668.5 681.9 648.0 678.9 647.8 669.8 660.2 666.7 661.7 630.8 651.1 629.8 651.2 628.6 652.4 629.9 674.6Z" fill="none" stroke="rgba(255,255,255,0.45)" stroke-width="0.7" stroke-linejoin="round"/>
<path d="M612.8 708.7 628.9 720.8 643.1 692.4 644.8 690.6 644.8 687.4 629.9 674.6 605.3 688.6 602.0 702.0 606.2 706.7Z" fill="none" stroke="rgba(255,255,255,0.45)" stroke-width="0.7" stroke-linejoin="round"/>
<path d="M586.6 663.2 605.3 688.6 629.9 674.6 628.6 652.4 602.2 648.1 600.3 648.5 586.6 663.0Z" fill="none" stroke="rgba(255,255,255,0.45)" stroke-width="0.7" stroke-linejoin="round"/>
<path d="M592.3 636.8 600.3 648.5 602.2 648.1 628.6 652.4 629.8 651.2 631.3 629.9 623.6 617.0 611.9 615.1 597.9 604.6 593.7 610.5 565.0 625.7 565.0 627.7Z" fill="none" stroke="rgba(255,255,255,0.45)" stroke-width="0.7" stroke-linejoin="round"/>
<path d="M533.3 650.5 544.9 664.4 544.9 665.2 528.7 687.0 533.8 702.5 555.8 702.5 559.9 708.3 584.1 711.3 594.2 703.9 602.0 702.0 605.3 688.6 586.6 663.2 586.6 663.0 600.3 648.5 592.3 636.8 565.0 627.7 564.5 628.7 539.3 641.4Z" fill="none" stroke="rgba(255,255,255,0.45)" stroke-width="0.7" stroke-linejoin="round"/>
<path d="M522.5 717.3 522.2 721.5 520.6 724.9 523.1 742.9 510.8 755.2 511.2 763.5 524.6 781.4 523.8 788.3 528.2 794.5 542.7 800.7 549.4 808.8 578.2 794.4 581.1 789.5 581.5 787.5 619.5 787.5 615.7 761.1 615.5 761.0 585.6 761.0 591.8 736.4 602.5 733.5 603.9 731.7 606.2 706.7 602.0 702.0 594.2 703.9 584.1 711.3 559.9 708.3 555.8 702.5 533.8 702.5Z" fill="none" stroke="rgba(255,255,255,0.45)" stroke-width="0.7" stroke-linejoin="round"/>
<path d="M527.5 614.8 517.3 625.3 501.8 624.3 498.0 629.9 496.5 644.0 517.3 653.9 527.9 650.0 533.3 650.5 539.3 641.4 564.5 628.7 565.0 627.7 565.0 625.7 558.8 614.3 552.5 608.2 542.9 610.3 534.7 615.2Z" fill="none" stroke="rgba(255,255,255,0.45)" stroke-width="0.7" stroke-linejoin="round"/>
<path d="M481.0 657.9 473.8 679.8 488.4 694.4 488.6 695.0 494.0 695.9 522.5 717.3 533.8 702.5 528.7 687.0 544.9 665.2 544.9 664.4 533.3 650.5 527.9 650.0 517.3 653.9 496.5 644.0 486.8 649.9 485.1 654.8Z" fill="none" stroke="rgba(255,255,255,0.45)" stroke-width="0.7" stroke-linejoin="round"/>
<path d="M455.3 661.6 463.3 677.7 473.8 679.8 481.0 657.9 485.1 654.8 486.8 649.9 464.5 632.7 454.6 655.2 455.8 658.7Z" fill="none" stroke="rgba(255,255,255,0.45)" stroke-width="0.7" stroke-linejoin="round"/>
<path d="M408.1 654.4 403.9 664.9 416.1 677.1 430.0 671.5 436.6 674.1 455.3 661.6 455.8 658.7 454.6 655.2 464.5 632.7 464.2 631.4 452.0 624.6 435.8 636.8 429.5 635.1 420.0 635.5 407.5 634.5 397.5 633.0 392.9 631.6Z" fill="none" stroke="rgba(255,255,255,0.45)" stroke-width="0.7" stroke-linejoin="round"/>
<path d="M435.8 636.8 452.0 624.6 450.6 621.0 442.5 621.0 430.0 620.5 422.5 622.5 421.0 626.0 427.5 628.8 432.5 631.0 431.0 635.0 429.5 635.1ZM445.7 614.6 439.6 612.7 442.5 614.5 447.2 616.1Z" fill="none" stroke="rgba(255,255,255,0.45)" stroke-width="0.7" stroke-linejoin="round"/>
<path d="M347.2 653.5 342.5 657.8 342.5 669.2 344.1 672.4 342.5 673.5 342.5 676.4 346.5 677.5 359.2 690.2 381.4 685.7 381.5 685.8 387.8 695.2 390.0 696.0 413.7 691.3 416.1 677.1 403.9 664.9 408.1 654.4 392.9 631.6 391.0 631.0 387.5 628.8 390.0 626.0 385.0 625.0 380.0 626.5 381.0 630.0 375.0 629.5 367.5 628.0 365.0 628.1 365.0 653.5ZM375.3 619.8 376.5 620.0 378.7 619.4Z" fill="none" stroke="rgba(255,255,255,0.45)" stroke-width="0.7" stroke-linejoin="round"/>
<path d="M339.6 623.1 336.7 625.0 330.0 627.5 322.5 630.0 321.7 633.3 319.2 640.0 318.3 642.5 319.5 641.3 317.9 646.2 314.6 656.0 311.4 669.1 312.2 672.4 327.7 670.7 342.4 669.1 342.5 669.2 342.5 657.8 347.2 653.5 365.0 653.5 365.0 628.1 357.5 628.5 350.0 628.0 340.0 629.5 332.5 632.5 327.5 637.5 322.5 644.2 321.7 639.4 328.3 635.0 335.0 630.8 339.2 627.5 342.7 624.0ZM342.5 676.4 342.5 673.5 337.5 677.3 335.4 679.4ZM310.8 636.3 309.5 634.4 305.0 633.6 301.0 634.2 299.5 636.5 303.0 638.2 308.5 638.0ZM311.5 652.8 309.5 653.3 310.0 654.6 312.0 654.2Z" fill="none" stroke="rgba(255,255,255,0.45)" stroke-width="0.7" stroke-linejoin="round"/>
<path d="M436.6 674.1 430.0 671.5 416.1 677.1 413.7 691.3 420.6 699.8 434.8 702.2 442.4 709.0 449.5 711.3 456.1 703.8 487.9 695.9 488.6 695.0 488.4 694.4 473.8 679.8 463.3 677.7 455.3 661.6Z" fill="none" stroke="rgba(255,255,255,0.45)" stroke-width="0.7" stroke-linejoin="round"/>
<path d="M373.9 727.4 375.7 729.2 381.5 742.9 382.9 743.5 403.2 743.5 414.6 734.8 410.0 721.0 420.6 699.8 413.7 691.3 390.0 696.0 387.8 695.2 381.5 685.8 381.4 685.7 359.2 690.2 357.1 700.3 364.1 714.3 370.9 718.6Z" fill="none" stroke="rgba(255,255,255,0.45)" stroke-width="0.7" stroke-linejoin="round"/>
<path d="M359.2 690.2 346.5 677.5 342.5 676.4 335.4 679.4 332.6 682.2 337.5 687.1 339.2 693.6 337.5 700.2 344.1 705.1 343.1 702.3 346.1 706.4 335.9 710.4 333.9 718.6 339.0 723.7 346.1 726.8 345.1 727.8 331.8 727.8 327.7 724.8 324.7 715.6 319.5 714.5 318.5 718.6 321.6 725.8 320.6 728.9 312.4 731.9 313.4 734.0 323.6 739.1 329.8 741.1 342.0 745.2 346.4 751.0 371.6 751.0 381.5 742.9 375.7 729.2 373.9 727.4 370.9 718.6 364.1 714.3 357.1 700.3Z" fill="none" stroke="rgba(255,255,255,0.45)" stroke-width="0.7" stroke-linejoin="round"/>
<path d="M416.8 735.2 433.9 745.5 446.9 742.1 453.8 720.8 449.5 711.3 442.4 709.0 434.8 702.2 420.6 699.8 410.0 721.0 414.6 734.8Z" fill="none" stroke="rgba(255,255,255,0.45)" stroke-width="0.7" stroke-linejoin="round"/>
<path d="M446.9 742.1 468.2 759.0 479.6 740.0 492.3 738.2 501.3 751.8 510.8 755.2 523.1 742.9 520.6 724.9 522.2 721.5 522.5 717.3 494.0 695.9 488.6 695.0 487.9 695.9 456.1 703.8 449.5 711.3 453.8 720.8Z" fill="none" stroke="rgba(255,255,255,0.45)" stroke-width="0.7" stroke-linejoin="round"/>
<path d="M391.0 781.7 409.5 772.5 403.2 743.5 382.9 743.5 381.5 742.9 371.6 751.0 346.4 751.0 348.2 753.4 349.2 759.5 341.0 766.7 346.1 769.8 350.2 777.9 354.7 784.0 366.6 778.9 390.9 782.0Z" fill="none" stroke="rgba(255,255,255,0.45)" stroke-width="0.7" stroke-linejoin="round"/>
<path d="M424.3 783.9 430.0 801.0 437.5 804.8 445.5 801.7 449.7 787.8 441.1 770.6 467.7 761.8 468.5 760.5 468.2 759.0 446.9 742.1 433.9 745.5 416.8 735.2 414.6 734.8 403.2 743.5 409.5 772.5 411.9 773.0Z" fill="none" stroke="rgba(255,255,255,0.45)" stroke-width="0.7" stroke-linejoin="round"/>
<path d="M480.5 765.1 490.6 775.1 493.4 787.5 500.7 792.1 523.8 788.3 524.6 781.4 511.2 763.5 510.8 755.2 501.3 751.8 492.3 738.2 479.6 740.0 468.2 759.0 468.5 760.5Z" fill="none" stroke="rgba(255,255,255,0.45)" stroke-width="0.7" stroke-linejoin="round"/>
<path d="M445.5 801.7 449.5 802.5 473.1 795.1 475.6 796.0 493.4 787.5 490.6 775.1 480.5 765.1 468.5 760.5 467.7 761.8 441.1 770.6 449.7 787.8Z" fill="none" stroke="rgba(255,255,255,0.45)" stroke-width="0.7" stroke-linejoin="round"/>
<path d="M354.7 784.0 356.3 786.1 360.4 792.2 348.2 796.3 347.1 801.5 356.3 800.4 380.9 803.5 385.0 807.6 372.7 812.7 354.3 813.7 350.2 816.8 362.5 817.8 376.8 813.7 374.8 822.9 380.9 820.9 389.1 810.7 399.3 814.7 409.5 820.9 417.7 827.0 421.8 837.2 424.4 838.9 437.5 806.2 437.5 804.8 430.0 801.0 424.3 783.9 411.9 773.0 409.5 772.5 391.0 781.7 390.9 782.0 366.6 778.9Z" fill="none" stroke="rgba(255,255,255,0.45)" stroke-width="0.7" stroke-linejoin="round"/>
<path d="M542.7 800.7 528.2 794.5 523.8 788.3 500.7 792.1 493.4 787.5 475.6 796.0 473.1 795.1 449.5 802.5 445.5 801.7 437.5 804.8 437.5 806.2 424.4 838.9 430.0 842.4 438.1 847.5 440.0 850.5 449.0 849.0 459.5 846.0 470.0 844.5 476.0 840.0 477.5 829.5 480.5 819.0 485.0 816.7 494.0 818.3 503.0 819.7 512.0 822.0 521.0 826.5 530.0 832.5 539.0 838.5 548.0 844.5 549.9 846.1 565.3 830.7 549.7 811.3 549.4 808.8Z" fill="none" stroke="rgba(255,255,255,0.45)" stroke-width="0.7" stroke-linejoin="round"/>
<path d="M394.3 571.4 403.0 599.7 410.0 600.5 425.0 606.0 435.0 610.0 439.6 612.7 445.7 614.6 447.2 616.1 450.0 617.0 450.7 617.1 464.1 603.4 465.2 598.6 457.5 598.0 445.0 596.2 433.8 593.8 425.0 590.5 415.0 585.0 406.2 578.8 400.0 573.0 398.0 569.0Z" fill="none" stroke="rgba(255,235,240,0.85)" stroke-width="1.5" stroke-linejoin="round"/>
<path d="M395.0 552.3 388.3 550.8 380.0 551.5 373.3 548.0 368.3 543.3 364.0 543.3 359.2 544.2 356.7 547.5 350.0 547.8 342.5 548.5 339.0 550.5 334.5 554.0 333.3 557.3 337.0 560.5 341.0 564.0 341.7 570.0 340.8 576.7 336.0 578.5 330.8 582.0 329.3 592.0 327.0 599.0 322.0 602.5 316.7 608.3 316.7 613.0 320.0 614.5 335.0 615.0 338.1 615.3 345.0 615.8 346.2 619.0 341.7 621.7 339.6 623.1 336.7 625.0 330.0 627.5 322.5 630.0 321.7 633.3 319.2 640.0 318.3 642.5 319.5 641.3 317.9 646.2 314.6 656.0 311.4 669.1 312.2 672.4 327.7 670.7 342.4 669.1 342.5 669.2 344.1 672.4 342.5 673.5 337.5 677.3 335.4 679.4 342.5 676.4 346.5 677.5 359.2 690.2 381.4 685.7 381.5 685.8 387.8 695.2 390.0 696.0 413.7 691.3 416.1 677.1 403.9 664.9 408.1 654.4 392.9 631.6 391.0 631.0 387.5 628.8 390.0 626.0 385.0 625.0 380.0 626.5 381.0 630.0 375.0 629.5 367.5 628.0 365.0 628.1 357.5 628.5 350.0 628.0 340.0 629.5 332.5 632.5 327.5 637.5 322.5 644.2 321.7 639.4 328.3 635.0 335.0 630.8 339.2 627.5 342.7 624.0 343.3 623.3 349.2 619.2 353.3 616.7 361.7 615.0 370.0 608.3 372.5 603.3 377.5 599.5 395.0 598.8 403.0 599.7 394.3 571.4 398.0 569.0 397.5 568.0 396.7 555.8ZM373.5 617.5 374.0 619.5 375.3 619.8 376.5 620.0 378.7 619.4 380.0 619.0 379.5 617.0 376.0 616.3ZM301.0 634.2 299.5 636.5 303.0 638.2 308.5 638.0 310.8 636.3 309.5 634.4 305.0 633.6ZM312.0 654.2 311.5 652.8 309.5 653.3 310.0 654.6Z" fill="none" stroke="rgba(255,235,240,0.85)" stroke-width="1.5" stroke-linejoin="round"/>
<path d="M413.7 691.3 390.0 696.0 387.8 695.2 381.5 685.8 381.4 685.7 359.2 690.2 346.5 677.5 342.5 676.4 335.4 679.4 332.6 682.2 337.5 687.1 339.2 693.6 337.5 700.2 344.1 705.1 343.1 702.3 346.1 706.4 335.9 710.4 333.9 718.6 339.0 723.7 346.1 726.8 345.1 727.8 331.8 727.8 327.7 724.8 324.7 715.6 319.5 714.5 318.5 718.6 321.6 725.8 320.6 728.9 312.4 731.9 313.4 734.0 323.6 739.1 329.8 741.1 342.0 745.2 346.4 751.0 348.2 753.4 349.2 759.5 341.0 766.7 346.1 769.8 350.2 777.9 354.7 784.0 356.3 786.1 360.4 792.2 348.2 796.3 347.1 801.5 356.3 800.4 380.9 803.5 385.0 807.6 372.7 812.7 354.3 813.7 350.2 816.8 362.5 817.8 376.8 813.7 374.8 822.9 380.9 820.9 389.1 810.7 399.3 814.7 409.5 820.9 417.7 827.0 421.8 837.2 424.4 838.9 437.5 806.2 437.5 804.8 445.5 801.7 449.7 787.8 441.1 770.6 467.7 761.8 468.5 760.5 468.2 759.0 479.6 740.0 492.3 738.2 501.3 751.8 510.8 755.2 523.1 742.9 520.6 724.9 522.2 721.5 522.5 717.3 494.0 695.9 488.6 695.0 488.4 694.4 473.8 679.8 463.3 677.7 455.3 661.6 436.6 674.1 430.0 671.5 416.1 677.1Z" fill="none" stroke="rgba(255,235,240,0.85)" stroke-width="1.5" stroke-linejoin="round"/>
<path d="M517.5 602.2 517.3 601.3 502.0 603.0 497.6 601.7 492.0 600.0 481.0 597.2 480.0 597.0 470.0 599.0 465.2 598.6 464.1 603.4 450.7 617.1 465.0 618.8 455.0 621.0 450.6 621.0 442.5 621.0 430.0 620.5 422.5 622.5 421.0 626.0 427.5 628.8 432.5 631.0 431.0 635.0 429.5 635.1 420.0 635.5 407.5 634.5 397.5 633.0 392.9 631.6 408.1 654.4 403.9 664.9 416.1 677.1 430.0 671.5 436.6 674.1 455.3 661.6 463.3 677.7 473.8 679.8 488.4 694.4 488.6 695.0 494.0 695.9 522.5 717.3 533.8 702.5 528.7 687.0 544.9 665.2 544.9 664.4 533.3 650.5 539.3 641.4 564.5 628.7 565.0 627.7 565.0 625.7 558.8 614.3 552.5 608.2 542.9 610.3 534.7 615.2 527.5 614.8ZM447.2 616.1 445.7 614.6 439.6 612.7 442.5 614.5Z" fill="none" stroke="rgba(255,235,240,0.85)" stroke-width="1.5" stroke-linejoin="round"/>
<path d="M544.9 664.4 544.9 665.2 528.7 687.0 533.8 702.5 522.5 717.3 522.2 721.5 520.6 724.9 523.1 742.9 510.8 755.2 511.2 763.5 524.6 781.4 523.8 788.3 528.2 794.5 542.7 800.7 549.4 808.8 549.7 811.3 565.3 830.7 570.7 831.4 581.8 826.7 592.2 828.0 604.8 814.2 619.5 808.6 625.4 794.8 619.5 787.5 615.7 761.1 615.5 761.0 585.6 761.0 591.8 736.4 602.5 733.5 603.9 731.7 606.2 706.7 602.0 702.0 605.3 688.6 586.6 663.2 586.6 663.0 600.3 648.5 592.3 636.8 565.0 627.7 564.5 628.7 539.3 641.4 533.3 650.5Z" fill="none" stroke="rgba(255,235,240,0.85)" stroke-width="1.5" stroke-linejoin="round"/>
<path d="M524.6 781.4 511.2 763.5 510.8 755.2 501.3 751.8 492.3 738.2 479.6 740.0 468.2 759.0 468.5 760.5 467.7 761.8 441.1 770.6 449.7 787.8 445.5 801.7 437.5 804.8 437.5 806.2 424.4 838.9 430.0 842.4 438.1 847.5 440.0 850.5 449.0 849.0 459.5 846.0 470.0 844.5 476.0 840.0 477.5 829.5 480.5 819.0 485.0 816.7 494.0 818.3 503.0 819.7 512.0 822.0 521.0 826.5 530.0 832.5 539.0 838.5 548.0 844.5 549.9 846.1 555.5 850.5 558.5 856.5 563.0 861.0 570.5 861.7 582.5 859.5 593.0 856.5 602.0 855.0 611.0 852.0 617.5 849.4 622.5 845.0 628.3 838.3 636.7 831.7 643.3 826.7 648.3 825.0 655.0 826.7 661.7 829.2 670.0 834.2 678.3 835.8 683.3 831.7 686.7 828.3 692.5 825.0 697.2 818.7 697.5 818.3 702.5 815.0 704.5 816.0 707.0 821.4 707.8 828.0 704.5 836.2 698.8 843.5 692.3 850.1 696.4 858.2 699.6 866.4 702.9 872.1 707.0 871.3 711.1 865.6 716.0 859.9 720.9 853.3 726.6 850.9 724.2 847.6 722.5 839.4 724.2 829.6 725.8 824.7 727.3 822.4 728.2 821.2 730.3 798.0 731.5 797.5 744.0 799.8 747.6 798.3 759.7 780.2 757.6 773.7 766.8 762.5 758.1 737.6 744.3 730.7 737.7 736.1 734.1 736.3 702.4 760.8 694.4 754.8 669.7 768.1 671.9 780.2 667.5 790.5 653.1 799.1 650.0 799.6 636.2 793.6 625.4 794.8 619.5 808.6 604.8 814.2 592.2 828.0 581.8 826.7 570.7 831.4 565.3 830.7 549.7 811.3 549.4 808.8 542.7 800.7 528.2 794.5 523.8 788.3Z" fill="none" stroke="rgba(255,235,240,0.85)" stroke-width="1.5" stroke-linejoin="round"/>
<path d="M737.7 736.1 744.3 730.7 744.5 727.1 777.6 705.1 778.2 705.3 795.0 697.7 795.0 677.1 794.3 675.9 787.0 672.1 780.3 652.0 772.4 643.5 771.7 643.0 760.9 646.2 751.4 657.3 728.6 652.7 715.5 658.4 707.5 668.5 681.9 648.0 678.9 647.8 669.8 660.2 666.7 661.7 630.8 651.1 629.8 651.2 628.6 652.4 602.2 648.1 600.3 648.5 586.6 663.0 586.6 663.2 605.3 688.6 602.0 702.0 606.2 706.7 603.9 731.7 602.5 733.5 591.8 736.4 585.6 761.0 615.5 761.0 615.7 761.1 619.5 787.5 625.4 794.8 636.2 793.6 650.0 799.6 653.1 799.1 667.5 790.5 671.9 780.2 669.7 768.1 694.4 754.8 702.4 760.8 734.1 736.3Z" fill="none" stroke="rgba(255,235,240,0.85)" stroke-width="1.5" stroke-linejoin="round"/>
<path d="M558.0 575.0 548.5 580.7 548.0 581.0 536.0 587.0 523.0 592.0 520.0 601.0 517.3 601.3 517.5 602.2 527.5 614.8 534.7 615.2 542.9 610.3 552.5 608.2 558.8 614.3 565.0 625.7 565.0 627.7 592.3 636.8 600.3 648.5 602.2 648.1 628.6 652.4 629.8 651.2 630.8 651.1 666.7 661.7 669.8 660.2 678.9 647.8 681.9 648.0 707.5 668.5 715.5 658.4 728.6 652.7 751.4 657.3 760.9 646.2 742.0 627.8 725.5 624.9 722.6 622.9 729.3 596.3 721.7 594.2 711.7 596.7 703.3 588.3 702.0 581.0 696.0 575.0 682.0 579.0 673.6 575.6 672.0 575.0 666.0 569.0 664.0 560.0 659.0 558.0 652.0 562.0 640.0 564.0 636.5 563.8 624.0 563.0 610.0 562.0 596.0 561.0 580.0 565.0 578.8 565.4 568.0 569.0Z" fill="none" stroke="rgba(255,235,240,0.85)" stroke-width="1.5" stroke-linejoin="round"/>
<path d="M936.5 616.4 937.2 615.9 941.0 614.4 945.0 589.2 941.0 577.8 935.3 576.7 922.5 576.7 913.3 578.5 907.5 578.0 897.5 586.5 893.3 590.0 883.3 596.7 873.3 603.3 864.2 607.3 860.0 609.2 850.0 610.0 838.3 607.5 828.3 604.2 816.7 605.8 805.0 608.8 803.3 609.2 793.3 612.5 783.3 613.3 775.5 611.4 770.0 610.0 761.7 605.0 750.0 605.8 740.0 603.3 733.3 597.5 729.3 596.3 722.6 622.9 725.5 624.9 742.0 627.8 760.9 646.2 771.7 643.0 772.4 643.5 780.3 652.0 815.0 652.0 818.0 656.2 820.7 657.8 838.6 659.0 843.2 656.2 843.6 650.8 859.9 628.0 870.8 626.2 874.3 627.6 874.9 628.0 902.3 617.0 909.2 616.7 916.2 620.9Z" fill="none" stroke="rgba(255,235,240,0.85)" stroke-width="1.5" stroke-linejoin="round"/>
<path d="M937.2 615.9 936.5 616.4 916.2 620.9 909.2 616.7 902.3 617.0 874.9 628.0 874.3 627.6 870.8 626.2 859.9 628.0 843.6 650.8 843.2 656.2 838.6 659.0 820.7 657.8 818.0 656.2 815.0 652.0 780.3 652.0 787.0 672.1 794.3 675.9 795.0 677.1 795.0 697.7 809.3 704.2 819.9 688.9 824.8 689.2 837.4 684.5 838.1 683.5 862.5 683.5 874.8 671.2 886.7 685.5 894.1 689.6 915.8 682.4 920.6 685.4 929.1 685.7 947.2 673.4 965.2 693.3 972.5 694.3 976.4 689.2 991.9 681.0 1015.0 691.0 1019.6 690.4 1017.3 685.7 1015.5 677.1 1024.9 670.8 1025.9 670.1 1027.7 661.4 1033.0 660.0 1039.5 658.5 1035.0 653.5 1030.7 650.0 1023.3 644.5 1005.0 642.7 995.8 640.8 994.3 636.1 994.0 635.3 988.5 624.3 992.2 613.3 990.3 604.2 983.6 597.4 983.0 596.8 977.5 588.0 968.3 580.3 959.2 574.8 953.7 570.3 948.2 571.2 944.5 578.5 941.0 577.8 945.0 589.2 941.0 614.4Z" fill="none" stroke="rgba(255,235,240,0.85)" stroke-width="1.5" stroke-linejoin="round"/>
<path d="M915.8 682.4 894.1 689.6 886.7 685.5 874.8 671.2 862.5 683.5 838.1 683.5 837.4 684.5 824.8 689.2 819.9 688.9 809.3 704.2 795.0 697.7 778.2 705.3 777.6 705.1 744.5 727.1 744.3 730.7 758.1 737.6 766.8 762.5 779.3 762.5 788.5 756.0 797.1 759.1 821.6 744.7 832.0 751.1 844.0 733.1 871.0 726.4 872.5 728.5 902.5 728.5 911.6 724.0 917.4 724.6 920.0 726.0 921.7 737.7 934.8 750.8 962.2 744.4 968.4 745.9 969.2 752.5 994.0 767.4 996.7 784.0 1001.6 784.8 1015.5 783.0 1027.7 783.0 1031.2 790.0 1034.6 795.2 1039.8 788.3 1046.8 784.8 1052.0 779.6 1045.1 772.6 1043.3 762.2 1036.4 755.2 1029.9 750.1 1027.7 748.3 1031.2 737.9 1034.6 727.4 1029.4 725.7 1027.7 713.5 1024.2 703.1 1020.7 692.7 1019.6 690.4 1015.0 691.0 991.9 681.0 976.4 689.2 972.5 694.3 965.2 693.3 947.2 673.4 929.1 685.7 920.6 685.4Z" fill="none" stroke="rgba(255,235,240,0.85)" stroke-width="1.5" stroke-linejoin="round"/>
<path d="M968.4 745.9 962.2 744.4 934.8 750.8 921.7 737.7 920.0 726.0 917.4 724.6 911.6 724.0 902.5 728.5 872.5 728.5 871.0 726.4 844.0 733.1 832.0 751.1 821.6 744.7 797.1 759.1 788.5 756.0 779.3 762.5 766.8 762.5 757.6 773.7 759.7 780.2 747.6 798.3 744.0 799.8 731.5 797.5 730.3 798.0 728.2 821.2 728.3 821.0 732.8 823.2 735.0 824.3 741.7 829.3 746.7 831.0 753.3 827.7 763.3 826.0 764.5 825.4 773.3 821.0 780.0 818.8 783.3 817.7 796.7 819.3 810.0 824.3 821.7 826.0 838.3 822.7 855.0 817.7 863.9 814.2 870.0 811.8 880.0 806.0 897.4 802.2 914.7 800.4 932.1 796.9 934.0 796.2 946.0 791.7 954.7 791.7 958.2 795.2 966.9 790.0 972.1 784.8 984.2 783.0 991.2 783.0 996.7 784.0 994.0 767.4 969.2 752.5Z" fill="none" stroke="rgba(255,235,240,0.85)" stroke-width="1.5" stroke-linejoin="round"/>
<text transform="translate(340.5 586.3) scale(0.85 1)" class="lb" fill="#f4f1f3" stroke="rgba(40,10,20,0.22)">1.07</text>
<text transform="translate(374.5 567.8) scale(0.85 1)" class="lb" fill="#f4f1f3" stroke="rgba(40,10,20,0.22)">1.12</text>
<text transform="translate(369.0 598.1) scale(0.85 1)" class="lb" fill="#f4f1f3" stroke="rgba(40,10,20,0.22)">1.32</text>
<text transform="translate(423.6 598.1) scale(0.85 1)" class="lb" fill="#f4f1f3" stroke="rgba(40,10,20,0.22)">1.08</text>
<text transform="translate(463.7 616.3) scale(0.85 1)" class="lb" fill="#f4f1f3" stroke="rgba(40,10,20,0.22)">1.33</text>
<text transform="translate(487.0 623.0) scale(0.85 1)" class="lb" fill="#f4f1f3" stroke="rgba(40,10,20,0.22)">1.35</text>
<text transform="translate(513.5 617.8) scale(0.85 1)" class="lb" fill="#f4f1f3" stroke="rgba(40,10,20,0.22)">1.29</text>
<text transform="translate(538.5 598.8) scale(0.85 1)" class="lb" fill="#f4f1f3" stroke="rgba(40,10,20,0.22)">1.04</text>
<text transform="translate(566.0 583.8) scale(0.85 1)" class="lb" fill="#f4f1f3" stroke="rgba(40,10,20,0.22)">1.03</text>
<text transform="translate(570.0 604.0) scale(0.85 1)" class="lb" fill="#f4f1f3" stroke="rgba(40,10,20,0.22)">1.08</text>
<text transform="translate(610.4 589.8) scale(0.85 1)" class="lb" fill="#f4f1f3" stroke="rgba(40,10,20,0.22)">1.22</text>
<text transform="translate(654.8 582.8) scale(0.85 1)" class="lb" fill="#f4f1f3" stroke="rgba(40,10,20,0.22)">1.2</text>
<text transform="translate(697.0 603.3) scale(0.85 1)" class="lb" fill="#f4f1f3" stroke="rgba(40,10,20,0.22)">1.2</text>
<text transform="translate(755.0 624.3) scale(0.85 1)" class="lb" fill="#f4f1f3" stroke="rgba(40,10,20,0.22)">1.21</text>
<text transform="translate(796.5 633.8) scale(0.85 1)" class="lb" fill="#f4f1f3" stroke="rgba(40,10,20,0.22)">1.12</text>
<text transform="translate(844.0 620.3) scale(0.85 1)" class="lb" fill="#f4f1f3" stroke="rgba(40,10,20,0.22)">1.22</text>
<text transform="translate(884.0 612.1) scale(0.85 1)" class="lb" fill="#f4f1f3" stroke="rgba(40,10,20,0.22)">1.19</text>
<text transform="translate(919.5 598.8) scale(0.85 1)" class="lb" fill="#f4f1f3" stroke="rgba(40,10,20,0.22)">1.15</text>
<text transform="translate(957.4 596.8) scale(0.85 1)" class="lb" fill="#f4f1f3" stroke="rgba(40,10,20,0.22)">1.34</text>
<text transform="translate(970.0 629.3) scale(0.85 1)" class="lb" fill="#3a2529" stroke="rgba(255,240,242,0.45)">1.54</text>
<text transform="translate(1007.7 654.6) scale(0.85 1)" class="lb" fill="#3a2529" stroke="rgba(255,240,242,0.45)">1.54</text>
<text transform="translate(981.2 673.8) scale(0.85 1)" class="lb" fill="#3a2529" stroke="rgba(255,240,242,0.45)">2</text>
<text transform="translate(912.8 653.8) scale(0.85 1)" class="lb" fill="#3a2529" stroke="rgba(255,240,242,0.45)">1.45</text>
<text transform="translate(860.0 647.5) scale(0.85 1)" class="lb" fill="#f4f1f3" stroke="rgba(40,10,20,0.22)">1.11</text>
<text transform="translate(828.7 644.8) scale(0.85 1)" class="lb" fill="#f4f1f3" stroke="rgba(40,10,20,0.22)">1.11</text>
<text transform="translate(826.5 679.3) scale(0.85 1)" class="lb" fill="#f4f1f3" stroke="rgba(40,10,20,0.22)">1.24</text>
<text transform="translate(835.0 702.3) scale(0.85 1)" class="lb" fill="#f4f1f3" stroke="rgba(40,10,20,0.22)">1.21</text>
<text transform="translate(881.3 708.3) scale(0.85 1)" class="lb" fill="#3a2529" stroke="rgba(255,240,242,0.45)">1.48</text>
<text transform="translate(928.5 706.3) scale(0.85 1)" class="lb" fill="#3a2529" stroke="rgba(255,240,242,0.45)">2.02</text>
<text transform="translate(951.3 728.6) scale(0.85 1)" class="lb" fill="#3a2529" stroke="rgba(255,240,242,0.45)">2.02</text>
<text transform="translate(998.8 728.6) scale(0.85 1)" class="lb" fill="#3a2529" stroke="rgba(255,240,242,0.45)">1.8</text>
<text transform="translate(1023.8 777.3) scale(0.85 1)" class="lb" fill="#3a2529" stroke="rgba(255,240,242,0.45)">1.63</text>
<text transform="translate(961.3 782.3) scale(0.85 1)" class="lb" fill="#243650" stroke="rgba(255,240,242,0.45)">2.46</text>
<text transform="translate(943.8 761.1) scale(0.85 1)" class="lb" fill="#3a2529" stroke="rgba(255,240,242,0.45)">1.98</text>
<text transform="translate(913.0 761.1) scale(0.85 1)" class="lb" fill="#3a2529" stroke="rgba(255,240,242,0.45)">1.96</text>
<text transform="translate(893.8 792.3) scale(0.85 1)" class="lb" fill="#303236" stroke="rgba(255,240,242,0.45)">2.19</text>
<text transform="translate(872.5 756.1) scale(0.85 1)" class="lb" fill="#303236" stroke="rgba(255,240,242,0.45)">2.05</text>
<text transform="translate(832.5 729.8) scale(0.85 1)" class="lb" fill="#f4f1f3" stroke="rgba(40,10,20,0.22)">1.31</text>
<text transform="translate(783.3 738.8) scale(0.85 1)" class="lb" fill="#f4f1f3" stroke="rgba(40,10,20,0.22)">1.33</text>
<text transform="translate(790.7 774.8) scale(0.85 1)" class="lb" fill="#3a2529" stroke="rgba(255,240,242,0.45)">1.87</text>
<text transform="translate(821.3 801.1) scale(0.85 1)" class="lb" fill="#f4f1f3" stroke="rgba(40,10,20,0.22)">3.05</text>
<text transform="translate(754.5 812.6) scale(0.85 1)" class="lb" fill="#3a2529" stroke="rgba(255,240,242,0.45)">1.95</text>
<text transform="translate(745.3 826.7) scale(0.85 1)" class="lb" fill="#3a2529" stroke="rgba(255,240,242,0.45)">1.74</text>
<text transform="translate(709.5 846.3) scale(0.85 1)" class="lb" fill="#3a2529" stroke="rgba(255,240,242,0.45)">1.76</text>
<text transform="translate(710.1 802.9) scale(0.85 1)" class="lb" fill="#3a2529" stroke="rgba(255,240,242,0.45)">1.65</text>
<text transform="translate(737.2 771.5) scale(0.85 1)" class="lb" fill="#3a2529" stroke="rgba(255,240,242,0.45)">1.63</text>
<text transform="translate(683.0 796.8) scale(0.85 1)" class="lb" fill="#3a2529" stroke="rgba(255,240,242,0.45)">1.48</text>
<text transform="translate(611.5 832.6) scale(0.85 1)" class="lb" fill="#f4f1f3" stroke="rgba(40,10,20,0.22)">1.36</text>
<text transform="translate(589.8 812.6) scale(0.85 1)" class="lb" fill="#f4f1f3" stroke="rgba(40,10,20,0.22)">1.29</text>
<text transform="translate(646.2 771.5) scale(0.85 1)" class="lb" fill="#f4f1f3" stroke="rgba(40,10,20,0.22)">1.43</text>
<text transform="translate(613.7 743.3) scale(0.85 1)" class="lb" fill="#f4f1f3" stroke="rgba(40,10,20,0.22)">1.42</text>
<text transform="translate(647.8 727.1) scale(0.85 1)" class="lb" fill="#f4f1f3" stroke="rgba(40,10,20,0.22)">1.32</text>
<text transform="translate(691.7 735.7) scale(0.85 1)" class="lb" fill="#f4f1f3" stroke="rgba(40,10,20,0.22)">1.33</text>
<text transform="translate(748.0 686.8) scale(0.85 1)" class="lb" fill="#f4f1f3" stroke="rgba(40,10,20,0.22)">1.2</text>
<text transform="translate(719.8 646.5) scale(0.85 1)" class="lb" fill="#f4f1f3" stroke="rgba(40,10,20,0.22)">1.18</text>
<text transform="translate(687.3 629.2) scale(0.85 1)" class="lb" fill="#f4f1f3" stroke="rgba(40,10,20,0.22)">1.15</text>
<text transform="translate(647.3 637.1) scale(0.85 1)" class="lb" fill="#f4f1f3" stroke="rgba(40,10,20,0.22)">1.17</text>
<text transform="translate(669.0 682.6) scale(0.85 1)" class="lb" fill="#f4f1f3" stroke="rgba(40,10,20,0.22)">1.16</text>
<text transform="translate(624.5 699.6) scale(0.85 1)" class="lb" fill="#f4f1f3" stroke="rgba(40,10,20,0.22)">1.14</text>
<text transform="translate(608.9 672.2) scale(0.85 1)" class="lb" fill="#f4f1f3" stroke="rgba(40,10,20,0.22)">1.02</text>
<text transform="translate(600.7 630.6) scale(0.85 1)" class="lb" fill="#f4f1f3" stroke="rgba(40,10,20,0.22)">1.18</text>
<text transform="translate(565.0 674.4) scale(0.85 1)" class="lb" fill="#f4f1f3" stroke="rgba(40,10,20,0.22)">1.06</text>
<text transform="translate(562.8 763.9) scale(0.85 1)" class="lb" fill="#3a2529" stroke="rgba(255,240,242,0.45)">1.47</text>
<text transform="translate(528.7 632.6) scale(0.85 1)" class="lb" fill="#f4f1f3" stroke="rgba(40,10,20,0.22)">1.17</text>
<text transform="translate(506.0 682.5) scale(0.85 1)" class="lb" fill="#f4f1f3" stroke="rgba(40,10,20,0.22)">1.05</text>
<text transform="translate(469.5 654.3) scale(0.85 1)" class="lb" fill="#f4f1f3" stroke="rgba(40,10,20,0.22)">1.18</text>
<text transform="translate(428.9 651.4) scale(0.85 1)" class="lb" fill="#f4f1f3" stroke="rgba(40,10,20,0.22)">1.27</text>
<text transform="translate(435.2 627.7) scale(0.85 1)" class="lb" fill="#f4f1f3" stroke="rgba(40,10,20,0.22)">1.29</text>
<text transform="translate(381.8 670.5) scale(0.85 1)" class="lb" fill="#f4f1f3" stroke="rgba(40,10,20,0.22)">1.18</text>
<text transform="translate(340.6 648.8) scale(0.85 1)" class="lb" fill="#f4f1f3" stroke="rgba(40,10,20,0.22)">1.13</text>
<text transform="translate(447.4 694.7) scale(0.85 1)" class="lb" fill="#f4f1f3" stroke="rgba(40,10,20,0.22)">1.09</text>
<text transform="translate(387.9 717.7) scale(0.85 1)" class="lb" fill="#f4f1f3" stroke="rgba(40,10,20,0.22)">1.36</text>
<text transform="translate(354.6 729.0) scale(0.85 1)" class="lb" fill="#f4f1f3" stroke="rgba(40,10,20,0.22)">1.06</text>
<text transform="translate(435.8 730.4) scale(0.85 1)" class="lb" fill="#f4f1f3" stroke="rgba(40,10,20,0.22)">1.14</text>
<text transform="translate(486.6 730.4) scale(0.85 1)" class="lb" fill="#f4f1f3" stroke="rgba(40,10,20,0.22)">1.37</text>
<text transform="translate(379.0 768.2) scale(0.85 1)" class="lb" fill="#f4f1f3" stroke="rgba(40,10,20,0.22)">1.27</text>
<text transform="translate(429.5 772.6) scale(0.85 1)" class="lb" fill="#f4f1f3" stroke="rgba(40,10,20,0.22)">1.2</text>
<text transform="translate(497.3 766.2) scale(0.85 1)" class="lb" fill="#f4f1f3" stroke="rgba(40,10,20,0.22)">1.19</text>
<text transform="translate(461.5 791.2) scale(0.85 1)" class="lb" fill="#f4f1f3" stroke="rgba(40,10,20,0.22)">1.25</text>
<text transform="translate(395.7 807.2) scale(0.85 1)" class="lb" fill="#f4f1f3" stroke="rgba(40,10,20,0.22)">1.15</text>
<text transform="translate(492.8 823.5) scale(0.85 1)" class="lb" fill="#b9b9be" opacity="0.6">1.36</text>
</g>
<!-- legend -->
<rect x="242" y="214.7" width="17" height="599.3" fill="url(#lg)"/>
<g fill="#111"><rect x="224.0" y="511.6" width="3.2" height="3.5"/><rect x="228.6" y="511.6" width="3.2" height="3.5"/><rect x="233.2" y="511.6" width="3.2" height="3.5"/><rect x="237.8" y="511.6" width="3.2" height="3.5"/><rect x="242.4" y="511.6" width="3.2" height="3.5"/><rect x="247.0" y="511.6" width="3.2" height="3.5"/><rect x="251.6" y="511.6" width="3.2" height="3.5"/><rect x="256.2" y="511.6" width="3.2" height="3.5"/></g>
<text x="187.5" y="240.5" font-family="Liberation Sans, Arial, sans-serif" font-weight="bold" font-size="38.5" fill="#111" textLength="45" lengthAdjust="spacingAndGlyphs">3&lt;</text>
<text x="166.5" y="530" font-family="Liberation Sans, Arial, sans-serif" font-weight="bold" font-size="36.5" fill="#111" textLength="44.5" lengthAdjust="spacingAndGlyphs">2.1</text>
<text x="147.5" y="816" font-family="Liberation Sans, Arial, sans-serif" font-weight="bold" font-size="34" fill="#111" textLength="86" lengthAdjust="spacingAndGlyphs">1.25&lt;</text>
<g font-family="Liberation Sans, Arial, sans-serif" font-style="italic" font-size="12.3" fill="#3a3a3e">
<text x="148" y="265" textLength="84" lengthAdjust="spacingAndGlyphs">(Children per</text>
<text x="148" y="281" textLength="52" lengthAdjust="spacingAndGlyphs">women)</text>
<text x="143" y="554" textLength="89" lengthAdjust="spacingAndGlyphs">(Replacement</text>
<text x="143" y="569" textLength="32" lengthAdjust="spacingAndGlyphs">Rate)</text>
<text x="148" y="751" textLength="84" lengthAdjust="spacingAndGlyphs">(Children per</text>
<text x="148" y="766" textLength="52" lengthAdjust="spacingAndGlyphs">women)</text>
</g>
<!-- title -->
<text x="191" y="111.5" font-family="Liberation Sans, Arial, sans-serif" font-weight="bold" font-size="52.5" fill="#0b0b0b" textLength="817" lengthAdjust="spacingAndGlyphs">Türkiye Fertility Rate 2009 vs 2025</text>
<text x="1012.5" y="106.5" font-family="Liberation Sans, Arial, sans-serif" font-weight="bold" font-size="46" fill="#0b0b0b" textLength="23" lengthAdjust="spacingAndGlyphs">*</text>
<text x="705" y="154" font-family="Liberation Sans, Arial, sans-serif" font-style="italic" font-size="28" fill="#c9c9cc" textLength="313" lengthAdjust="spacingAndGlyphs">Data Source: TURKSTAT</text>
<!-- footer -->
<g font-family="Liberation Sans, Arial, sans-serif" font-size="15.5" fill="#d2d2d5">
<text x="176" y="895" textLength="96" lengthAdjust="spacingAndGlyphs">B. Ali Koçer</text>
<text x="176" y="917" textLength="372" lengthAdjust="spacingAndGlyphs">(*) 2025 data covers the January-July period.</text>
<text x="176" y="938" textLength="362" lengthAdjust="spacingAndGlyphs">Tools: Illustrator, Datawrapper Map: © OSM</text>
</g>
<g font-family="Liberation Sans, Arial, sans-serif" font-weight="bold" font-size="21.5" fill="#cacacc">
<text x="862" y="904" textLength="133" lengthAdjust="spacingAndGlyphs">ORTADOĞU</text>
<text x="862" y="928.6" textLength="133" lengthAdjust="spacingAndGlyphs">İSTATİSTİK</text>
</g>
<rect x="1004.3" y="883.2" width="47.5" height="47.5" fill="#cfcfd1"/>
<path d="M1008 891.2 L1014.9 889.5 L1024 890 L1028.6 888.3 L1032.1 895.2 L1044.7 895.2 L1047 903.8 L1047.5 918.1 L1040.1 925.5 L1032.1 926.7 L1025.8 926.7 L1024.6 916.9 L1017.2 915.2 L1008 915.2 L1008 903.8 Z" fill="#e4e4e6"/>
<path d="M1029 889 L1030 905 L1026 915 M1009 904 L1024 906 L1032 903 L1046 904 M1033 905 L1040 918 L1046 921" fill="none" stroke="#d3d3d5" stroke-width="0.8"/>
</svg>
</body></html>
